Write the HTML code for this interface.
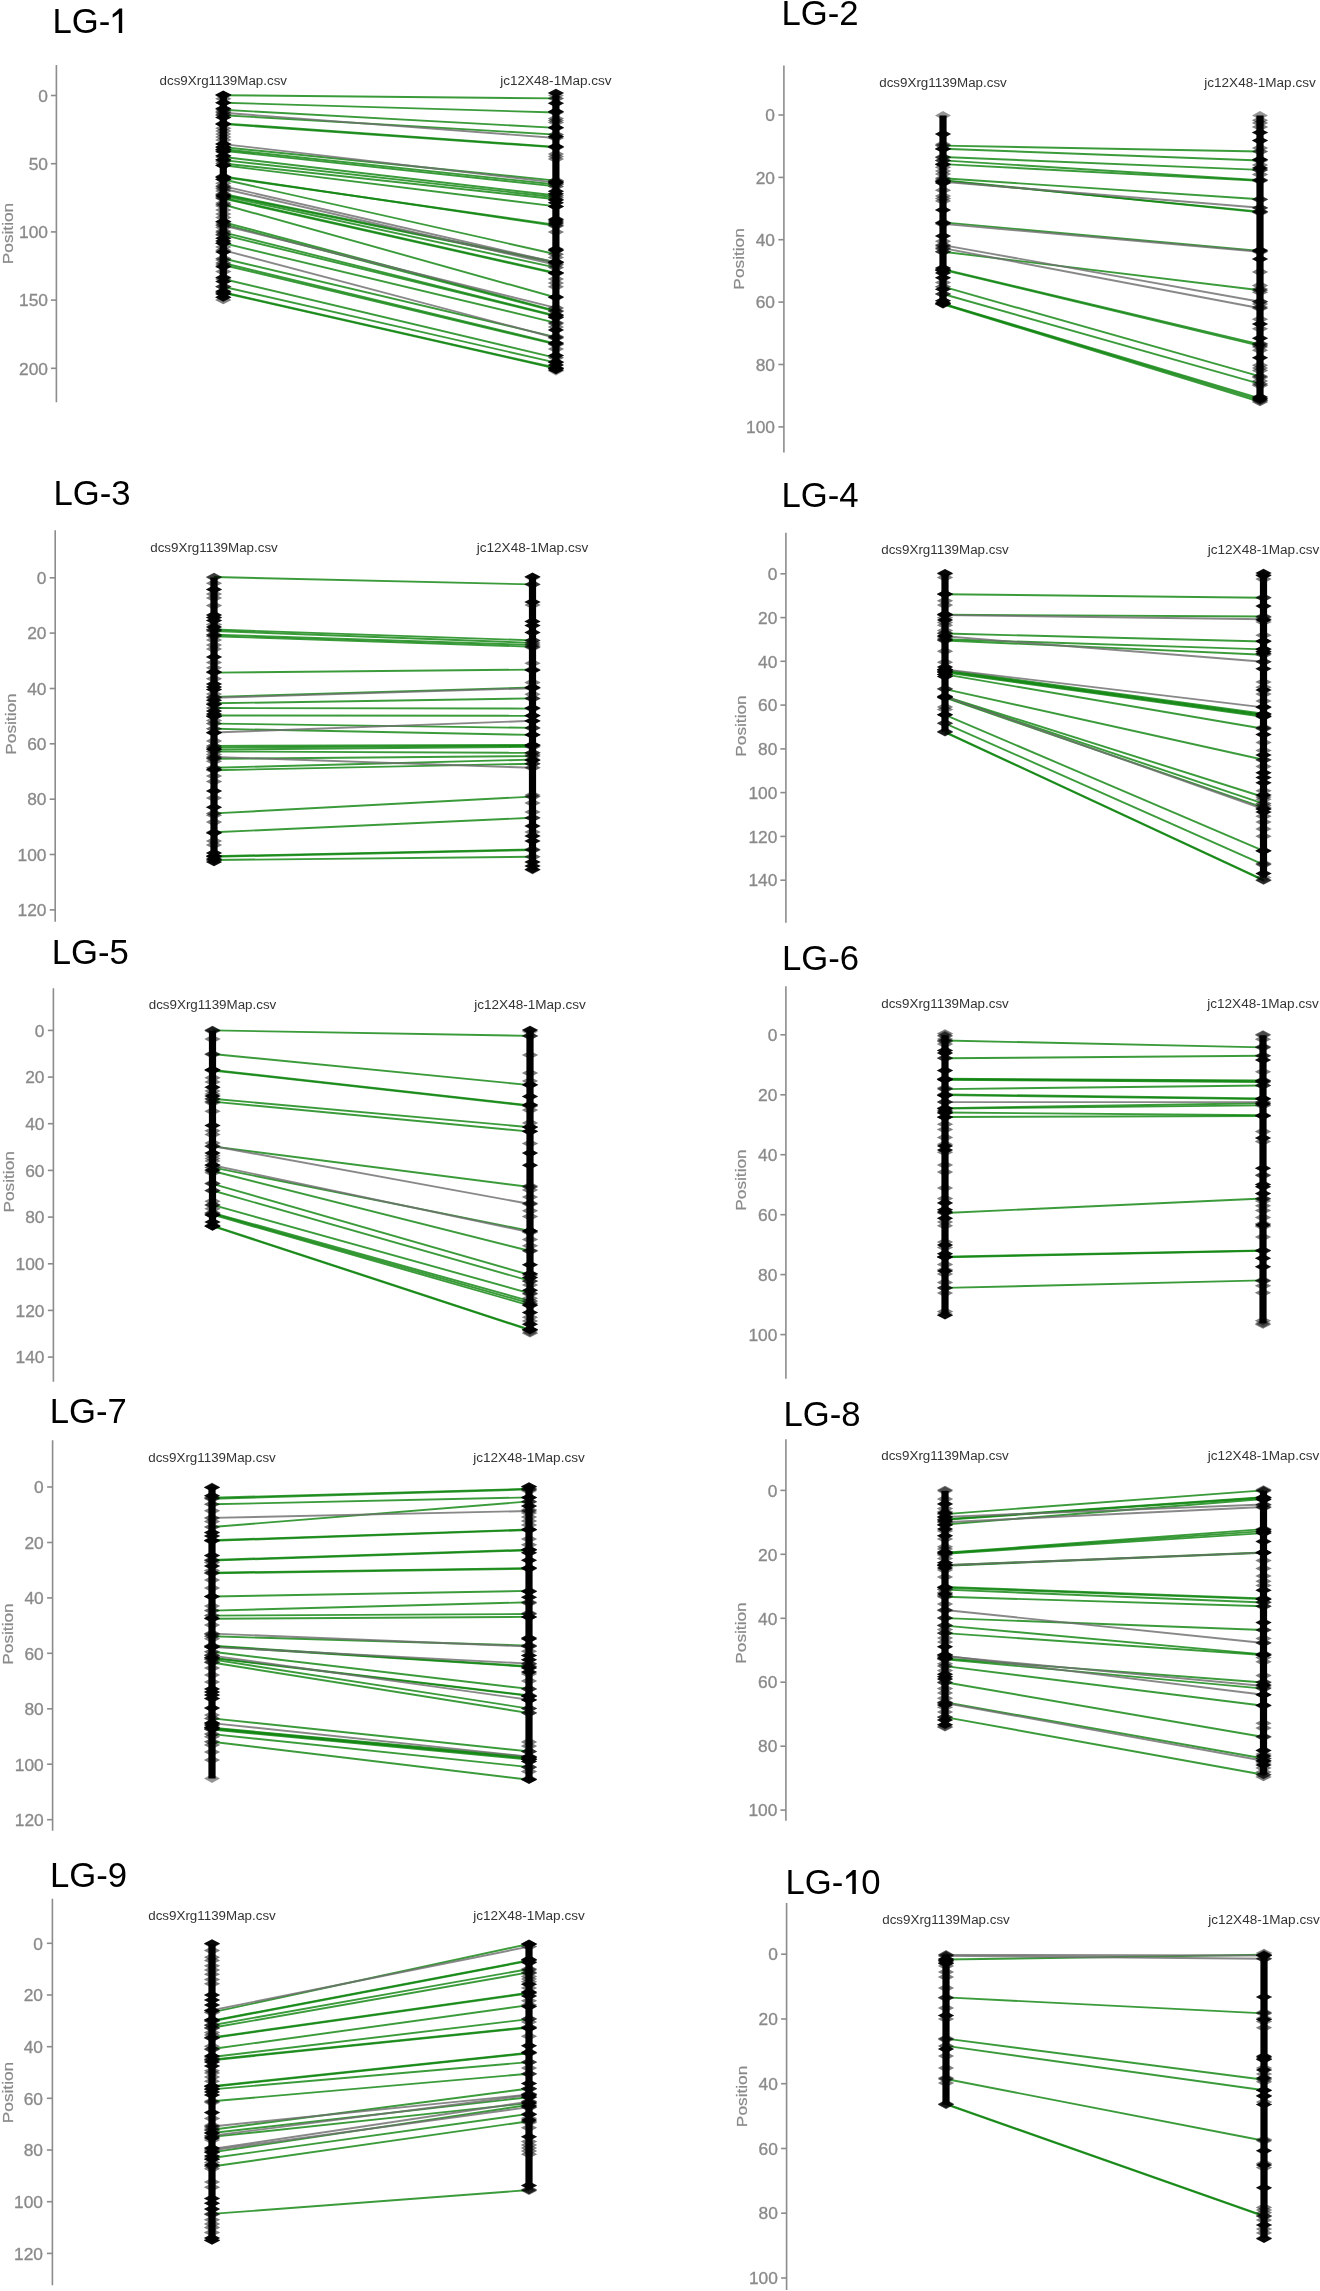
<!DOCTYPE html><html><head><meta charset="utf-8"><style>html,body{margin:0;padding:0;background:#fff;overflow:hidden;}svg{display:block;will-change:transform;}text{font-family:"Liberation Sans",sans-serif;}</style></head><body>
<svg width="1320" height="2291" viewBox="0 0 1320 2291">
<rect width="1320" height="2291" fill="#fff"/>
<g><text x="52.4" y="33" font-size="34.7" fill="#000">LG-</text><path d="M118.8 33L118.8 13.4L112.7 17.7L112.7 14.3Q116.2 12.1 119.4 8.5L122.2 8.5L122.2 33Z" fill="#000"/><line x1="56.4" y1="65" x2="56.4" y2="402.2" stroke="#8c8c8c" stroke-width="1.6"/><line x1="50.9" y1="95.5" x2="56.4" y2="95.5" stroke="#8c8c8c" stroke-width="1.6"/><text transform="translate(48,101.7) scale(1.06,1)" font-size="16.4" fill="#8a8a8a" stroke="#8a8a8a" stroke-width="0.3" text-anchor="end">0</text><line x1="50.9" y1="163.7" x2="56.4" y2="163.7" stroke="#8c8c8c" stroke-width="1.6"/><text transform="translate(48,169.9) scale(1.06,1)" font-size="16.4" fill="#8a8a8a" stroke="#8a8a8a" stroke-width="0.3" text-anchor="end">50</text><line x1="50.9" y1="231.9" x2="56.4" y2="231.9" stroke="#8c8c8c" stroke-width="1.6"/><text transform="translate(48,238.1) scale(1.06,1)" font-size="16.4" fill="#8a8a8a" stroke="#8a8a8a" stroke-width="0.3" text-anchor="end">100</text><line x1="50.9" y1="300.1" x2="56.4" y2="300.1" stroke="#8c8c8c" stroke-width="1.6"/><text transform="translate(48,306.3) scale(1.06,1)" font-size="16.4" fill="#8a8a8a" stroke="#8a8a8a" stroke-width="0.3" text-anchor="end">150</text><line x1="50.9" y1="368.3" x2="56.4" y2="368.3" stroke="#8c8c8c" stroke-width="1.6"/><text transform="translate(48,374.5) scale(1.06,1)" font-size="16.4" fill="#8a8a8a" stroke="#8a8a8a" stroke-width="0.3" text-anchor="end">200</text><text transform="translate(13.3,233.5) rotate(-90) scale(1.115,1)" font-size="15.5" fill="#8a8a8a" stroke="#8a8a8a" stroke-width="0.2" text-anchor="middle">Position</text><text x="223.3" y="85" font-size="12.5" fill="#333" text-anchor="middle" textLength="127.5" lengthAdjust="spacingAndGlyphs">dcs9Xrg1139Map.csv</text><text x="555.9" y="85" font-size="12.5" fill="#333" text-anchor="middle" textLength="111.5" lengthAdjust="spacingAndGlyphs">jc12X48-1Map.csv</text><line x1="223.3" y1="95.2" x2="555.9" y2="98.4" stroke="#108510" stroke-width="1.9" stroke-opacity="0.82"/><line x1="223.3" y1="102.7" x2="555.9" y2="112.5" stroke="#108510" stroke-width="1.9" stroke-opacity="0.82"/><line x1="223.3" y1="109.8" x2="555.9" y2="127.9" stroke="#108510" stroke-width="1.9" stroke-opacity="0.82"/><line x1="223.3" y1="115.2" x2="555.9" y2="134.6" stroke="#108510" stroke-width="1.9" stroke-opacity="0.82"/><line x1="223.3" y1="123.4" x2="555.9" y2="146.9" stroke="#108510" stroke-width="1.9" stroke-opacity="0.82"/><line x1="223.3" y1="124.1" x2="555.9" y2="147.4" stroke="#108510" stroke-width="1.9" stroke-opacity="0.82"/><line x1="223.3" y1="147.2" x2="555.9" y2="180.6" stroke="#108510" stroke-width="1.9" stroke-opacity="0.82"/><line x1="223.3" y1="149.2" x2="555.9" y2="184.5" stroke="#108510" stroke-width="1.9" stroke-opacity="0.82"/><line x1="223.3" y1="150.8" x2="555.9" y2="186.4" stroke="#108510" stroke-width="1.9" stroke-opacity="0.82"/><line x1="223.3" y1="157" x2="555.9" y2="195.5" stroke="#108510" stroke-width="1.9" stroke-opacity="0.82"/><line x1="223.3" y1="160.1" x2="555.9" y2="197.3" stroke="#108510" stroke-width="1.9" stroke-opacity="0.82"/><line x1="223.3" y1="163.5" x2="555.9" y2="199.2" stroke="#108510" stroke-width="1.9" stroke-opacity="0.82"/><line x1="223.3" y1="165.3" x2="555.9" y2="206.4" stroke="#108510" stroke-width="1.9" stroke-opacity="0.82"/><line x1="223.3" y1="176.4" x2="555.9" y2="225.9" stroke="#108510" stroke-width="1.9" stroke-opacity="0.82"/><line x1="223.3" y1="177.1" x2="555.9" y2="224.9" stroke="#108510" stroke-width="1.9" stroke-opacity="0.82"/><line x1="223.3" y1="179.5" x2="555.9" y2="254.2" stroke="#108510" stroke-width="1.9" stroke-opacity="0.82"/><line x1="223.3" y1="194" x2="555.9" y2="262.2" stroke="#108510" stroke-width="1.9" stroke-opacity="0.82"/><line x1="223.3" y1="194.7" x2="555.9" y2="262.9" stroke="#108510" stroke-width="1.9" stroke-opacity="0.82"/><line x1="223.3" y1="195.9" x2="555.9" y2="267.6" stroke="#108510" stroke-width="1.9" stroke-opacity="0.82"/><line x1="223.3" y1="197.8" x2="555.9" y2="272.9" stroke="#108510" stroke-width="1.9" stroke-opacity="0.82"/><line x1="223.3" y1="198.5" x2="555.9" y2="273.6" stroke="#108510" stroke-width="1.9" stroke-opacity="0.82"/><line x1="223.3" y1="204.5" x2="555.9" y2="297.5" stroke="#108510" stroke-width="1.9" stroke-opacity="0.82"/><line x1="223.3" y1="222.1" x2="555.9" y2="310.8" stroke="#108510" stroke-width="1.9" stroke-opacity="0.82"/><line x1="223.3" y1="224.1" x2="555.9" y2="311.5" stroke="#108510" stroke-width="1.9" stroke-opacity="0.82"/><line x1="223.3" y1="232.3" x2="555.9" y2="315.7" stroke="#108510" stroke-width="1.9" stroke-opacity="0.82"/><line x1="223.3" y1="234.9" x2="555.9" y2="316.3" stroke="#108510" stroke-width="1.9" stroke-opacity="0.82"/><line x1="223.3" y1="243.2" x2="555.9" y2="322.8" stroke="#108510" stroke-width="1.9" stroke-opacity="0.82"/><line x1="223.3" y1="258.5" x2="555.9" y2="337.2" stroke="#108510" stroke-width="1.9" stroke-opacity="0.82"/><line x1="223.3" y1="263" x2="555.9" y2="343.7" stroke="#108510" stroke-width="1.9" stroke-opacity="0.82"/><line x1="223.3" y1="265" x2="555.9" y2="344.4" stroke="#108510" stroke-width="1.9" stroke-opacity="0.82"/><line x1="223.3" y1="279" x2="555.9" y2="357.8" stroke="#108510" stroke-width="1.9" stroke-opacity="0.82"/><line x1="223.3" y1="286.7" x2="555.9" y2="362.6" stroke="#108510" stroke-width="1.9" stroke-opacity="0.82"/><line x1="223.3" y1="292.2" x2="555.9" y2="367.8" stroke="#108510" stroke-width="1.9" stroke-opacity="0.82"/><line x1="223.3" y1="292.9" x2="555.9" y2="368.5" stroke="#108510" stroke-width="1.9" stroke-opacity="0.82"/><line x1="223.3" y1="112.8" x2="555.9" y2="138" stroke="#6e6e6e" stroke-width="1.9" stroke-opacity="0.82"/><line x1="223.3" y1="144.1" x2="555.9" y2="182.6" stroke="#6e6e6e" stroke-width="1.9" stroke-opacity="0.82"/><line x1="223.3" y1="186.1" x2="555.9" y2="262.5" stroke="#6e6e6e" stroke-width="1.9" stroke-opacity="0.82"/><line x1="223.3" y1="188.7" x2="555.9" y2="264.7" stroke="#6e6e6e" stroke-width="1.9" stroke-opacity="0.82"/><line x1="223.3" y1="225.5" x2="555.9" y2="307.9" stroke="#6e6e6e" stroke-width="1.9" stroke-opacity="0.82"/><line x1="223.3" y1="250.2" x2="555.9" y2="338" stroke="#6e6e6e" stroke-width="1.9" stroke-opacity="0.82"/><rect x="219.7" y="95.5" width="7.2" height="202" fill="#000"/><path d="M215.1 94.8L223.3 90.5L231.5 94.8L223.3 99.1Z" fill="#000" fill-opacity="0.95"/><path d="M215.1 102.7L223.3 98.4L231.5 102.7L223.3 107Z" fill="#000" fill-opacity="0.95"/><path d="M215.1 108.6L223.3 104.3L231.5 108.6L223.3 112.9Z" fill="#000" fill-opacity="0.95"/><path d="M215.1 117.4L223.3 113.1L231.5 117.4L223.3 121.7Z" fill="#000" fill-opacity="0.95"/><path d="M215.1 124.3L223.3 120L231.5 124.3L223.3 128.6Z" fill="#000" fill-opacity="0.95"/><path d="M215.1 144L223.3 139.7L231.5 144L223.3 148.3Z" fill="#000" fill-opacity="0.95"/><path d="M215.1 147L223.3 142.7L231.5 147L223.3 151.3Z" fill="#000" fill-opacity="0.95"/><path d="M215.1 149.5L223.3 145.2L231.5 149.5L223.3 153.8Z" fill="#000" fill-opacity="0.95"/><path d="M215.1 151.8L223.3 147.5L231.5 151.8L223.3 156.1Z" fill="#000" fill-opacity="0.95"/><path d="M215.1 155.7L223.3 151.4L231.5 155.7L223.3 160Z" fill="#000" fill-opacity="0.95"/><path d="M215.1 159.7L223.3 155.4L231.5 159.7L223.3 164Z" fill="#000" fill-opacity="0.95"/><path d="M215.1 165.5L223.3 161.2L231.5 165.5L223.3 169.8Z" fill="#000" fill-opacity="0.95"/><path d="M215.1 177.3L223.3 173L231.5 177.3L223.3 181.6Z" fill="#000" fill-opacity="0.95"/><path d="M215.1 179.3L223.3 175L231.5 179.3L223.3 183.6Z" fill="#000" fill-opacity="0.95"/><path d="M215.1 196L223.3 191.7L231.5 196L223.3 200.3Z" fill="#000" fill-opacity="0.95"/><path d="M215.1 221.5L223.3 217.2L231.5 221.5L223.3 225.8Z" fill="#000" fill-opacity="0.95"/><path d="M215.1 238.2L223.3 233.9L231.5 238.2L223.3 242.5Z" fill="#000" fill-opacity="0.95"/><path d="M215.1 241L223.3 236.7L231.5 241L223.3 245.3Z" fill="#000" fill-opacity="0.95"/><path d="M215.1 243.2L223.3 238.9L231.5 243.2L223.3 247.5Z" fill="#000" fill-opacity="0.95"/><path d="M215.1 252L223.3 247.7L231.5 252L223.3 256.3Z" fill="#000" fill-opacity="0.95"/><path d="M215.1 266.7L223.3 262.4L231.5 266.7L223.3 271Z" fill="#000" fill-opacity="0.95"/><path d="M215.1 277.5L223.3 273.2L231.5 277.5L223.3 281.8Z" fill="#000" fill-opacity="0.95"/><path d="M215.1 281.5L223.3 277.2L231.5 281.5L223.3 285.8Z" fill="#000" fill-opacity="0.95"/><path d="M215.1 291.3L223.3 287L231.5 291.3L223.3 295.6Z" fill="#000" fill-opacity="0.95"/><path d="M215.1 294L223.3 289.7L231.5 294L223.3 298.3Z" fill="#000" fill-opacity="0.95"/><path d="M215.1 297.2L223.3 292.9L231.5 297.2L223.3 301.5Z" fill="#000" fill-opacity="0.95"/><path d="M215.1 98.8L223.3 94.5L231.5 98.8L223.3 103.1Z" fill="#000" fill-opacity="0.5"/><path d="M215.1 111.5L223.3 107.2L231.5 111.5L223.3 115.8Z" fill="#000" fill-opacity="0.5"/><path d="M215.1 114.5L223.3 110.2L231.5 114.5L223.3 118.8Z" fill="#000" fill-opacity="0.5"/><path d="M215.1 128.2L223.3 123.9L231.5 128.2L223.3 132.5Z" fill="#000" fill-opacity="0.5"/><path d="M215.1 131L223.3 126.7L231.5 131L223.3 135.3Z" fill="#000" fill-opacity="0.5"/><path d="M215.1 134L223.3 129.7L231.5 134L223.3 138.3Z" fill="#000" fill-opacity="0.5"/><path d="M215.1 137L223.3 132.7L231.5 137L223.3 141.3Z" fill="#000" fill-opacity="0.5"/><path d="M215.1 140L223.3 135.7L231.5 140L223.3 144.3Z" fill="#000" fill-opacity="0.5"/><path d="M215.1 161.6L223.3 157.3L231.5 161.6L223.3 165.9Z" fill="#000" fill-opacity="0.5"/><path d="M215.1 183.2L223.3 178.9L231.5 183.2L223.3 187.5Z" fill="#000" fill-opacity="0.5"/><path d="M215.1 187L223.3 182.7L231.5 187L223.3 191.3Z" fill="#000" fill-opacity="0.5"/><path d="M215.1 191L223.3 186.7L231.5 191L223.3 195.3Z" fill="#000" fill-opacity="0.5"/><path d="M215.1 202.9L223.3 198.6L231.5 202.9L223.3 207.2Z" fill="#000" fill-opacity="0.5"/><path d="M215.1 206L223.3 201.7L231.5 206L223.3 210.3Z" fill="#000" fill-opacity="0.5"/><path d="M215.1 210L223.3 205.7L231.5 210L223.3 214.3Z" fill="#000" fill-opacity="0.5"/><path d="M215.1 214L223.3 209.7L231.5 214L223.3 218.3Z" fill="#000" fill-opacity="0.5"/><path d="M215.1 217.6L223.3 213.3L231.5 217.6L223.3 221.9Z" fill="#000" fill-opacity="0.5"/><path d="M215.1 227.4L223.3 223.1L231.5 227.4L223.3 231.7Z" fill="#000" fill-opacity="0.5"/><path d="M215.1 231L223.3 226.7L231.5 231L223.3 235.3Z" fill="#000" fill-opacity="0.5"/><path d="M215.1 234.3L223.3 230L231.5 234.3L223.3 238.6Z" fill="#000" fill-opacity="0.5"/><path d="M215.1 247L223.3 242.7L231.5 247L223.3 251.3Z" fill="#000" fill-opacity="0.5"/><path d="M215.1 260L223.3 255.7L231.5 260L223.3 264.3Z" fill="#000" fill-opacity="0.5"/><path d="M215.1 271.6L223.3 267.3L231.5 271.6L223.3 275.9Z" fill="#000" fill-opacity="0.5"/><path d="M215.1 286.4L223.3 282.1L231.5 286.4L223.3 290.7Z" fill="#000" fill-opacity="0.5"/><path d="M215.1 300L223.3 295.7L231.5 300L223.3 304.3Z" fill="#000" fill-opacity="0.5"/><path d="M215.1 95.2L223.3 90.9L231.5 95.2L223.3 99.5Z" fill="#000" fill-opacity="0.6"/><path d="M215.1 102.7L223.3 98.4L231.5 102.7L223.3 107Z" fill="#000" fill-opacity="0.6"/><path d="M215.1 109.8L223.3 105.5L231.5 109.8L223.3 114.1Z" fill="#000" fill-opacity="0.6"/><path d="M215.1 112.8L223.3 108.5L231.5 112.8L223.3 117.1Z" fill="#000" fill-opacity="0.6"/><path d="M215.1 115.2L223.3 110.9L231.5 115.2L223.3 119.5Z" fill="#000" fill-opacity="0.6"/><path d="M215.1 123.4L223.3 119.1L231.5 123.4L223.3 127.7Z" fill="#000" fill-opacity="0.6"/><path d="M215.1 124.1L223.3 119.8L231.5 124.1L223.3 128.4Z" fill="#000" fill-opacity="0.6"/><path d="M215.1 144.1L223.3 139.8L231.5 144.1L223.3 148.4Z" fill="#000" fill-opacity="0.6"/><path d="M215.1 147.2L223.3 142.9L231.5 147.2L223.3 151.5Z" fill="#000" fill-opacity="0.6"/><path d="M215.1 149.2L223.3 144.9L231.5 149.2L223.3 153.5Z" fill="#000" fill-opacity="0.6"/><path d="M215.1 150.8L223.3 146.5L231.5 150.8L223.3 155.1Z" fill="#000" fill-opacity="0.6"/><path d="M215.1 157L223.3 152.7L231.5 157L223.3 161.3Z" fill="#000" fill-opacity="0.6"/><path d="M215.1 160.1L223.3 155.8L231.5 160.1L223.3 164.4Z" fill="#000" fill-opacity="0.6"/><path d="M215.1 163.5L223.3 159.2L231.5 163.5L223.3 167.8Z" fill="#000" fill-opacity="0.6"/><path d="M215.1 165.3L223.3 161L231.5 165.3L223.3 169.6Z" fill="#000" fill-opacity="0.6"/><path d="M215.1 176.4L223.3 172.1L231.5 176.4L223.3 180.7Z" fill="#000" fill-opacity="0.6"/><path d="M215.1 177.1L223.3 172.8L231.5 177.1L223.3 181.4Z" fill="#000" fill-opacity="0.6"/><path d="M215.1 179.5L223.3 175.2L231.5 179.5L223.3 183.8Z" fill="#000" fill-opacity="0.6"/><path d="M215.1 186.1L223.3 181.8L231.5 186.1L223.3 190.4Z" fill="#000" fill-opacity="0.6"/><path d="M215.1 188.7L223.3 184.4L231.5 188.7L223.3 193Z" fill="#000" fill-opacity="0.6"/><path d="M215.1 194L223.3 189.7L231.5 194L223.3 198.3Z" fill="#000" fill-opacity="0.6"/><path d="M215.1 194.7L223.3 190.4L231.5 194.7L223.3 199Z" fill="#000" fill-opacity="0.6"/><path d="M215.1 195.9L223.3 191.6L231.5 195.9L223.3 200.2Z" fill="#000" fill-opacity="0.6"/><path d="M215.1 197.8L223.3 193.5L231.5 197.8L223.3 202.1Z" fill="#000" fill-opacity="0.6"/><path d="M215.1 198.5L223.3 194.2L231.5 198.5L223.3 202.8Z" fill="#000" fill-opacity="0.6"/><path d="M215.1 204.5L223.3 200.2L231.5 204.5L223.3 208.8Z" fill="#000" fill-opacity="0.6"/><path d="M215.1 222.1L223.3 217.8L231.5 222.1L223.3 226.4Z" fill="#000" fill-opacity="0.6"/><path d="M215.1 224.1L223.3 219.8L231.5 224.1L223.3 228.4Z" fill="#000" fill-opacity="0.6"/><path d="M215.1 225.5L223.3 221.2L231.5 225.5L223.3 229.8Z" fill="#000" fill-opacity="0.6"/><path d="M215.1 232.3L223.3 228L231.5 232.3L223.3 236.6Z" fill="#000" fill-opacity="0.6"/><path d="M215.1 234.9L223.3 230.6L231.5 234.9L223.3 239.2Z" fill="#000" fill-opacity="0.6"/><path d="M215.1 243.2L223.3 238.9L231.5 243.2L223.3 247.5Z" fill="#000" fill-opacity="0.6"/><path d="M215.1 250.2L223.3 245.9L231.5 250.2L223.3 254.5Z" fill="#000" fill-opacity="0.6"/><path d="M215.1 258.5L223.3 254.2L231.5 258.5L223.3 262.8Z" fill="#000" fill-opacity="0.6"/><path d="M215.1 263L223.3 258.7L231.5 263L223.3 267.3Z" fill="#000" fill-opacity="0.6"/><path d="M215.1 265L223.3 260.7L231.5 265L223.3 269.3Z" fill="#000" fill-opacity="0.6"/><path d="M215.1 279L223.3 274.7L231.5 279L223.3 283.3Z" fill="#000" fill-opacity="0.6"/><path d="M215.1 286.7L223.3 282.4L231.5 286.7L223.3 291Z" fill="#000" fill-opacity="0.6"/><path d="M215.1 292.2L223.3 287.9L231.5 292.2L223.3 296.5Z" fill="#000" fill-opacity="0.6"/><path d="M215.1 292.9L223.3 288.6L231.5 292.9L223.3 297.2Z" fill="#000" fill-opacity="0.6"/><path d="M215.3 95.5L223.3 91L231.3 95.5L223.3 100ZM215.3 297.5L223.3 293L231.3 297.5L223.3 302Z" fill="#000" fill-opacity="0.42"/><rect x="552.3" y="95.5" width="7.2" height="275.5" fill="#000"/><path d="M547.7 93L555.9 88.7L564.1 93L555.9 97.3Z" fill="#000" fill-opacity="0.95"/><path d="M547.7 103.3L555.9 99L564.1 103.3L555.9 107.6Z" fill="#000" fill-opacity="0.95"/><path d="M547.7 111.6L555.9 107.3L564.1 111.6L555.9 115.9Z" fill="#000" fill-opacity="0.95"/><path d="M547.7 127.5L555.9 123.2L564.1 127.5L555.9 131.8Z" fill="#000" fill-opacity="0.95"/><path d="M547.7 136.4L555.9 132.1L564.1 136.4L555.9 140.7Z" fill="#000" fill-opacity="0.95"/><path d="M547.7 146.6L555.9 142.3L564.1 146.6L555.9 150.9Z" fill="#000" fill-opacity="0.95"/><path d="M547.7 181.7L555.9 177.4L564.1 181.7L555.9 186Z" fill="#000" fill-opacity="0.95"/><path d="M547.7 183L555.9 178.7L564.1 183L555.9 187.3Z" fill="#000" fill-opacity="0.95"/><path d="M547.7 191.2L555.9 186.9L564.1 191.2L555.9 195.5Z" fill="#000" fill-opacity="0.95"/><path d="M547.7 193.8L555.9 189.5L564.1 193.8L555.9 198.1Z" fill="#000" fill-opacity="0.95"/><path d="M547.7 200L555.9 195.7L564.1 200L555.9 204.3Z" fill="#000" fill-opacity="0.95"/><path d="M547.7 202.7L555.9 198.4L564.1 202.7L555.9 207Z" fill="#000" fill-opacity="0.95"/><path d="M547.7 206.5L555.9 202.2L564.1 206.5L555.9 210.8Z" fill="#000" fill-opacity="0.95"/><path d="M547.7 219.3L555.9 215L564.1 219.3L555.9 223.6Z" fill="#000" fill-opacity="0.95"/><path d="M547.7 221L555.9 216.7L564.1 221L555.9 225.3Z" fill="#000" fill-opacity="0.95"/><path d="M547.7 223L555.9 218.7L564.1 223L555.9 227.3Z" fill="#000" fill-opacity="0.95"/><path d="M547.7 249.2L555.9 244.9L564.1 249.2L555.9 253.5Z" fill="#000" fill-opacity="0.95"/><path d="M547.7 250.5L555.9 246.2L564.1 250.5L555.9 254.8Z" fill="#000" fill-opacity="0.95"/><path d="M547.7 262L555.9 257.7L564.1 262L555.9 266.3Z" fill="#000" fill-opacity="0.95"/><path d="M547.7 272.8L555.9 268.5L564.1 272.8L555.9 277.1Z" fill="#000" fill-opacity="0.95"/><path d="M547.7 297L555.9 292.7L564.1 297L555.9 301.3Z" fill="#000" fill-opacity="0.95"/><path d="M547.7 314.9L555.9 310.6L564.1 314.9L555.9 319.2Z" fill="#000" fill-opacity="0.95"/><path d="M547.7 317.4L555.9 313.1L564.1 317.4L555.9 321.7Z" fill="#000" fill-opacity="0.95"/><path d="M547.7 330L555.9 325.7L564.1 330L555.9 334.3Z" fill="#000" fill-opacity="0.95"/><path d="M547.7 343L555.9 338.7L564.1 343L555.9 347.3Z" fill="#000" fill-opacity="0.95"/><path d="M547.7 355.6L555.9 351.3L564.1 355.6L555.9 359.9Z" fill="#000" fill-opacity="0.95"/><path d="M547.7 362L555.9 357.7L564.1 362L555.9 366.3Z" fill="#000" fill-opacity="0.95"/><path d="M547.7 365L555.9 360.7L564.1 365L555.9 369.3Z" fill="#000" fill-opacity="0.95"/><path d="M547.7 368.4L555.9 364.1L564.1 368.4L555.9 372.7Z" fill="#000" fill-opacity="0.95"/><path d="M547.7 370L555.9 365.7L564.1 370L555.9 374.3Z" fill="#000" fill-opacity="0.95"/><path d="M547.7 118.6L555.9 114.3L564.1 118.6L555.9 122.9Z" fill="#000" fill-opacity="0.5"/><path d="M547.7 120.5L555.9 116.2L564.1 120.5L555.9 124.8Z" fill="#000" fill-opacity="0.5"/><path d="M547.7 122.4L555.9 118.1L564.1 122.4L555.9 126.7Z" fill="#000" fill-opacity="0.5"/><path d="M547.7 154L555.9 149.7L564.1 154L555.9 158.3Z" fill="#000" fill-opacity="0.5"/><path d="M547.7 156.5L555.9 152.2L564.1 156.5L555.9 160.8Z" fill="#000" fill-opacity="0.5"/><path d="M547.7 159L555.9 154.7L564.1 159L555.9 163.3Z" fill="#000" fill-opacity="0.5"/><path d="M547.7 232L555.9 227.7L564.1 232L555.9 236.3Z" fill="#000" fill-opacity="0.5"/><path d="M547.7 257.5L555.9 253.2L564.1 257.5L555.9 261.8Z" fill="#000" fill-opacity="0.5"/><path d="M547.7 279L555.9 274.7L564.1 279L555.9 283.3Z" fill="#000" fill-opacity="0.5"/><path d="M547.7 283L555.9 278.7L564.1 283L555.9 287.3Z" fill="#000" fill-opacity="0.5"/><path d="M547.7 286.8L555.9 282.5L564.1 286.8L555.9 291.1Z" fill="#000" fill-opacity="0.5"/><path d="M547.7 323.8L555.9 319.5L564.1 323.8L555.9 328.1Z" fill="#000" fill-opacity="0.5"/><path d="M547.7 327L555.9 322.7L564.1 327L555.9 331.3Z" fill="#000" fill-opacity="0.5"/><path d="M547.7 336.5L555.9 332.2L564.1 336.5L555.9 340.8Z" fill="#000" fill-opacity="0.5"/><path d="M547.7 349L555.9 344.7L564.1 349L555.9 353.3Z" fill="#000" fill-opacity="0.5"/><path d="M547.7 98.4L555.9 94.1L564.1 98.4L555.9 102.7Z" fill="#000" fill-opacity="0.6"/><path d="M547.7 112.5L555.9 108.2L564.1 112.5L555.9 116.8Z" fill="#000" fill-opacity="0.6"/><path d="M547.7 127.9L555.9 123.6L564.1 127.9L555.9 132.2Z" fill="#000" fill-opacity="0.6"/><path d="M547.7 134.6L555.9 130.3L564.1 134.6L555.9 138.9Z" fill="#000" fill-opacity="0.6"/><path d="M547.7 138L555.9 133.7L564.1 138L555.9 142.3Z" fill="#000" fill-opacity="0.6"/><path d="M547.7 146.9L555.9 142.6L564.1 146.9L555.9 151.2Z" fill="#000" fill-opacity="0.6"/><path d="M547.7 147.4L555.9 143.1L564.1 147.4L555.9 151.7Z" fill="#000" fill-opacity="0.6"/><path d="M547.7 180.6L555.9 176.3L564.1 180.6L555.9 184.9Z" fill="#000" fill-opacity="0.6"/><path d="M547.7 182.6L555.9 178.3L564.1 182.6L555.9 186.9Z" fill="#000" fill-opacity="0.6"/><path d="M547.7 184.5L555.9 180.2L564.1 184.5L555.9 188.8Z" fill="#000" fill-opacity="0.6"/><path d="M547.7 186.4L555.9 182.1L564.1 186.4L555.9 190.7Z" fill="#000" fill-opacity="0.6"/><path d="M547.7 195.5L555.9 191.2L564.1 195.5L555.9 199.8Z" fill="#000" fill-opacity="0.6"/><path d="M547.7 197.3L555.9 193L564.1 197.3L555.9 201.6Z" fill="#000" fill-opacity="0.6"/><path d="M547.7 199.2L555.9 194.9L564.1 199.2L555.9 203.5Z" fill="#000" fill-opacity="0.6"/><path d="M547.7 206.4L555.9 202.1L564.1 206.4L555.9 210.7Z" fill="#000" fill-opacity="0.6"/><path d="M547.7 224.9L555.9 220.6L564.1 224.9L555.9 229.2Z" fill="#000" fill-opacity="0.6"/><path d="M547.7 225.9L555.9 221.6L564.1 225.9L555.9 230.2Z" fill="#000" fill-opacity="0.6"/><path d="M547.7 254.2L555.9 249.9L564.1 254.2L555.9 258.5Z" fill="#000" fill-opacity="0.6"/><path d="M547.7 262.2L555.9 257.9L564.1 262.2L555.9 266.5Z" fill="#000" fill-opacity="0.6"/><path d="M547.7 262.5L555.9 258.2L564.1 262.5L555.9 266.8Z" fill="#000" fill-opacity="0.6"/><path d="M547.7 262.9L555.9 258.6L564.1 262.9L555.9 267.2Z" fill="#000" fill-opacity="0.6"/><path d="M547.7 264.7L555.9 260.4L564.1 264.7L555.9 269Z" fill="#000" fill-opacity="0.6"/><path d="M547.7 267.6L555.9 263.3L564.1 267.6L555.9 271.9Z" fill="#000" fill-opacity="0.6"/><path d="M547.7 272.9L555.9 268.6L564.1 272.9L555.9 277.2Z" fill="#000" fill-opacity="0.6"/><path d="M547.7 273.6L555.9 269.3L564.1 273.6L555.9 277.9Z" fill="#000" fill-opacity="0.6"/><path d="M547.7 297.5L555.9 293.2L564.1 297.5L555.9 301.8Z" fill="#000" fill-opacity="0.6"/><path d="M547.7 307.9L555.9 303.6L564.1 307.9L555.9 312.2Z" fill="#000" fill-opacity="0.6"/><path d="M547.7 310.8L555.9 306.5L564.1 310.8L555.9 315.1Z" fill="#000" fill-opacity="0.6"/><path d="M547.7 311.5L555.9 307.2L564.1 311.5L555.9 315.8Z" fill="#000" fill-opacity="0.6"/><path d="M547.7 315.7L555.9 311.4L564.1 315.7L555.9 320Z" fill="#000" fill-opacity="0.6"/><path d="M547.7 316.3L555.9 312L564.1 316.3L555.9 320.6Z" fill="#000" fill-opacity="0.6"/><path d="M547.7 322.8L555.9 318.5L564.1 322.8L555.9 327.1Z" fill="#000" fill-opacity="0.6"/><path d="M547.7 337.2L555.9 332.9L564.1 337.2L555.9 341.5Z" fill="#000" fill-opacity="0.6"/><path d="M547.7 338L555.9 333.7L564.1 338L555.9 342.3Z" fill="#000" fill-opacity="0.6"/><path d="M547.7 343.7L555.9 339.4L564.1 343.7L555.9 348Z" fill="#000" fill-opacity="0.6"/><path d="M547.7 344.4L555.9 340.1L564.1 344.4L555.9 348.7Z" fill="#000" fill-opacity="0.6"/><path d="M547.7 357.8L555.9 353.5L564.1 357.8L555.9 362.1Z" fill="#000" fill-opacity="0.6"/><path d="M547.7 362.6L555.9 358.3L564.1 362.6L555.9 366.9Z" fill="#000" fill-opacity="0.6"/><path d="M547.7 367.8L555.9 363.5L564.1 367.8L555.9 372.1Z" fill="#000" fill-opacity="0.6"/><path d="M547.7 368.5L555.9 364.2L564.1 368.5L555.9 372.8Z" fill="#000" fill-opacity="0.6"/><path d="M547.9 95.5L555.9 91L563.9 95.5L555.9 100ZM547.9 371L555.9 366.5L563.9 371L555.9 375.5Z" fill="#000" fill-opacity="0.42"/></g>
<g><text x="781.4" y="24.8" font-size="34.7" fill="#000">LG-2</text><line x1="783.9" y1="65.5" x2="783.9" y2="452.6" stroke="#8c8c8c" stroke-width="1.6"/><line x1="778.4" y1="115" x2="783.9" y2="115" stroke="#8c8c8c" stroke-width="1.6"/><text transform="translate(775,121.2) scale(1.06,1)" font-size="16.4" fill="#8a8a8a" stroke="#8a8a8a" stroke-width="0.3" text-anchor="end">0</text><line x1="778.4" y1="177.4" x2="783.9" y2="177.4" stroke="#8c8c8c" stroke-width="1.6"/><text transform="translate(775,183.6) scale(1.06,1)" font-size="16.4" fill="#8a8a8a" stroke="#8a8a8a" stroke-width="0.3" text-anchor="end">20</text><line x1="778.4" y1="239.7" x2="783.9" y2="239.7" stroke="#8c8c8c" stroke-width="1.6"/><text transform="translate(775,245.9) scale(1.06,1)" font-size="16.4" fill="#8a8a8a" stroke="#8a8a8a" stroke-width="0.3" text-anchor="end">40</text><line x1="778.4" y1="302.1" x2="783.9" y2="302.1" stroke="#8c8c8c" stroke-width="1.6"/><text transform="translate(775,308.3) scale(1.06,1)" font-size="16.4" fill="#8a8a8a" stroke="#8a8a8a" stroke-width="0.3" text-anchor="end">60</text><line x1="778.4" y1="364.5" x2="783.9" y2="364.5" stroke="#8c8c8c" stroke-width="1.6"/><text transform="translate(775,370.7) scale(1.06,1)" font-size="16.4" fill="#8a8a8a" stroke="#8a8a8a" stroke-width="0.3" text-anchor="end">80</text><line x1="778.4" y1="426.9" x2="783.9" y2="426.9" stroke="#8c8c8c" stroke-width="1.6"/><text transform="translate(775,433.1) scale(1.06,1)" font-size="16.4" fill="#8a8a8a" stroke="#8a8a8a" stroke-width="0.3" text-anchor="end">100</text><text transform="translate(743.6,258.9) rotate(-90) scale(1.115,1)" font-size="15.5" fill="#8a8a8a" stroke="#8a8a8a" stroke-width="0.2" text-anchor="middle">Position</text><text x="943" y="86.5" font-size="12.5" fill="#333" text-anchor="middle" textLength="127.5" lengthAdjust="spacingAndGlyphs">dcs9Xrg1139Map.csv</text><text x="1260" y="86.5" font-size="12.5" fill="#333" text-anchor="middle" textLength="111.5" lengthAdjust="spacingAndGlyphs">jc12X48-1Map.csv</text><line x1="943" y1="145.6" x2="1260" y2="151.5" stroke="#108510" stroke-width="1.9" stroke-opacity="0.82"/><line x1="943" y1="148.8" x2="1260" y2="160.5" stroke="#108510" stroke-width="1.9" stroke-opacity="0.82"/><line x1="943" y1="157" x2="1260" y2="169.9" stroke="#108510" stroke-width="1.9" stroke-opacity="0.82"/><line x1="943" y1="160.4" x2="1260" y2="180.3" stroke="#108510" stroke-width="1.9" stroke-opacity="0.82"/><line x1="943" y1="164.1" x2="1260" y2="180.8" stroke="#108510" stroke-width="1.9" stroke-opacity="0.82"/><line x1="943" y1="178.3" x2="1260" y2="199.3" stroke="#108510" stroke-width="1.9" stroke-opacity="0.82"/><line x1="943" y1="180.8" x2="1260" y2="211.6" stroke="#108510" stroke-width="1.9" stroke-opacity="0.82"/><line x1="943" y1="180.1" x2="1260" y2="212.4" stroke="#108510" stroke-width="1.9" stroke-opacity="0.82"/><line x1="943" y1="222.4" x2="1260" y2="251" stroke="#108510" stroke-width="1.9" stroke-opacity="0.82"/><line x1="943" y1="251.7" x2="1260" y2="290.3" stroke="#108510" stroke-width="1.9" stroke-opacity="0.82"/><line x1="943" y1="269.2" x2="1260" y2="344.3" stroke="#108510" stroke-width="1.9" stroke-opacity="0.82"/><line x1="943" y1="269.8" x2="1260" y2="345.8" stroke="#108510" stroke-width="1.9" stroke-opacity="0.82"/><line x1="943" y1="286.7" x2="1260" y2="376.3" stroke="#108510" stroke-width="1.9" stroke-opacity="0.82"/><line x1="943" y1="294" x2="1260" y2="383.9" stroke="#108510" stroke-width="1.9" stroke-opacity="0.82"/><line x1="943" y1="303.6" x2="1260" y2="398.4" stroke="#108510" stroke-width="1.9" stroke-opacity="0.82"/><line x1="943" y1="303.9" x2="1260" y2="400.2" stroke="#108510" stroke-width="1.9" stroke-opacity="0.82"/><line x1="943" y1="304.3" x2="1260" y2="401.9" stroke="#108510" stroke-width="1.9" stroke-opacity="0.82"/><line x1="943" y1="181.8" x2="1260" y2="207.7" stroke="#6e6e6e" stroke-width="1.9" stroke-opacity="0.82"/><line x1="943" y1="223.9" x2="1260" y2="251.7" stroke="#6e6e6e" stroke-width="1.9" stroke-opacity="0.82"/><line x1="943" y1="245.1" x2="1260" y2="301.7" stroke="#6e6e6e" stroke-width="1.9" stroke-opacity="0.82"/><line x1="943" y1="248.1" x2="1260" y2="308.2" stroke="#6e6e6e" stroke-width="1.9" stroke-opacity="0.82"/><rect x="939.4" y="115.5" width="7.2" height="188.5" fill="#000"/><path d="M934.8 134.1L943 129.8L951.2 134.1L943 138.4Z" fill="#000" fill-opacity="0.95"/><path d="M934.8 149L943 144.7L951.2 149L943 153.3Z" fill="#000" fill-opacity="0.95"/><path d="M934.8 164.4L943 160.1L951.2 164.4L943 168.7Z" fill="#000" fill-opacity="0.95"/><path d="M934.8 181.7L943 177.4L951.2 181.7L943 186Z" fill="#000" fill-opacity="0.95"/><path d="M934.8 183L943 178.7L951.2 183L943 187.3Z" fill="#000" fill-opacity="0.95"/><path d="M934.8 210L943 205.7L951.2 210L943 214.3Z" fill="#000" fill-opacity="0.95"/><path d="M934.8 223L943 218.7L951.2 223L943 227.3Z" fill="#000" fill-opacity="0.95"/><path d="M934.8 236L943 231.7L951.2 236L943 240.3Z" fill="#000" fill-opacity="0.95"/><path d="M934.8 268L943 263.7L951.2 268L943 272.3Z" fill="#000" fill-opacity="0.95"/><path d="M934.8 270.5L943 266.2L951.2 270.5L943 274.8Z" fill="#000" fill-opacity="0.95"/><path d="M934.8 272.9L943 268.6L951.2 272.9L943 277.2Z" fill="#000" fill-opacity="0.95"/><path d="M934.8 277.7L943 273.4L951.2 277.7L943 282Z" fill="#000" fill-opacity="0.95"/><path d="M934.8 289.2L943 284.9L951.2 289.2L943 293.5Z" fill="#000" fill-opacity="0.95"/><path d="M934.8 300.8L943 296.5L951.2 300.8L943 305.1Z" fill="#000" fill-opacity="0.95"/><path d="M934.8 303L943 298.7L951.2 303L943 307.3Z" fill="#000" fill-opacity="0.95"/><path d="M934.8 144.2L943 139.9L951.2 144.2L943 148.5Z" fill="#000" fill-opacity="0.5"/><path d="M934.8 157.6L943 153.3L951.2 157.6L943 161.9Z" fill="#000" fill-opacity="0.5"/><path d="M934.8 160.5L943 156.2L951.2 160.5L943 164.8Z" fill="#000" fill-opacity="0.5"/><path d="M934.8 167.2L943 162.9L951.2 167.2L943 171.5Z" fill="#000" fill-opacity="0.5"/><path d="M934.8 171L943 166.7L951.2 171L943 175.3Z" fill="#000" fill-opacity="0.5"/><path d="M934.8 174L943 169.7L951.2 174L943 178.3Z" fill="#000" fill-opacity="0.5"/><path d="M934.8 190.3L943 186L951.2 190.3L943 194.6Z" fill="#000" fill-opacity="0.5"/><path d="M934.8 196L943 191.7L951.2 196L943 200.3Z" fill="#000" fill-opacity="0.5"/><path d="M934.8 198.5L943 194.2L951.2 198.5L943 202.8Z" fill="#000" fill-opacity="0.5"/><path d="M934.8 200.9L943 196.6L951.2 200.9L943 205.2Z" fill="#000" fill-opacity="0.5"/><path d="M934.8 241.2L943 236.9L951.2 241.2L943 245.5Z" fill="#000" fill-opacity="0.5"/><path d="M934.8 246L943 241.7L951.2 246L943 250.3Z" fill="#000" fill-opacity="0.5"/><path d="M934.8 249L943 244.7L951.2 249L943 253.3Z" fill="#000" fill-opacity="0.5"/><path d="M934.8 251.8L943 247.5L951.2 251.8L943 256.1Z" fill="#000" fill-opacity="0.5"/><path d="M934.8 282.5L943 278.2L951.2 282.5L943 286.8Z" fill="#000" fill-opacity="0.5"/><path d="M934.8 294L943 289.7L951.2 294L943 298.3Z" fill="#000" fill-opacity="0.5"/><path d="M934.8 145.6L943 141.3L951.2 145.6L943 149.9Z" fill="#000" fill-opacity="0.6"/><path d="M934.8 148.8L943 144.5L951.2 148.8L943 153.1Z" fill="#000" fill-opacity="0.6"/><path d="M934.8 157L943 152.7L951.2 157L943 161.3Z" fill="#000" fill-opacity="0.6"/><path d="M934.8 160.4L943 156.1L951.2 160.4L943 164.7Z" fill="#000" fill-opacity="0.6"/><path d="M934.8 164.1L943 159.8L951.2 164.1L943 168.4Z" fill="#000" fill-opacity="0.6"/><path d="M934.8 178.3L943 174L951.2 178.3L943 182.6Z" fill="#000" fill-opacity="0.6"/><path d="M934.8 180.1L943 175.8L951.2 180.1L943 184.4Z" fill="#000" fill-opacity="0.6"/><path d="M934.8 180.8L943 176.5L951.2 180.8L943 185.1Z" fill="#000" fill-opacity="0.6"/><path d="M934.8 181.8L943 177.5L951.2 181.8L943 186.1Z" fill="#000" fill-opacity="0.6"/><path d="M934.8 222.4L943 218.1L951.2 222.4L943 226.7Z" fill="#000" fill-opacity="0.6"/><path d="M934.8 223.9L943 219.6L951.2 223.9L943 228.2Z" fill="#000" fill-opacity="0.6"/><path d="M934.8 245.1L943 240.8L951.2 245.1L943 249.4Z" fill="#000" fill-opacity="0.6"/><path d="M934.8 248.1L943 243.8L951.2 248.1L943 252.4Z" fill="#000" fill-opacity="0.6"/><path d="M934.8 251.7L943 247.4L951.2 251.7L943 256Z" fill="#000" fill-opacity="0.6"/><path d="M934.8 269.2L943 264.9L951.2 269.2L943 273.5Z" fill="#000" fill-opacity="0.6"/><path d="M934.8 269.8L943 265.5L951.2 269.8L943 274.1Z" fill="#000" fill-opacity="0.6"/><path d="M934.8 286.7L943 282.4L951.2 286.7L943 291Z" fill="#000" fill-opacity="0.6"/><path d="M934.8 294L943 289.7L951.2 294L943 298.3Z" fill="#000" fill-opacity="0.6"/><path d="M934.8 303.6L943 299.3L951.2 303.6L943 307.9Z" fill="#000" fill-opacity="0.6"/><path d="M934.8 303.9L943 299.6L951.2 303.9L943 308.2Z" fill="#000" fill-opacity="0.6"/><path d="M934.8 304.3L943 300L951.2 304.3L943 308.6Z" fill="#000" fill-opacity="0.6"/><path d="M935 115.5L943 111L951 115.5L943 120ZM935 304L943 299.5L951 304L943 308.5Z" fill="#000" fill-opacity="0.42"/><rect x="1256.4" y="115.5" width="7.2" height="285" fill="#000"/><path d="M1251.8 132.5L1260 128.2L1268.2 132.5L1260 136.8Z" fill="#000" fill-opacity="0.95"/><path d="M1251.8 140.6L1260 136.3L1268.2 140.6L1260 144.9Z" fill="#000" fill-opacity="0.95"/><path d="M1251.8 159.5L1260 155.2L1268.2 159.5L1260 163.8Z" fill="#000" fill-opacity="0.95"/><path d="M1251.8 168L1260 163.7L1268.2 168L1260 172.3Z" fill="#000" fill-opacity="0.95"/><path d="M1251.8 250.2L1260 245.9L1268.2 250.2L1260 254.5Z" fill="#000" fill-opacity="0.95"/><path d="M1251.8 259L1260 254.7L1268.2 259L1260 263.3Z" fill="#000" fill-opacity="0.95"/><path d="M1251.8 324L1260 319.7L1268.2 324L1260 328.3Z" fill="#000" fill-opacity="0.95"/><path d="M1251.8 338.2L1260 333.9L1268.2 338.2L1260 342.5Z" fill="#000" fill-opacity="0.95"/><path d="M1251.8 357.8L1260 353.5L1268.2 357.8L1260 362.1Z" fill="#000" fill-opacity="0.95"/><path d="M1251.8 397L1260 392.7L1268.2 397L1260 401.3Z" fill="#000" fill-opacity="0.95"/><path d="M1251.8 399L1260 394.7L1268.2 399L1260 403.3Z" fill="#000" fill-opacity="0.95"/><path d="M1251.8 120.3L1260 116L1268.2 120.3L1260 124.6Z" fill="#000" fill-opacity="0.5"/><path d="M1251.8 123L1260 118.7L1268.2 123L1260 127.3Z" fill="#000" fill-opacity="0.5"/><path d="M1251.8 127L1260 122.7L1268.2 127L1260 131.3Z" fill="#000" fill-opacity="0.5"/><path d="M1251.8 148L1260 143.7L1268.2 148L1260 152.3Z" fill="#000" fill-opacity="0.5"/><path d="M1251.8 165L1260 160.7L1268.2 165L1260 169.3Z" fill="#000" fill-opacity="0.5"/><path d="M1251.8 170L1260 165.7L1268.2 170L1260 174.3Z" fill="#000" fill-opacity="0.5"/><path d="M1251.8 174.4L1260 170.1L1268.2 174.4L1260 178.7Z" fill="#000" fill-opacity="0.5"/><path d="M1251.8 179.8L1260 175.5L1268.2 179.8L1260 184.1Z" fill="#000" fill-opacity="0.5"/><path d="M1251.8 199.5L1260 195.2L1268.2 199.5L1260 203.8Z" fill="#000" fill-opacity="0.5"/><path d="M1251.8 208L1260 203.7L1268.2 208L1260 212.3Z" fill="#000" fill-opacity="0.5"/><path d="M1251.8 211.6L1260 207.3L1268.2 211.6L1260 215.9Z" fill="#000" fill-opacity="0.5"/><path d="M1251.8 271.9L1260 267.6L1268.2 271.9L1260 276.2Z" fill="#000" fill-opacity="0.5"/><path d="M1251.8 285.4L1260 281.1L1268.2 285.4L1260 289.7Z" fill="#000" fill-opacity="0.5"/><path d="M1251.8 289L1260 284.7L1268.2 289L1260 293.3Z" fill="#000" fill-opacity="0.5"/><path d="M1251.8 292.2L1260 287.9L1268.2 292.2L1260 296.5Z" fill="#000" fill-opacity="0.5"/><path d="M1251.8 301.6L1260 297.3L1268.2 301.6L1260 305.9Z" fill="#000" fill-opacity="0.5"/><path d="M1251.8 304L1260 299.7L1268.2 304L1260 308.3Z" fill="#000" fill-opacity="0.5"/><path d="M1251.8 307L1260 302.7L1268.2 307L1260 311.3Z" fill="#000" fill-opacity="0.5"/><path d="M1251.8 319.2L1260 314.9L1268.2 319.2L1260 323.5Z" fill="#000" fill-opacity="0.5"/><path d="M1251.8 328.7L1260 324.4L1268.2 328.7L1260 333Z" fill="#000" fill-opacity="0.5"/><path d="M1251.8 343.6L1260 339.3L1268.2 343.6L1260 347.9Z" fill="#000" fill-opacity="0.5"/><path d="M1251.8 347L1260 342.7L1268.2 347L1260 351.3Z" fill="#000" fill-opacity="0.5"/><path d="M1251.8 350.3L1260 346L1268.2 350.3L1260 354.6Z" fill="#000" fill-opacity="0.5"/><path d="M1251.8 365.2L1260 360.9L1268.2 365.2L1260 369.5Z" fill="#000" fill-opacity="0.5"/><path d="M1251.8 368L1260 363.7L1268.2 368L1260 372.3Z" fill="#000" fill-opacity="0.5"/><path d="M1251.8 370.6L1260 366.3L1268.2 370.6L1260 374.9Z" fill="#000" fill-opacity="0.5"/><path d="M1251.8 377.4L1260 373.1L1268.2 377.4L1260 381.7Z" fill="#000" fill-opacity="0.5"/><path d="M1251.8 381L1260 376.7L1268.2 381L1260 385.3Z" fill="#000" fill-opacity="0.5"/><path d="M1251.8 385.5L1260 381.2L1268.2 385.5L1260 389.8Z" fill="#000" fill-opacity="0.5"/><path d="M1251.8 151.5L1260 147.2L1268.2 151.5L1260 155.8Z" fill="#000" fill-opacity="0.6"/><path d="M1251.8 160.5L1260 156.2L1268.2 160.5L1260 164.8Z" fill="#000" fill-opacity="0.6"/><path d="M1251.8 169.9L1260 165.6L1268.2 169.9L1260 174.2Z" fill="#000" fill-opacity="0.6"/><path d="M1251.8 180.3L1260 176L1268.2 180.3L1260 184.6Z" fill="#000" fill-opacity="0.6"/><path d="M1251.8 180.8L1260 176.5L1268.2 180.8L1260 185.1Z" fill="#000" fill-opacity="0.6"/><path d="M1251.8 199.3L1260 195L1268.2 199.3L1260 203.6Z" fill="#000" fill-opacity="0.6"/><path d="M1251.8 207.7L1260 203.4L1268.2 207.7L1260 212Z" fill="#000" fill-opacity="0.6"/><path d="M1251.8 211.6L1260 207.3L1268.2 211.6L1260 215.9Z" fill="#000" fill-opacity="0.6"/><path d="M1251.8 212.4L1260 208.1L1268.2 212.4L1260 216.7Z" fill="#000" fill-opacity="0.6"/><path d="M1251.8 251L1260 246.7L1268.2 251L1260 255.3Z" fill="#000" fill-opacity="0.6"/><path d="M1251.8 251.7L1260 247.4L1268.2 251.7L1260 256Z" fill="#000" fill-opacity="0.6"/><path d="M1251.8 290.3L1260 286L1268.2 290.3L1260 294.6Z" fill="#000" fill-opacity="0.6"/><path d="M1251.8 301.7L1260 297.4L1268.2 301.7L1260 306Z" fill="#000" fill-opacity="0.6"/><path d="M1251.8 308.2L1260 303.9L1268.2 308.2L1260 312.5Z" fill="#000" fill-opacity="0.6"/><path d="M1251.8 344.3L1260 340L1268.2 344.3L1260 348.6Z" fill="#000" fill-opacity="0.6"/><path d="M1251.8 345.8L1260 341.5L1268.2 345.8L1260 350.1Z" fill="#000" fill-opacity="0.6"/><path d="M1251.8 376.3L1260 372L1268.2 376.3L1260 380.6Z" fill="#000" fill-opacity="0.6"/><path d="M1251.8 383.9L1260 379.6L1268.2 383.9L1260 388.2Z" fill="#000" fill-opacity="0.6"/><path d="M1251.8 398.4L1260 394.1L1268.2 398.4L1260 402.7Z" fill="#000" fill-opacity="0.6"/><path d="M1251.8 400.2L1260 395.9L1268.2 400.2L1260 404.5Z" fill="#000" fill-opacity="0.6"/><path d="M1251.8 401.9L1260 397.6L1268.2 401.9L1260 406.2Z" fill="#000" fill-opacity="0.6"/><path d="M1252 115.5L1260 111L1268 115.5L1260 120ZM1252 400.5L1260 396L1268 400.5L1260 405Z" fill="#000" fill-opacity="0.42"/></g>
<g><text x="53.4" y="504.5" font-size="34.7" fill="#000">LG-3</text><line x1="55.2" y1="530.2" x2="55.2" y2="921.8" stroke="#8c8c8c" stroke-width="1.6"/><line x1="49.7" y1="577.8" x2="55.2" y2="577.8" stroke="#8c8c8c" stroke-width="1.6"/><text transform="translate(46.5,584) scale(1.06,1)" font-size="16.4" fill="#8a8a8a" stroke="#8a8a8a" stroke-width="0.3" text-anchor="end">0</text><line x1="49.7" y1="633.1" x2="55.2" y2="633.1" stroke="#8c8c8c" stroke-width="1.6"/><text transform="translate(46.5,639.4) scale(1.06,1)" font-size="16.4" fill="#8a8a8a" stroke="#8a8a8a" stroke-width="0.3" text-anchor="end">20</text><line x1="49.7" y1="688.5" x2="55.2" y2="688.5" stroke="#8c8c8c" stroke-width="1.6"/><text transform="translate(46.5,694.7) scale(1.06,1)" font-size="16.4" fill="#8a8a8a" stroke="#8a8a8a" stroke-width="0.3" text-anchor="end">40</text><line x1="49.7" y1="743.8" x2="55.2" y2="743.8" stroke="#8c8c8c" stroke-width="1.6"/><text transform="translate(46.5,750) scale(1.06,1)" font-size="16.4" fill="#8a8a8a" stroke="#8a8a8a" stroke-width="0.3" text-anchor="end">60</text><line x1="49.7" y1="799.2" x2="55.2" y2="799.2" stroke="#8c8c8c" stroke-width="1.6"/><text transform="translate(46.5,805.4) scale(1.06,1)" font-size="16.4" fill="#8a8a8a" stroke="#8a8a8a" stroke-width="0.3" text-anchor="end">80</text><line x1="49.7" y1="854.5" x2="55.2" y2="854.5" stroke="#8c8c8c" stroke-width="1.6"/><text transform="translate(46.5,860.8) scale(1.06,1)" font-size="16.4" fill="#8a8a8a" stroke="#8a8a8a" stroke-width="0.3" text-anchor="end">100</text><line x1="49.7" y1="909.9" x2="55.2" y2="909.9" stroke="#8c8c8c" stroke-width="1.6"/><text transform="translate(46.5,916.1) scale(1.06,1)" font-size="16.4" fill="#8a8a8a" stroke="#8a8a8a" stroke-width="0.3" text-anchor="end">120</text><text transform="translate(15.6,724) rotate(-90) scale(1.115,1)" font-size="15.5" fill="#8a8a8a" stroke="#8a8a8a" stroke-width="0.2" text-anchor="middle">Position</text><text x="214" y="551.5" font-size="12.5" fill="#333" text-anchor="middle" textLength="127.5" lengthAdjust="spacingAndGlyphs">dcs9Xrg1139Map.csv</text><text x="532.5" y="551.5" font-size="12.5" fill="#333" text-anchor="middle" textLength="111.5" lengthAdjust="spacingAndGlyphs">jc12X48-1Map.csv</text><line x1="214" y1="577" x2="532.5" y2="584.4" stroke="#108510" stroke-width="1.9" stroke-opacity="0.82"/><line x1="214" y1="629.5" x2="532.5" y2="640.4" stroke="#108510" stroke-width="1.9" stroke-opacity="0.82"/><line x1="214" y1="631" x2="532.5" y2="642.9" stroke="#108510" stroke-width="1.9" stroke-opacity="0.82"/><line x1="214" y1="634.7" x2="532.5" y2="644.9" stroke="#108510" stroke-width="1.9" stroke-opacity="0.82"/><line x1="214" y1="636.2" x2="532.5" y2="646.7" stroke="#108510" stroke-width="1.9" stroke-opacity="0.82"/><line x1="214" y1="672.6" x2="532.5" y2="669.6" stroke="#108510" stroke-width="1.9" stroke-opacity="0.82"/><line x1="214" y1="696.9" x2="532.5" y2="687.5" stroke="#108510" stroke-width="1.9" stroke-opacity="0.82"/><line x1="214" y1="703.3" x2="532.5" y2="698.4" stroke="#108510" stroke-width="1.9" stroke-opacity="0.82"/><line x1="214" y1="708" x2="532.5" y2="708.6" stroke="#108510" stroke-width="1.9" stroke-opacity="0.82"/><line x1="214" y1="715.5" x2="532.5" y2="715.8" stroke="#108510" stroke-width="1.9" stroke-opacity="0.82"/><line x1="214" y1="723.6" x2="532.5" y2="727.9" stroke="#108510" stroke-width="1.9" stroke-opacity="0.82"/><line x1="214" y1="728.8" x2="532.5" y2="734.9" stroke="#108510" stroke-width="1.9" stroke-opacity="0.82"/><line x1="214" y1="745.9" x2="532.5" y2="745" stroke="#108510" stroke-width="1.9" stroke-opacity="0.82"/><line x1="214" y1="747.5" x2="532.5" y2="745.8" stroke="#108510" stroke-width="1.9" stroke-opacity="0.82"/><line x1="214" y1="749.6" x2="532.5" y2="746.8" stroke="#108510" stroke-width="1.9" stroke-opacity="0.82"/><line x1="214" y1="751.5" x2="532.5" y2="752.8" stroke="#108510" stroke-width="1.9" stroke-opacity="0.82"/><line x1="214" y1="758.8" x2="532.5" y2="756.1" stroke="#108510" stroke-width="1.9" stroke-opacity="0.82"/><line x1="214" y1="767.7" x2="532.5" y2="759.6" stroke="#108510" stroke-width="1.9" stroke-opacity="0.82"/><line x1="214" y1="770.2" x2="532.5" y2="763.7" stroke="#108510" stroke-width="1.9" stroke-opacity="0.82"/><line x1="214" y1="813.4" x2="532.5" y2="796.6" stroke="#108510" stroke-width="1.9" stroke-opacity="0.82"/><line x1="214" y1="832.3" x2="532.5" y2="817.8" stroke="#108510" stroke-width="1.9" stroke-opacity="0.82"/><line x1="214" y1="856.2" x2="532.5" y2="849.4" stroke="#108510" stroke-width="1.9" stroke-opacity="0.82"/><line x1="214" y1="856.8" x2="532.5" y2="850" stroke="#108510" stroke-width="1.9" stroke-opacity="0.82"/><line x1="214" y1="860" x2="532.5" y2="856.7" stroke="#108510" stroke-width="1.9" stroke-opacity="0.82"/><line x1="214" y1="697.8" x2="532.5" y2="688.2" stroke="#6e6e6e" stroke-width="1.9" stroke-opacity="0.82"/><line x1="214" y1="732.5" x2="532.5" y2="720.8" stroke="#6e6e6e" stroke-width="1.9" stroke-opacity="0.82"/><line x1="214" y1="756.9" x2="532.5" y2="767.8" stroke="#6e6e6e" stroke-width="1.9" stroke-opacity="0.82"/><rect x="210.4" y="577.5" width="7.2" height="283" fill="#000"/><path d="M205.8 589.4L214 585.1L222.2 589.4L214 593.7Z" fill="#000" fill-opacity="0.95"/><path d="M205.8 615L214 610.7L222.2 615L214 619.3Z" fill="#000" fill-opacity="0.95"/><path d="M205.8 617.5L214 613.2L222.2 617.5L214 621.8Z" fill="#000" fill-opacity="0.95"/><path d="M205.8 620.5L214 616.2L222.2 620.5L214 624.8Z" fill="#000" fill-opacity="0.95"/><path d="M205.8 627L214 622.7L222.2 627L214 631.3Z" fill="#000" fill-opacity="0.95"/><path d="M205.8 657L214 652.7L222.2 657L214 661.3Z" fill="#000" fill-opacity="0.95"/><path d="M205.8 671.9L214 667.6L222.2 671.9L214 676.2Z" fill="#000" fill-opacity="0.95"/><path d="M205.8 684L214 679.7L222.2 684L214 688.3Z" fill="#000" fill-opacity="0.95"/><path d="M205.8 687L214 682.7L222.2 687L214 691.3Z" fill="#000" fill-opacity="0.95"/><path d="M205.8 689.5L214 685.2L222.2 689.5L214 693.8Z" fill="#000" fill-opacity="0.95"/><path d="M205.8 700.3L214 696L222.2 700.3L214 704.6Z" fill="#000" fill-opacity="0.95"/><path d="M205.8 704.4L214 700.1L222.2 704.4L214 708.7Z" fill="#000" fill-opacity="0.95"/><path d="M205.8 711.1L214 706.8L222.2 711.1L214 715.4Z" fill="#000" fill-opacity="0.95"/><path d="M205.8 714L214 709.7L222.2 714L214 718.3Z" fill="#000" fill-opacity="0.95"/><path d="M205.8 716.6L214 712.3L222.2 716.6L214 720.9Z" fill="#000" fill-opacity="0.95"/><path d="M205.8 732.8L214 728.5L222.2 732.8L214 737.1Z" fill="#000" fill-opacity="0.95"/><path d="M205.8 749L214 744.7L222.2 749L214 753.3Z" fill="#000" fill-opacity="0.95"/><path d="M205.8 769.3L214 765L222.2 769.3L214 773.6Z" fill="#000" fill-opacity="0.95"/><path d="M205.8 791L214 786.7L222.2 791L214 795.3Z" fill="#000" fill-opacity="0.95"/><path d="M205.8 807.2L214 802.9L222.2 807.2L214 811.5Z" fill="#000" fill-opacity="0.95"/><path d="M205.8 832.9L214 828.6L222.2 832.9L214 837.2Z" fill="#000" fill-opacity="0.95"/><path d="M205.8 853L214 848.7L222.2 853L214 857.3Z" fill="#000" fill-opacity="0.95"/><path d="M205.8 856L214 851.7L222.2 856L214 860.3Z" fill="#000" fill-opacity="0.95"/><path d="M205.8 859L214 854.7L222.2 859L214 863.3Z" fill="#000" fill-opacity="0.95"/><path d="M205.8 862L214 857.7L222.2 862L214 866.3Z" fill="#000" fill-opacity="0.95"/><path d="M205.8 583.3L214 579L222.2 583.3L214 587.6Z" fill="#000" fill-opacity="0.5"/><path d="M205.8 594L214 589.7L222.2 594L214 598.3Z" fill="#000" fill-opacity="0.5"/><path d="M205.8 598L214 593.7L222.2 598L214 602.3Z" fill="#000" fill-opacity="0.5"/><path d="M205.8 605.6L214 601.3L222.2 605.6L214 609.9Z" fill="#000" fill-opacity="0.5"/><path d="M205.8 624.5L214 620.2L222.2 624.5L214 628.8Z" fill="#000" fill-opacity="0.5"/><path d="M205.8 630L214 625.7L222.2 630L214 634.3Z" fill="#000" fill-opacity="0.5"/><path d="M205.8 635L214 630.7L222.2 635L214 639.3Z" fill="#000" fill-opacity="0.5"/><path d="M205.8 640L214 635.7L222.2 640L214 644.3Z" fill="#000" fill-opacity="0.5"/><path d="M205.8 645L214 640.7L222.2 645L214 649.3Z" fill="#000" fill-opacity="0.5"/><path d="M205.8 649L214 644.7L222.2 649L214 653.3Z" fill="#000" fill-opacity="0.5"/><path d="M205.8 662.4L214 658.1L222.2 662.4L214 666.7Z" fill="#000" fill-opacity="0.5"/><path d="M205.8 667.8L214 663.5L222.2 667.8L214 672.1Z" fill="#000" fill-opacity="0.5"/><path d="M205.8 678.7L214 674.4L222.2 678.7L214 683Z" fill="#000" fill-opacity="0.5"/><path d="M205.8 694L214 689.7L222.2 694L214 698.3Z" fill="#000" fill-opacity="0.5"/><path d="M205.8 720.6L214 716.3L222.2 720.6L214 724.9Z" fill="#000" fill-opacity="0.5"/><path d="M205.8 740.9L214 736.6L222.2 740.9L214 745.2Z" fill="#000" fill-opacity="0.5"/><path d="M205.8 754.4L214 750.1L222.2 754.4L214 758.7Z" fill="#000" fill-opacity="0.5"/><path d="M205.8 758L214 753.7L222.2 758L214 762.3Z" fill="#000" fill-opacity="0.5"/><path d="M205.8 761.2L214 756.9L222.2 761.2L214 765.5Z" fill="#000" fill-opacity="0.5"/><path d="M205.8 776L214 771.7L222.2 776L214 780.3Z" fill="#000" fill-opacity="0.5"/><path d="M205.8 781.5L214 777.2L222.2 781.5L214 785.8Z" fill="#000" fill-opacity="0.5"/><path d="M205.8 798L214 793.7L222.2 798L214 802.3Z" fill="#000" fill-opacity="0.5"/><path d="M205.8 815.3L214 811L222.2 815.3L214 819.6Z" fill="#000" fill-opacity="0.5"/><path d="M205.8 822.1L214 817.8L222.2 822.1L214 826.4Z" fill="#000" fill-opacity="0.5"/><path d="M205.8 841L214 836.7L222.2 841L214 845.3Z" fill="#000" fill-opacity="0.5"/><path d="M205.8 845L214 840.7L222.2 845L214 849.3Z" fill="#000" fill-opacity="0.5"/><path d="M205.8 577L214 572.7L222.2 577L214 581.3Z" fill="#000" fill-opacity="0.6"/><path d="M205.8 629.5L214 625.2L222.2 629.5L214 633.8Z" fill="#000" fill-opacity="0.6"/><path d="M205.8 631L214 626.7L222.2 631L214 635.3Z" fill="#000" fill-opacity="0.6"/><path d="M205.8 634.7L214 630.4L222.2 634.7L214 639Z" fill="#000" fill-opacity="0.6"/><path d="M205.8 636.2L214 631.9L222.2 636.2L214 640.5Z" fill="#000" fill-opacity="0.6"/><path d="M205.8 672.6L214 668.3L222.2 672.6L214 676.9Z" fill="#000" fill-opacity="0.6"/><path d="M205.8 696.9L214 692.6L222.2 696.9L214 701.2Z" fill="#000" fill-opacity="0.6"/><path d="M205.8 697.8L214 693.5L222.2 697.8L214 702.1Z" fill="#000" fill-opacity="0.6"/><path d="M205.8 703.3L214 699L222.2 703.3L214 707.6Z" fill="#000" fill-opacity="0.6"/><path d="M205.8 708L214 703.7L222.2 708L214 712.3Z" fill="#000" fill-opacity="0.6"/><path d="M205.8 715.5L214 711.2L222.2 715.5L214 719.8Z" fill="#000" fill-opacity="0.6"/><path d="M205.8 723.6L214 719.3L222.2 723.6L214 727.9Z" fill="#000" fill-opacity="0.6"/><path d="M205.8 728.8L214 724.5L222.2 728.8L214 733.1Z" fill="#000" fill-opacity="0.6"/><path d="M205.8 732.5L214 728.2L222.2 732.5L214 736.8Z" fill="#000" fill-opacity="0.6"/><path d="M205.8 745.9L214 741.6L222.2 745.9L214 750.2Z" fill="#000" fill-opacity="0.6"/><path d="M205.8 747.5L214 743.2L222.2 747.5L214 751.8Z" fill="#000" fill-opacity="0.6"/><path d="M205.8 749.6L214 745.3L222.2 749.6L214 753.9Z" fill="#000" fill-opacity="0.6"/><path d="M205.8 751.5L214 747.2L222.2 751.5L214 755.8Z" fill="#000" fill-opacity="0.6"/><path d="M205.8 756.9L214 752.6L222.2 756.9L214 761.2Z" fill="#000" fill-opacity="0.6"/><path d="M205.8 758.8L214 754.5L222.2 758.8L214 763.1Z" fill="#000" fill-opacity="0.6"/><path d="M205.8 767.7L214 763.4L222.2 767.7L214 772Z" fill="#000" fill-opacity="0.6"/><path d="M205.8 770.2L214 765.9L222.2 770.2L214 774.5Z" fill="#000" fill-opacity="0.6"/><path d="M205.8 813.4L214 809.1L222.2 813.4L214 817.7Z" fill="#000" fill-opacity="0.6"/><path d="M205.8 832.3L214 828L222.2 832.3L214 836.6Z" fill="#000" fill-opacity="0.6"/><path d="M205.8 856.2L214 851.9L222.2 856.2L214 860.5Z" fill="#000" fill-opacity="0.6"/><path d="M205.8 856.8L214 852.5L222.2 856.8L214 861.1Z" fill="#000" fill-opacity="0.6"/><path d="M205.8 860L214 855.7L222.2 860L214 864.3Z" fill="#000" fill-opacity="0.6"/><path d="M206 577.5L214 573L222 577.5L214 582ZM206 860.5L214 856L222 860.5L214 865Z" fill="#000" fill-opacity="0.42"/><rect x="528.9" y="577.5" width="7.2" height="292.5" fill="#000"/><path d="M524.3 576.7L532.5 572.4L540.7 576.7L532.5 581Z" fill="#000" fill-opacity="0.95"/><path d="M524.3 602L532.5 597.7L540.7 602L532.5 606.3Z" fill="#000" fill-opacity="0.95"/><path d="M524.3 621.4L532.5 617.1L540.7 621.4L532.5 625.7Z" fill="#000" fill-opacity="0.95"/><path d="M524.3 625.5L532.5 621.2L540.7 625.5L532.5 629.8Z" fill="#000" fill-opacity="0.95"/><path d="M524.3 632.4L532.5 628.1L540.7 632.4L532.5 636.7Z" fill="#000" fill-opacity="0.95"/><path d="M524.3 670.2L532.5 665.9L540.7 670.2L532.5 674.5Z" fill="#000" fill-opacity="0.95"/><path d="M524.3 687.4L532.5 683.1L540.7 687.4L532.5 691.7Z" fill="#000" fill-opacity="0.95"/><path d="M524.3 708L532.5 703.7L540.7 708L532.5 712.3Z" fill="#000" fill-opacity="0.95"/><path d="M524.3 715.6L532.5 711.3L540.7 715.6L532.5 719.9Z" fill="#000" fill-opacity="0.95"/><path d="M524.3 721L532.5 716.7L540.7 721L532.5 725.3Z" fill="#000" fill-opacity="0.95"/><path d="M524.3 734.8L532.5 730.5L540.7 734.8L532.5 739.1Z" fill="#000" fill-opacity="0.95"/><path d="M524.3 745.1L532.5 740.8L540.7 745.1L532.5 749.4Z" fill="#000" fill-opacity="0.95"/><path d="M524.3 760.2L532.5 755.9L540.7 760.2L532.5 764.5Z" fill="#000" fill-opacity="0.95"/><path d="M524.3 826L532.5 821.7L540.7 826L532.5 830.3Z" fill="#000" fill-opacity="0.95"/><path d="M524.3 836L532.5 831.7L540.7 836L532.5 840.3Z" fill="#000" fill-opacity="0.95"/><path d="M524.3 841L532.5 836.7L540.7 841L532.5 845.3Z" fill="#000" fill-opacity="0.95"/><path d="M524.3 862L532.5 857.7L540.7 862L532.5 866.3Z" fill="#000" fill-opacity="0.95"/><path d="M524.3 866L532.5 861.7L540.7 866L532.5 870.3Z" fill="#000" fill-opacity="0.95"/><path d="M524.3 869.5L532.5 865.2L540.7 869.5L532.5 873.8Z" fill="#000" fill-opacity="0.95"/><path d="M524.3 584.2L532.5 579.9L540.7 584.2L532.5 588.5Z" fill="#000" fill-opacity="0.5"/><path d="M524.3 605L532.5 600.7L540.7 605L532.5 609.3Z" fill="#000" fill-opacity="0.5"/><path d="M524.3 640.6L532.5 636.3L540.7 640.6L532.5 644.9Z" fill="#000" fill-opacity="0.5"/><path d="M524.3 647.5L532.5 643.2L540.7 647.5L532.5 651.8Z" fill="#000" fill-opacity="0.5"/><path d="M524.3 663.3L532.5 659L540.7 663.3L532.5 667.6Z" fill="#000" fill-opacity="0.5"/><path d="M524.3 682.6L532.5 678.3L540.7 682.6L532.5 686.9Z" fill="#000" fill-opacity="0.5"/><path d="M524.3 694.2L532.5 689.9L540.7 694.2L532.5 698.5Z" fill="#000" fill-opacity="0.5"/><path d="M524.3 698.4L532.5 694.1L540.7 698.4L532.5 702.7Z" fill="#000" fill-opacity="0.5"/><path d="M524.3 727.9L532.5 723.6L540.7 727.9L532.5 732.2Z" fill="#000" fill-opacity="0.5"/><path d="M524.3 752.7L532.5 748.4L540.7 752.7L532.5 757Z" fill="#000" fill-opacity="0.5"/><path d="M524.3 754.7L532.5 750.4L540.7 754.7L532.5 759Z" fill="#000" fill-opacity="0.5"/><path d="M524.3 763.7L532.5 759.4L540.7 763.7L532.5 768Z" fill="#000" fill-opacity="0.5"/><path d="M524.3 795L532.5 790.7L540.7 795L532.5 799.3Z" fill="#000" fill-opacity="0.5"/><path d="M524.3 803L532.5 798.7L540.7 803L532.5 807.3Z" fill="#000" fill-opacity="0.5"/><path d="M524.3 812L532.5 807.7L540.7 812L532.5 816.3Z" fill="#000" fill-opacity="0.5"/><path d="M524.3 818L532.5 813.7L540.7 818L532.5 822.3Z" fill="#000" fill-opacity="0.5"/><path d="M524.3 832L532.5 827.7L540.7 832L532.5 836.3Z" fill="#000" fill-opacity="0.5"/><path d="M524.3 584.4L532.5 580.1L540.7 584.4L532.5 588.7Z" fill="#000" fill-opacity="0.6"/><path d="M524.3 640.4L532.5 636.1L540.7 640.4L532.5 644.7Z" fill="#000" fill-opacity="0.6"/><path d="M524.3 642.9L532.5 638.6L540.7 642.9L532.5 647.2Z" fill="#000" fill-opacity="0.6"/><path d="M524.3 644.9L532.5 640.6L540.7 644.9L532.5 649.2Z" fill="#000" fill-opacity="0.6"/><path d="M524.3 646.7L532.5 642.4L540.7 646.7L532.5 651Z" fill="#000" fill-opacity="0.6"/><path d="M524.3 669.6L532.5 665.3L540.7 669.6L532.5 673.9Z" fill="#000" fill-opacity="0.6"/><path d="M524.3 687.5L532.5 683.2L540.7 687.5L532.5 691.8Z" fill="#000" fill-opacity="0.6"/><path d="M524.3 688.2L532.5 683.9L540.7 688.2L532.5 692.5Z" fill="#000" fill-opacity="0.6"/><path d="M524.3 698.4L532.5 694.1L540.7 698.4L532.5 702.7Z" fill="#000" fill-opacity="0.6"/><path d="M524.3 708.6L532.5 704.3L540.7 708.6L532.5 712.9Z" fill="#000" fill-opacity="0.6"/><path d="M524.3 715.8L532.5 711.5L540.7 715.8L532.5 720.1Z" fill="#000" fill-opacity="0.6"/><path d="M524.3 720.8L532.5 716.5L540.7 720.8L532.5 725.1Z" fill="#000" fill-opacity="0.6"/><path d="M524.3 727.9L532.5 723.6L540.7 727.9L532.5 732.2Z" fill="#000" fill-opacity="0.6"/><path d="M524.3 734.9L532.5 730.6L540.7 734.9L532.5 739.2Z" fill="#000" fill-opacity="0.6"/><path d="M524.3 745L532.5 740.7L540.7 745L532.5 749.3Z" fill="#000" fill-opacity="0.6"/><path d="M524.3 745.8L532.5 741.5L540.7 745.8L532.5 750.1Z" fill="#000" fill-opacity="0.6"/><path d="M524.3 746.8L532.5 742.5L540.7 746.8L532.5 751.1Z" fill="#000" fill-opacity="0.6"/><path d="M524.3 752.8L532.5 748.5L540.7 752.8L532.5 757.1Z" fill="#000" fill-opacity="0.6"/><path d="M524.3 756.1L532.5 751.8L540.7 756.1L532.5 760.4Z" fill="#000" fill-opacity="0.6"/><path d="M524.3 759.6L532.5 755.3L540.7 759.6L532.5 763.9Z" fill="#000" fill-opacity="0.6"/><path d="M524.3 763.7L532.5 759.4L540.7 763.7L532.5 768Z" fill="#000" fill-opacity="0.6"/><path d="M524.3 767.8L532.5 763.5L540.7 767.8L532.5 772.1Z" fill="#000" fill-opacity="0.6"/><path d="M524.3 796.6L532.5 792.3L540.7 796.6L532.5 800.9Z" fill="#000" fill-opacity="0.6"/><path d="M524.3 817.8L532.5 813.5L540.7 817.8L532.5 822.1Z" fill="#000" fill-opacity="0.6"/><path d="M524.3 849.4L532.5 845.1L540.7 849.4L532.5 853.7Z" fill="#000" fill-opacity="0.6"/><path d="M524.3 850L532.5 845.7L540.7 850L532.5 854.3Z" fill="#000" fill-opacity="0.6"/><path d="M524.3 856.7L532.5 852.4L540.7 856.7L532.5 861Z" fill="#000" fill-opacity="0.6"/><path d="M524.5 577.5L532.5 573L540.5 577.5L532.5 582ZM524.5 870L532.5 865.5L540.5 870L532.5 874.5Z" fill="#000" fill-opacity="0.42"/></g>
<g><text x="781.5" y="506.5" font-size="34.7" fill="#000">LG-4</text><line x1="785.9" y1="532.7" x2="785.9" y2="922.8" stroke="#8c8c8c" stroke-width="1.6"/><line x1="780.4" y1="573.8" x2="785.9" y2="573.8" stroke="#8c8c8c" stroke-width="1.6"/><text transform="translate(777.4,580) scale(1.06,1)" font-size="16.4" fill="#8a8a8a" stroke="#8a8a8a" stroke-width="0.3" text-anchor="end">0</text><line x1="780.4" y1="617.6" x2="785.9" y2="617.6" stroke="#8c8c8c" stroke-width="1.6"/><text transform="translate(777.4,623.8) scale(1.06,1)" font-size="16.4" fill="#8a8a8a" stroke="#8a8a8a" stroke-width="0.3" text-anchor="end">20</text><line x1="780.4" y1="661.3" x2="785.9" y2="661.3" stroke="#8c8c8c" stroke-width="1.6"/><text transform="translate(777.4,667.5) scale(1.06,1)" font-size="16.4" fill="#8a8a8a" stroke="#8a8a8a" stroke-width="0.3" text-anchor="end">40</text><line x1="780.4" y1="705.1" x2="785.9" y2="705.1" stroke="#8c8c8c" stroke-width="1.6"/><text transform="translate(777.4,711.3) scale(1.06,1)" font-size="16.4" fill="#8a8a8a" stroke="#8a8a8a" stroke-width="0.3" text-anchor="end">60</text><line x1="780.4" y1="748.9" x2="785.9" y2="748.9" stroke="#8c8c8c" stroke-width="1.6"/><text transform="translate(777.4,755.1) scale(1.06,1)" font-size="16.4" fill="#8a8a8a" stroke="#8a8a8a" stroke-width="0.3" text-anchor="end">80</text><line x1="780.4" y1="792.6" x2="785.9" y2="792.6" stroke="#8c8c8c" stroke-width="1.6"/><text transform="translate(777.4,798.9) scale(1.06,1)" font-size="16.4" fill="#8a8a8a" stroke="#8a8a8a" stroke-width="0.3" text-anchor="end">100</text><line x1="780.4" y1="836.4" x2="785.9" y2="836.4" stroke="#8c8c8c" stroke-width="1.6"/><text transform="translate(777.4,842.6) scale(1.06,1)" font-size="16.4" fill="#8a8a8a" stroke="#8a8a8a" stroke-width="0.3" text-anchor="end">120</text><line x1="780.4" y1="880.2" x2="785.9" y2="880.2" stroke="#8c8c8c" stroke-width="1.6"/><text transform="translate(777.4,886.4) scale(1.06,1)" font-size="16.4" fill="#8a8a8a" stroke="#8a8a8a" stroke-width="0.3" text-anchor="end">140</text><text transform="translate(746.3,726) rotate(-90) scale(1.115,1)" font-size="15.5" fill="#8a8a8a" stroke="#8a8a8a" stroke-width="0.2" text-anchor="middle">Position</text><text x="945" y="553.5" font-size="12.5" fill="#333" text-anchor="middle" textLength="127.5" lengthAdjust="spacingAndGlyphs">dcs9Xrg1139Map.csv</text><text x="1263.5" y="553.5" font-size="12.5" fill="#333" text-anchor="middle" textLength="111.5" lengthAdjust="spacingAndGlyphs">jc12X48-1Map.csv</text><line x1="945" y1="594.2" x2="1263.5" y2="597.8" stroke="#108510" stroke-width="1.9" stroke-opacity="0.82"/><line x1="945" y1="614.7" x2="1263.5" y2="616.5" stroke="#108510" stroke-width="1.9" stroke-opacity="0.82"/><line x1="945" y1="633.5" x2="1263.5" y2="641.5" stroke="#108510" stroke-width="1.9" stroke-opacity="0.82"/><line x1="945" y1="639.3" x2="1263.5" y2="649.4" stroke="#108510" stroke-width="1.9" stroke-opacity="0.82"/><line x1="945" y1="640.5" x2="1263.5" y2="654.7" stroke="#108510" stroke-width="1.9" stroke-opacity="0.82"/><line x1="945" y1="670" x2="1263.5" y2="713.8" stroke="#108510" stroke-width="1.9" stroke-opacity="0.82"/><line x1="945" y1="670.8" x2="1263.5" y2="714.8" stroke="#108510" stroke-width="1.9" stroke-opacity="0.82"/><line x1="945" y1="671.6" x2="1263.5" y2="715.8" stroke="#108510" stroke-width="1.9" stroke-opacity="0.82"/><line x1="945" y1="672.4" x2="1263.5" y2="716.8" stroke="#108510" stroke-width="1.9" stroke-opacity="0.82"/><line x1="945" y1="674.4" x2="1263.5" y2="728.7" stroke="#108510" stroke-width="1.9" stroke-opacity="0.82"/><line x1="945" y1="689.1" x2="1263.5" y2="759.7" stroke="#108510" stroke-width="1.9" stroke-opacity="0.82"/><line x1="945" y1="696.3" x2="1263.5" y2="797" stroke="#108510" stroke-width="1.9" stroke-opacity="0.82"/><line x1="945" y1="697" x2="1263.5" y2="803.6" stroke="#108510" stroke-width="1.9" stroke-opacity="0.82"/><line x1="945" y1="697.7" x2="1263.5" y2="807.7" stroke="#108510" stroke-width="1.9" stroke-opacity="0.82"/><line x1="945" y1="714.8" x2="1263.5" y2="850.9" stroke="#108510" stroke-width="1.9" stroke-opacity="0.82"/><line x1="945" y1="723.3" x2="1263.5" y2="864.6" stroke="#108510" stroke-width="1.9" stroke-opacity="0.82"/><line x1="945" y1="731.8" x2="1263.5" y2="879.9" stroke="#108510" stroke-width="1.9" stroke-opacity="0.82"/><line x1="945" y1="732.3" x2="1263.5" y2="880.4" stroke="#108510" stroke-width="1.9" stroke-opacity="0.82"/><line x1="945" y1="615.1" x2="1263.5" y2="619.2" stroke="#6e6e6e" stroke-width="1.9" stroke-opacity="0.82"/><line x1="945" y1="636.3" x2="1263.5" y2="661.8" stroke="#6e6e6e" stroke-width="1.9" stroke-opacity="0.82"/><line x1="945" y1="669.4" x2="1263.5" y2="707.4" stroke="#6e6e6e" stroke-width="1.9" stroke-opacity="0.82"/><line x1="945" y1="696.6" x2="1263.5" y2="809" stroke="#6e6e6e" stroke-width="1.9" stroke-opacity="0.82"/><rect x="941.4" y="574" width="7.2" height="157.5" fill="#000"/><path d="M936.8 573.3L945 569L953.2 573.3L945 577.6Z" fill="#000" fill-opacity="0.95"/><path d="M936.8 594.1L945 589.8L953.2 594.1L945 598.4Z" fill="#000" fill-opacity="0.95"/><path d="M936.8 614.3L945 610L953.2 614.3L945 618.6Z" fill="#000" fill-opacity="0.95"/><path d="M936.8 620L945 615.7L953.2 620L945 624.3Z" fill="#000" fill-opacity="0.95"/><path d="M936.8 636L945 631.7L953.2 636L945 640.3Z" fill="#000" fill-opacity="0.95"/><path d="M936.8 667L945 662.7L953.2 667L945 671.3Z" fill="#000" fill-opacity="0.95"/><path d="M936.8 669.5L945 665.2L953.2 669.5L945 673.8Z" fill="#000" fill-opacity="0.95"/><path d="M936.8 672L945 667.7L953.2 672L945 676.3Z" fill="#000" fill-opacity="0.95"/><path d="M936.8 674.5L945 670.2L953.2 674.5L945 678.8Z" fill="#000" fill-opacity="0.95"/><path d="M936.8 676.6L945 672.3L953.2 676.6L945 680.9Z" fill="#000" fill-opacity="0.95"/><path d="M936.8 697.3L945 693L953.2 697.3L945 701.6Z" fill="#000" fill-opacity="0.95"/><path d="M936.8 714.8L945 710.5L953.2 714.8L945 719.1Z" fill="#000" fill-opacity="0.95"/><path d="M936.8 577.5L945 573.2L953.2 577.5L945 581.8Z" fill="#000" fill-opacity="0.5"/><path d="M936.8 600.8L945 596.5L953.2 600.8L945 605.1Z" fill="#000" fill-opacity="0.5"/><path d="M936.8 605.1L945 600.8L953.2 605.1L945 609.4Z" fill="#000" fill-opacity="0.5"/><path d="M936.8 617.8L945 613.5L953.2 617.8L945 622.1Z" fill="#000" fill-opacity="0.5"/><path d="M936.8 622.5L945 618.2L953.2 622.5L945 626.8Z" fill="#000" fill-opacity="0.5"/><path d="M936.8 625.2L945 620.9L953.2 625.2L945 629.5Z" fill="#000" fill-opacity="0.5"/><path d="M936.8 630.5L945 626.2L953.2 630.5L945 634.8Z" fill="#000" fill-opacity="0.5"/><path d="M936.8 633L945 628.7L953.2 633L945 637.3Z" fill="#000" fill-opacity="0.5"/><path d="M936.8 638L945 633.7L953.2 638L945 642.3Z" fill="#000" fill-opacity="0.5"/><path d="M936.8 640L945 635.7L953.2 640L945 644.3Z" fill="#000" fill-opacity="0.5"/><path d="M936.8 651.2L945 646.9L953.2 651.2L945 655.5Z" fill="#000" fill-opacity="0.5"/><path d="M936.8 662.3L945 658L953.2 662.3L945 666.6Z" fill="#000" fill-opacity="0.5"/><path d="M936.8 688.8L945 684.5L953.2 688.8L945 693.1Z" fill="#000" fill-opacity="0.5"/><path d="M936.8 706.9L945 702.6L953.2 706.9L945 711.2Z" fill="#000" fill-opacity="0.5"/><path d="M936.8 709.5L945 705.2L953.2 709.5L945 713.8Z" fill="#000" fill-opacity="0.5"/><path d="M936.8 723.3L945 719L953.2 723.3L945 727.6Z" fill="#000" fill-opacity="0.5"/><path d="M936.8 594.2L945 589.9L953.2 594.2L945 598.5Z" fill="#000" fill-opacity="0.6"/><path d="M936.8 614.7L945 610.4L953.2 614.7L945 619Z" fill="#000" fill-opacity="0.6"/><path d="M936.8 615.1L945 610.8L953.2 615.1L945 619.4Z" fill="#000" fill-opacity="0.6"/><path d="M936.8 633.5L945 629.2L953.2 633.5L945 637.8Z" fill="#000" fill-opacity="0.6"/><path d="M936.8 636.3L945 632L953.2 636.3L945 640.6Z" fill="#000" fill-opacity="0.6"/><path d="M936.8 639.3L945 635L953.2 639.3L945 643.6Z" fill="#000" fill-opacity="0.6"/><path d="M936.8 640.5L945 636.2L953.2 640.5L945 644.8Z" fill="#000" fill-opacity="0.6"/><path d="M936.8 669.4L945 665.1L953.2 669.4L945 673.7Z" fill="#000" fill-opacity="0.6"/><path d="M936.8 670L945 665.7L953.2 670L945 674.3Z" fill="#000" fill-opacity="0.6"/><path d="M936.8 670.8L945 666.5L953.2 670.8L945 675.1Z" fill="#000" fill-opacity="0.6"/><path d="M936.8 671.6L945 667.3L953.2 671.6L945 675.9Z" fill="#000" fill-opacity="0.6"/><path d="M936.8 672.4L945 668.1L953.2 672.4L945 676.7Z" fill="#000" fill-opacity="0.6"/><path d="M936.8 674.4L945 670.1L953.2 674.4L945 678.7Z" fill="#000" fill-opacity="0.6"/><path d="M936.8 689.1L945 684.8L953.2 689.1L945 693.4Z" fill="#000" fill-opacity="0.6"/><path d="M936.8 696.3L945 692L953.2 696.3L945 700.6Z" fill="#000" fill-opacity="0.6"/><path d="M936.8 696.6L945 692.3L953.2 696.6L945 700.9Z" fill="#000" fill-opacity="0.6"/><path d="M936.8 697L945 692.7L953.2 697L945 701.3Z" fill="#000" fill-opacity="0.6"/><path d="M936.8 697.7L945 693.4L953.2 697.7L945 702Z" fill="#000" fill-opacity="0.6"/><path d="M936.8 714.8L945 710.5L953.2 714.8L945 719.1Z" fill="#000" fill-opacity="0.6"/><path d="M936.8 723.3L945 719L953.2 723.3L945 727.6Z" fill="#000" fill-opacity="0.6"/><path d="M936.8 731.8L945 727.5L953.2 731.8L945 736.1Z" fill="#000" fill-opacity="0.6"/><path d="M936.8 732.3L945 728L953.2 732.3L945 736.6Z" fill="#000" fill-opacity="0.6"/><path d="M937 574L945 569.5L953 574L945 578.5ZM937 731.5L945 727L953 731.5L945 736Z" fill="#000" fill-opacity="0.42"/><rect x="1259.9" y="574.5" width="7.2" height="303" fill="#000"/><path d="M1255.3 573L1263.5 568.7L1271.7 573L1263.5 577.3Z" fill="#000" fill-opacity="0.95"/><path d="M1255.3 575.5L1263.5 571.2L1271.7 575.5L1263.5 579.8Z" fill="#000" fill-opacity="0.95"/><path d="M1255.3 606.1L1263.5 601.8L1271.7 606.1L1263.5 610.4Z" fill="#000" fill-opacity="0.95"/><path d="M1255.3 620L1263.5 615.7L1271.7 620L1263.5 624.3Z" fill="#000" fill-opacity="0.95"/><path d="M1255.3 641.1L1263.5 636.8L1271.7 641.1L1263.5 645.4Z" fill="#000" fill-opacity="0.95"/><path d="M1255.3 649L1263.5 644.7L1271.7 649L1263.5 653.3Z" fill="#000" fill-opacity="0.95"/><path d="M1255.3 651.5L1263.5 647.2L1271.7 651.5L1263.5 655.8Z" fill="#000" fill-opacity="0.95"/><path d="M1255.3 653.3L1263.5 649L1271.7 653.3L1263.5 657.6Z" fill="#000" fill-opacity="0.95"/><path d="M1255.3 668.7L1263.5 664.4L1271.7 668.7L1263.5 673Z" fill="#000" fill-opacity="0.95"/><path d="M1255.3 690L1263.5 685.7L1271.7 690L1263.5 694.3Z" fill="#000" fill-opacity="0.95"/><path d="M1255.3 706.9L1263.5 702.6L1271.7 706.9L1263.5 711.2Z" fill="#000" fill-opacity="0.95"/><path d="M1255.3 714L1263.5 709.7L1271.7 714L1263.5 718.3Z" fill="#000" fill-opacity="0.95"/><path d="M1255.3 716.5L1263.5 712.2L1271.7 716.5L1263.5 720.8Z" fill="#000" fill-opacity="0.95"/><path d="M1255.3 734.5L1263.5 730.2L1271.7 734.5L1263.5 738.8Z" fill="#000" fill-opacity="0.95"/><path d="M1255.3 755L1263.5 750.7L1271.7 755L1263.5 759.3Z" fill="#000" fill-opacity="0.95"/><path d="M1255.3 772.7L1263.5 768.4L1271.7 772.7L1263.5 777Z" fill="#000" fill-opacity="0.95"/><path d="M1255.3 777.5L1263.5 773.2L1271.7 777.5L1263.5 781.8Z" fill="#000" fill-opacity="0.95"/><path d="M1255.3 782.8L1263.5 778.5L1271.7 782.8L1263.5 787.1Z" fill="#000" fill-opacity="0.95"/><path d="M1255.3 795L1263.5 790.7L1271.7 795L1263.5 799.3Z" fill="#000" fill-opacity="0.95"/><path d="M1255.3 809L1263.5 804.7L1271.7 809L1263.5 813.3Z" fill="#000" fill-opacity="0.95"/><path d="M1255.3 812L1263.5 807.7L1271.7 812L1263.5 816.3Z" fill="#000" fill-opacity="0.95"/><path d="M1255.3 850.7L1263.5 846.4L1271.7 850.7L1263.5 855Z" fill="#000" fill-opacity="0.95"/><path d="M1255.3 873.5L1263.5 869.2L1271.7 873.5L1263.5 877.8Z" fill="#000" fill-opacity="0.95"/><path d="M1255.3 579.1L1263.5 574.8L1271.7 579.1L1263.5 583.4Z" fill="#000" fill-opacity="0.5"/><path d="M1255.3 597.6L1263.5 593.3L1271.7 597.6L1263.5 601.9Z" fill="#000" fill-opacity="0.5"/><path d="M1255.3 617.3L1263.5 613L1271.7 617.3L1263.5 621.6Z" fill="#000" fill-opacity="0.5"/><path d="M1255.3 622L1263.5 617.7L1271.7 622L1263.5 626.3Z" fill="#000" fill-opacity="0.5"/><path d="M1255.3 635.3L1263.5 631L1271.7 635.3L1263.5 639.6Z" fill="#000" fill-opacity="0.5"/><path d="M1255.3 661.8L1263.5 657.5L1271.7 661.8L1263.5 666.1Z" fill="#000" fill-opacity="0.5"/><path d="M1255.3 682L1263.5 677.7L1271.7 682L1263.5 686.3Z" fill="#000" fill-opacity="0.5"/><path d="M1255.3 687.3L1263.5 683L1271.7 687.3L1263.5 691.6Z" fill="#000" fill-opacity="0.5"/><path d="M1255.3 694.1L1263.5 689.8L1271.7 694.1L1263.5 698.4Z" fill="#000" fill-opacity="0.5"/><path d="M1255.3 701L1263.5 696.7L1271.7 701L1263.5 705.3Z" fill="#000" fill-opacity="0.5"/><path d="M1255.3 727.5L1263.5 723.2L1271.7 727.5L1263.5 731.8Z" fill="#000" fill-opacity="0.5"/><path d="M1255.3 728.2L1263.5 723.9L1271.7 728.2L1263.5 732.5Z" fill="#000" fill-opacity="0.5"/><path d="M1255.3 742.5L1263.5 738.2L1271.7 742.5L1263.5 746.8Z" fill="#000" fill-opacity="0.5"/><path d="M1255.3 750.5L1263.5 746.2L1271.7 750.5L1263.5 754.8Z" fill="#000" fill-opacity="0.5"/><path d="M1255.3 760L1263.5 755.7L1271.7 760L1263.5 764.3Z" fill="#000" fill-opacity="0.5"/><path d="M1255.3 766.4L1263.5 762.1L1271.7 766.4L1263.5 770.7Z" fill="#000" fill-opacity="0.5"/><path d="M1255.3 790.7L1263.5 786.4L1271.7 790.7L1263.5 795Z" fill="#000" fill-opacity="0.5"/><path d="M1255.3 799.2L1263.5 794.9L1271.7 799.2L1263.5 803.5Z" fill="#000" fill-opacity="0.5"/><path d="M1255.3 805.6L1263.5 801.3L1271.7 805.6L1263.5 809.9Z" fill="#000" fill-opacity="0.5"/><path d="M1255.3 816.2L1263.5 811.9L1271.7 816.2L1263.5 820.5Z" fill="#000" fill-opacity="0.5"/><path d="M1255.3 822L1263.5 817.7L1271.7 822L1263.5 826.3Z" fill="#000" fill-opacity="0.5"/><path d="M1255.3 828.9L1263.5 824.6L1271.7 828.9L1263.5 833.2Z" fill="#000" fill-opacity="0.5"/><path d="M1255.3 836.3L1263.5 832L1271.7 836.3L1263.5 840.6Z" fill="#000" fill-opacity="0.5"/><path d="M1255.3 863.4L1263.5 859.1L1271.7 863.4L1263.5 867.7Z" fill="#000" fill-opacity="0.5"/><path d="M1255.3 597.8L1263.5 593.5L1271.7 597.8L1263.5 602.1Z" fill="#000" fill-opacity="0.6"/><path d="M1255.3 616.5L1263.5 612.2L1271.7 616.5L1263.5 620.8Z" fill="#000" fill-opacity="0.6"/><path d="M1255.3 619.2L1263.5 614.9L1271.7 619.2L1263.5 623.5Z" fill="#000" fill-opacity="0.6"/><path d="M1255.3 641.5L1263.5 637.2L1271.7 641.5L1263.5 645.8Z" fill="#000" fill-opacity="0.6"/><path d="M1255.3 649.4L1263.5 645.1L1271.7 649.4L1263.5 653.7Z" fill="#000" fill-opacity="0.6"/><path d="M1255.3 654.7L1263.5 650.4L1271.7 654.7L1263.5 659Z" fill="#000" fill-opacity="0.6"/><path d="M1255.3 661.8L1263.5 657.5L1271.7 661.8L1263.5 666.1Z" fill="#000" fill-opacity="0.6"/><path d="M1255.3 707.4L1263.5 703.1L1271.7 707.4L1263.5 711.7Z" fill="#000" fill-opacity="0.6"/><path d="M1255.3 713.8L1263.5 709.5L1271.7 713.8L1263.5 718.1Z" fill="#000" fill-opacity="0.6"/><path d="M1255.3 714.8L1263.5 710.5L1271.7 714.8L1263.5 719.1Z" fill="#000" fill-opacity="0.6"/><path d="M1255.3 715.8L1263.5 711.5L1271.7 715.8L1263.5 720.1Z" fill="#000" fill-opacity="0.6"/><path d="M1255.3 716.8L1263.5 712.5L1271.7 716.8L1263.5 721.1Z" fill="#000" fill-opacity="0.6"/><path d="M1255.3 728.7L1263.5 724.4L1271.7 728.7L1263.5 733Z" fill="#000" fill-opacity="0.6"/><path d="M1255.3 759.7L1263.5 755.4L1271.7 759.7L1263.5 764Z" fill="#000" fill-opacity="0.6"/><path d="M1255.3 797L1263.5 792.7L1271.7 797L1263.5 801.3Z" fill="#000" fill-opacity="0.6"/><path d="M1255.3 803.6L1263.5 799.3L1271.7 803.6L1263.5 807.9Z" fill="#000" fill-opacity="0.6"/><path d="M1255.3 807.7L1263.5 803.4L1271.7 807.7L1263.5 812Z" fill="#000" fill-opacity="0.6"/><path d="M1255.3 809L1263.5 804.7L1271.7 809L1263.5 813.3Z" fill="#000" fill-opacity="0.6"/><path d="M1255.3 850.9L1263.5 846.6L1271.7 850.9L1263.5 855.2Z" fill="#000" fill-opacity="0.6"/><path d="M1255.3 864.6L1263.5 860.3L1271.7 864.6L1263.5 868.9Z" fill="#000" fill-opacity="0.6"/><path d="M1255.3 879.9L1263.5 875.6L1271.7 879.9L1263.5 884.2Z" fill="#000" fill-opacity="0.6"/><path d="M1255.3 880.4L1263.5 876.1L1271.7 880.4L1263.5 884.7Z" fill="#000" fill-opacity="0.6"/><path d="M1255.5 574.5L1263.5 570L1271.5 574.5L1263.5 579ZM1255.5 877.5L1263.5 873L1271.5 877.5L1263.5 882Z" fill="#000" fill-opacity="0.42"/></g>
<g><text x="51.8" y="963.7" font-size="34.7" fill="#000">LG-5</text><line x1="53.4" y1="988.2" x2="53.4" y2="1381.8" stroke="#8c8c8c" stroke-width="1.6"/><line x1="47.9" y1="1030.4" x2="53.4" y2="1030.4" stroke="#8c8c8c" stroke-width="1.6"/><text transform="translate(44.5,1036.6) scale(1.06,1)" font-size="16.4" fill="#8a8a8a" stroke="#8a8a8a" stroke-width="0.3" text-anchor="end">0</text><line x1="47.9" y1="1077.1" x2="53.4" y2="1077.1" stroke="#8c8c8c" stroke-width="1.6"/><text transform="translate(44.5,1083.3) scale(1.06,1)" font-size="16.4" fill="#8a8a8a" stroke="#8a8a8a" stroke-width="0.3" text-anchor="end">20</text><line x1="47.9" y1="1123.7" x2="53.4" y2="1123.7" stroke="#8c8c8c" stroke-width="1.6"/><text transform="translate(44.5,1129.9) scale(1.06,1)" font-size="16.4" fill="#8a8a8a" stroke="#8a8a8a" stroke-width="0.3" text-anchor="end">40</text><line x1="47.9" y1="1170.4" x2="53.4" y2="1170.4" stroke="#8c8c8c" stroke-width="1.6"/><text transform="translate(44.5,1176.6) scale(1.06,1)" font-size="16.4" fill="#8a8a8a" stroke="#8a8a8a" stroke-width="0.3" text-anchor="end">60</text><line x1="47.9" y1="1217.1" x2="53.4" y2="1217.1" stroke="#8c8c8c" stroke-width="1.6"/><text transform="translate(44.5,1223.3) scale(1.06,1)" font-size="16.4" fill="#8a8a8a" stroke="#8a8a8a" stroke-width="0.3" text-anchor="end">80</text><line x1="47.9" y1="1263.8" x2="53.4" y2="1263.8" stroke="#8c8c8c" stroke-width="1.6"/><text transform="translate(44.5,1270) scale(1.06,1)" font-size="16.4" fill="#8a8a8a" stroke="#8a8a8a" stroke-width="0.3" text-anchor="end">100</text><line x1="47.9" y1="1310.4" x2="53.4" y2="1310.4" stroke="#8c8c8c" stroke-width="1.6"/><text transform="translate(44.5,1316.6) scale(1.06,1)" font-size="16.4" fill="#8a8a8a" stroke="#8a8a8a" stroke-width="0.3" text-anchor="end">120</text><line x1="47.9" y1="1357.1" x2="53.4" y2="1357.1" stroke="#8c8c8c" stroke-width="1.6"/><text transform="translate(44.5,1363.3) scale(1.06,1)" font-size="16.4" fill="#8a8a8a" stroke="#8a8a8a" stroke-width="0.3" text-anchor="end">140</text><text transform="translate(13.6,1181.8) rotate(-90) scale(1.115,1)" font-size="15.5" fill="#8a8a8a" stroke="#8a8a8a" stroke-width="0.2" text-anchor="middle">Position</text><text x="212.5" y="1009" font-size="12.5" fill="#333" text-anchor="middle" textLength="127.5" lengthAdjust="spacingAndGlyphs">dcs9Xrg1139Map.csv</text><text x="530" y="1009" font-size="12.5" fill="#333" text-anchor="middle" textLength="111.5" lengthAdjust="spacingAndGlyphs">jc12X48-1Map.csv</text><line x1="212.5" y1="1030.4" x2="530" y2="1035.9" stroke="#108510" stroke-width="1.9" stroke-opacity="0.82"/><line x1="212.5" y1="1054" x2="530" y2="1085.1" stroke="#108510" stroke-width="1.9" stroke-opacity="0.82"/><line x1="212.5" y1="1069.9" x2="530" y2="1105.4" stroke="#108510" stroke-width="1.9" stroke-opacity="0.82"/><line x1="212.5" y1="1070.5" x2="530" y2="1106" stroke="#108510" stroke-width="1.9" stroke-opacity="0.82"/><line x1="212.5" y1="1098.7" x2="530" y2="1127.2" stroke="#108510" stroke-width="1.9" stroke-opacity="0.82"/><line x1="212.5" y1="1101.6" x2="530" y2="1131.6" stroke="#108510" stroke-width="1.9" stroke-opacity="0.82"/><line x1="212.5" y1="1146.4" x2="530" y2="1187" stroke="#108510" stroke-width="1.9" stroke-opacity="0.82"/><line x1="212.5" y1="1167.4" x2="530" y2="1230.9" stroke="#108510" stroke-width="1.9" stroke-opacity="0.82"/><line x1="212.5" y1="1171" x2="530" y2="1251" stroke="#108510" stroke-width="1.9" stroke-opacity="0.82"/><line x1="212.5" y1="1183.8" x2="530" y2="1275" stroke="#108510" stroke-width="1.9" stroke-opacity="0.82"/><line x1="212.5" y1="1190.5" x2="530" y2="1280.9" stroke="#108510" stroke-width="1.9" stroke-opacity="0.82"/><line x1="212.5" y1="1204.9" x2="530" y2="1293.3" stroke="#108510" stroke-width="1.9" stroke-opacity="0.82"/><line x1="212.5" y1="1212.8" x2="530" y2="1301.1" stroke="#108510" stroke-width="1.9" stroke-opacity="0.82"/><line x1="212.5" y1="1213.7" x2="530" y2="1303.3" stroke="#108510" stroke-width="1.9" stroke-opacity="0.82"/><line x1="212.5" y1="1214.7" x2="530" y2="1305.6" stroke="#108510" stroke-width="1.9" stroke-opacity="0.82"/><line x1="212.5" y1="1225.6" x2="530" y2="1329.7" stroke="#108510" stroke-width="1.9" stroke-opacity="0.82"/><line x1="212.5" y1="1226.1" x2="530" y2="1330.3" stroke="#108510" stroke-width="1.9" stroke-opacity="0.82"/><line x1="212.5" y1="1146" x2="530" y2="1204" stroke="#6e6e6e" stroke-width="1.9" stroke-opacity="0.82"/><line x1="212.5" y1="1165.2" x2="530" y2="1232.3" stroke="#6e6e6e" stroke-width="1.9" stroke-opacity="0.82"/><rect x="208.9" y="1030.9" width="7.2" height="195.6" fill="#000"/><path d="M204.3 1069.8L212.5 1065.5L220.7 1069.8L212.5 1074.1Z" fill="#000" fill-opacity="0.95"/><path d="M204.3 1087.3L212.5 1083L220.7 1087.3L212.5 1091.6Z" fill="#000" fill-opacity="0.95"/><path d="M204.3 1096L212.5 1091.7L220.7 1096L212.5 1100.3Z" fill="#000" fill-opacity="0.95"/><path d="M204.3 1125.5L212.5 1121.2L220.7 1125.5L212.5 1129.8Z" fill="#000" fill-opacity="0.95"/><path d="M204.3 1153.1L212.5 1148.8L220.7 1153.1L212.5 1157.4Z" fill="#000" fill-opacity="0.95"/><path d="M204.3 1165L212.5 1160.7L220.7 1165L212.5 1169.3Z" fill="#000" fill-opacity="0.95"/><path d="M204.3 1170L212.5 1165.7L220.7 1170L212.5 1174.3Z" fill="#000" fill-opacity="0.95"/><path d="M204.3 1215.1L212.5 1210.8L220.7 1215.1L212.5 1219.4Z" fill="#000" fill-opacity="0.95"/><path d="M204.3 1222L212.5 1217.7L220.7 1222L212.5 1226.3Z" fill="#000" fill-opacity="0.95"/><path d="M204.3 1226.3L212.5 1222L220.7 1226.3L212.5 1230.6Z" fill="#000" fill-opacity="0.95"/><path d="M204.3 1030L212.5 1025.7L220.7 1030L212.5 1034.3Z" fill="#000" fill-opacity="0.5"/><path d="M204.3 1039.1L212.5 1034.8L220.7 1039.1L212.5 1043.4Z" fill="#000" fill-opacity="0.5"/><path d="M204.3 1054.5L212.5 1050.2L220.7 1054.5L212.5 1058.8Z" fill="#000" fill-opacity="0.5"/><path d="M204.3 1077.8L212.5 1073.5L220.7 1077.8L212.5 1082.1Z" fill="#000" fill-opacity="0.5"/><path d="M204.3 1082L212.5 1077.7L220.7 1082L212.5 1086.3Z" fill="#000" fill-opacity="0.5"/><path d="M204.3 1091L212.5 1086.7L220.7 1091L212.5 1095.3Z" fill="#000" fill-opacity="0.5"/><path d="M204.3 1094L212.5 1089.7L220.7 1094L212.5 1098.3Z" fill="#000" fill-opacity="0.5"/><path d="M204.3 1099L212.5 1094.7L220.7 1099L212.5 1103.3Z" fill="#000" fill-opacity="0.5"/><path d="M204.3 1102.7L212.5 1098.4L220.7 1102.7L212.5 1107Z" fill="#000" fill-opacity="0.5"/><path d="M204.3 1111.2L212.5 1106.9L220.7 1111.2L212.5 1115.5Z" fill="#000" fill-opacity="0.5"/><path d="M204.3 1130.8L212.5 1126.5L220.7 1130.8L212.5 1135.1Z" fill="#000" fill-opacity="0.5"/><path d="M204.3 1134.5L212.5 1130.2L220.7 1134.5L212.5 1138.8Z" fill="#000" fill-opacity="0.5"/><path d="M204.3 1143L212.5 1138.7L220.7 1143L212.5 1147.3Z" fill="#000" fill-opacity="0.5"/><path d="M204.3 1155.7L212.5 1151.4L220.7 1155.7L212.5 1160Z" fill="#000" fill-opacity="0.5"/><path d="M204.3 1158.5L212.5 1154.2L220.7 1158.5L212.5 1162.8Z" fill="#000" fill-opacity="0.5"/><path d="M204.3 1161L212.5 1156.7L220.7 1161L212.5 1165.3Z" fill="#000" fill-opacity="0.5"/><path d="M204.3 1172.7L212.5 1168.4L220.7 1172.7L212.5 1177Z" fill="#000" fill-opacity="0.5"/><path d="M204.3 1183.3L212.5 1179L220.7 1183.3L212.5 1187.6Z" fill="#000" fill-opacity="0.5"/><path d="M204.3 1190.7L212.5 1186.4L220.7 1190.7L212.5 1195Z" fill="#000" fill-opacity="0.5"/><path d="M204.3 1201.3L212.5 1197L220.7 1201.3L212.5 1205.6Z" fill="#000" fill-opacity="0.5"/><path d="M204.3 1205L212.5 1200.7L220.7 1205L212.5 1209.3Z" fill="#000" fill-opacity="0.5"/><path d="M204.3 1208.8L212.5 1204.5L220.7 1208.8L212.5 1213.1Z" fill="#000" fill-opacity="0.5"/><path d="M204.3 1030.4L212.5 1026.1L220.7 1030.4L212.5 1034.7Z" fill="#000" fill-opacity="0.6"/><path d="M204.3 1054L212.5 1049.7L220.7 1054L212.5 1058.3Z" fill="#000" fill-opacity="0.6"/><path d="M204.3 1069.9L212.5 1065.6L220.7 1069.9L212.5 1074.2Z" fill="#000" fill-opacity="0.6"/><path d="M204.3 1070.5L212.5 1066.2L220.7 1070.5L212.5 1074.8Z" fill="#000" fill-opacity="0.6"/><path d="M204.3 1098.7L212.5 1094.4L220.7 1098.7L212.5 1103Z" fill="#000" fill-opacity="0.6"/><path d="M204.3 1101.6L212.5 1097.3L220.7 1101.6L212.5 1105.9Z" fill="#000" fill-opacity="0.6"/><path d="M204.3 1146L212.5 1141.7L220.7 1146L212.5 1150.3Z" fill="#000" fill-opacity="0.6"/><path d="M204.3 1146.4L212.5 1142.1L220.7 1146.4L212.5 1150.7Z" fill="#000" fill-opacity="0.6"/><path d="M204.3 1165.2L212.5 1160.9L220.7 1165.2L212.5 1169.5Z" fill="#000" fill-opacity="0.6"/><path d="M204.3 1167.4L212.5 1163.1L220.7 1167.4L212.5 1171.7Z" fill="#000" fill-opacity="0.6"/><path d="M204.3 1171L212.5 1166.7L220.7 1171L212.5 1175.3Z" fill="#000" fill-opacity="0.6"/><path d="M204.3 1183.8L212.5 1179.5L220.7 1183.8L212.5 1188.1Z" fill="#000" fill-opacity="0.6"/><path d="M204.3 1190.5L212.5 1186.2L220.7 1190.5L212.5 1194.8Z" fill="#000" fill-opacity="0.6"/><path d="M204.3 1204.9L212.5 1200.6L220.7 1204.9L212.5 1209.2Z" fill="#000" fill-opacity="0.6"/><path d="M204.3 1212.8L212.5 1208.5L220.7 1212.8L212.5 1217.1Z" fill="#000" fill-opacity="0.6"/><path d="M204.3 1213.7L212.5 1209.4L220.7 1213.7L212.5 1218Z" fill="#000" fill-opacity="0.6"/><path d="M204.3 1214.7L212.5 1210.4L220.7 1214.7L212.5 1219Z" fill="#000" fill-opacity="0.6"/><path d="M204.3 1225.6L212.5 1221.3L220.7 1225.6L212.5 1229.9Z" fill="#000" fill-opacity="0.6"/><path d="M204.3 1226.1L212.5 1221.8L220.7 1226.1L212.5 1230.4Z" fill="#000" fill-opacity="0.6"/><path d="M204.5 1030.9L212.5 1026.4L220.5 1030.9L212.5 1035.4ZM204.5 1226.5L212.5 1222L220.5 1226.5L212.5 1231Z" fill="#000" fill-opacity="0.42"/><rect x="526.4" y="1031.4" width="7.2" height="300.5" fill="#000"/><path d="M521.8 1030.1L530 1025.8L538.2 1030.1L530 1034.4Z" fill="#000" fill-opacity="0.95"/><path d="M521.8 1084.7L530 1080.4L538.2 1084.7L530 1089Z" fill="#000" fill-opacity="0.95"/><path d="M521.8 1096.4L530 1092.1L538.2 1096.4L530 1100.7Z" fill="#000" fill-opacity="0.95"/><path d="M521.8 1104.8L530 1100.5L538.2 1104.8L530 1109.1Z" fill="#000" fill-opacity="0.95"/><path d="M521.8 1127.1L530 1122.8L538.2 1127.1L530 1131.4Z" fill="#000" fill-opacity="0.95"/><path d="M521.8 1131.3L530 1127L538.2 1131.3L530 1135.6Z" fill="#000" fill-opacity="0.95"/><path d="M521.8 1153.1L530 1148.8L538.2 1153.1L530 1157.4Z" fill="#000" fill-opacity="0.95"/><path d="M521.8 1165.3L530 1161L538.2 1165.3L530 1169.6Z" fill="#000" fill-opacity="0.95"/><path d="M521.8 1230.9L530 1226.6L538.2 1230.9L530 1235.2Z" fill="#000" fill-opacity="0.95"/><path d="M521.8 1264.8L530 1260.5L538.2 1264.8L530 1269.1Z" fill="#000" fill-opacity="0.95"/><path d="M521.8 1273.8L530 1269.5L538.2 1273.8L530 1278.1Z" fill="#000" fill-opacity="0.95"/><path d="M521.8 1277.6L530 1273.3L538.2 1277.6L530 1281.9Z" fill="#000" fill-opacity="0.95"/><path d="M521.8 1290.3L530 1286L538.2 1290.3L530 1294.6Z" fill="#000" fill-opacity="0.95"/><path d="M521.8 1305.1L530 1300.8L538.2 1305.1L530 1309.4Z" fill="#000" fill-opacity="0.95"/><path d="M521.8 1312.6L530 1308.3L538.2 1312.6L530 1316.9Z" fill="#000" fill-opacity="0.95"/><path d="M521.8 1324.2L530 1319.9L538.2 1324.2L530 1328.5Z" fill="#000" fill-opacity="0.95"/><path d="M521.8 1329.5L530 1325.2L538.2 1329.5L530 1333.8Z" fill="#000" fill-opacity="0.95"/><path d="M521.8 1035.9L530 1031.6L538.2 1035.9L530 1040.2Z" fill="#000" fill-opacity="0.5"/><path d="M521.8 1055L530 1050.7L538.2 1055L530 1059.3Z" fill="#000" fill-opacity="0.5"/><path d="M521.8 1073L530 1068.7L538.2 1073L530 1077.3Z" fill="#000" fill-opacity="0.5"/><path d="M521.8 1081L530 1076.7L538.2 1081L530 1085.3Z" fill="#000" fill-opacity="0.5"/><path d="M521.8 1110.1L530 1105.8L538.2 1110.1L530 1114.4Z" fill="#000" fill-opacity="0.5"/><path d="M521.8 1122.9L530 1118.6L538.2 1122.9L530 1127.2Z" fill="#000" fill-opacity="0.5"/><path d="M521.8 1143.5L530 1139.2L538.2 1143.5L530 1147.8Z" fill="#000" fill-opacity="0.5"/><path d="M521.8 1186L530 1181.7L538.2 1186L530 1190.3Z" fill="#000" fill-opacity="0.5"/><path d="M521.8 1190L530 1185.7L538.2 1190L530 1194.3Z" fill="#000" fill-opacity="0.5"/><path d="M521.8 1197L530 1192.7L538.2 1197L530 1201.3Z" fill="#000" fill-opacity="0.5"/><path d="M521.8 1203.3L530 1199L538.2 1203.3L530 1207.6Z" fill="#000" fill-opacity="0.5"/><path d="M521.8 1210.8L530 1206.5L538.2 1210.8L530 1215.1Z" fill="#000" fill-opacity="0.5"/><path d="M521.8 1216.6L530 1212.3L538.2 1216.6L530 1220.9Z" fill="#000" fill-opacity="0.5"/><path d="M521.8 1239.4L530 1235.1L538.2 1239.4L530 1243.7Z" fill="#000" fill-opacity="0.5"/><path d="M521.8 1245.7L530 1241.4L538.2 1245.7L530 1250Z" fill="#000" fill-opacity="0.5"/><path d="M521.8 1250.5L530 1246.2L538.2 1250.5L530 1254.8Z" fill="#000" fill-opacity="0.5"/><path d="M521.8 1281.3L530 1277L538.2 1281.3L530 1285.6Z" fill="#000" fill-opacity="0.5"/><path d="M521.8 1285L530 1280.7L538.2 1285L530 1289.3Z" fill="#000" fill-opacity="0.5"/><path d="M521.8 1294L530 1289.7L538.2 1294L530 1298.3Z" fill="#000" fill-opacity="0.5"/><path d="M521.8 1298.2L530 1293.9L538.2 1298.2L530 1302.5Z" fill="#000" fill-opacity="0.5"/><path d="M521.8 1317.3L530 1313L538.2 1317.3L530 1321.6Z" fill="#000" fill-opacity="0.5"/><path d="M521.8 1321L530 1316.7L538.2 1321L530 1325.3Z" fill="#000" fill-opacity="0.5"/><path d="M521.8 1333.2L530 1328.9L538.2 1333.2L530 1337.5Z" fill="#000" fill-opacity="0.5"/><path d="M521.8 1035.9L530 1031.6L538.2 1035.9L530 1040.2Z" fill="#000" fill-opacity="0.6"/><path d="M521.8 1085.1L530 1080.8L538.2 1085.1L530 1089.4Z" fill="#000" fill-opacity="0.6"/><path d="M521.8 1105.4L530 1101.1L538.2 1105.4L530 1109.7Z" fill="#000" fill-opacity="0.6"/><path d="M521.8 1106L530 1101.7L538.2 1106L530 1110.3Z" fill="#000" fill-opacity="0.6"/><path d="M521.8 1127.2L530 1122.9L538.2 1127.2L530 1131.5Z" fill="#000" fill-opacity="0.6"/><path d="M521.8 1131.6L530 1127.3L538.2 1131.6L530 1135.9Z" fill="#000" fill-opacity="0.6"/><path d="M521.8 1187L530 1182.7L538.2 1187L530 1191.3Z" fill="#000" fill-opacity="0.6"/><path d="M521.8 1204L530 1199.7L538.2 1204L530 1208.3Z" fill="#000" fill-opacity="0.6"/><path d="M521.8 1230.9L530 1226.6L538.2 1230.9L530 1235.2Z" fill="#000" fill-opacity="0.6"/><path d="M521.8 1232.3L530 1228L538.2 1232.3L530 1236.6Z" fill="#000" fill-opacity="0.6"/><path d="M521.8 1251L530 1246.7L538.2 1251L530 1255.3Z" fill="#000" fill-opacity="0.6"/><path d="M521.8 1275L530 1270.7L538.2 1275L530 1279.3Z" fill="#000" fill-opacity="0.6"/><path d="M521.8 1280.9L530 1276.6L538.2 1280.9L530 1285.2Z" fill="#000" fill-opacity="0.6"/><path d="M521.8 1293.3L530 1289L538.2 1293.3L530 1297.6Z" fill="#000" fill-opacity="0.6"/><path d="M521.8 1301.1L530 1296.8L538.2 1301.1L530 1305.4Z" fill="#000" fill-opacity="0.6"/><path d="M521.8 1303.3L530 1299L538.2 1303.3L530 1307.6Z" fill="#000" fill-opacity="0.6"/><path d="M521.8 1305.6L530 1301.3L538.2 1305.6L530 1309.9Z" fill="#000" fill-opacity="0.6"/><path d="M521.8 1329.7L530 1325.4L538.2 1329.7L530 1334Z" fill="#000" fill-opacity="0.6"/><path d="M521.8 1330.3L530 1326L538.2 1330.3L530 1334.6Z" fill="#000" fill-opacity="0.6"/><path d="M522 1031.4L530 1026.9L538 1031.4L530 1035.9ZM522 1331.9L530 1327.4L538 1331.9L530 1336.4Z" fill="#000" fill-opacity="0.42"/></g>
<g><text x="781.9" y="969.8" font-size="34.7" fill="#000">LG-6</text><line x1="785.9" y1="986.2" x2="785.9" y2="1378.8" stroke="#8c8c8c" stroke-width="1.6"/><line x1="780.4" y1="1034.8" x2="785.9" y2="1034.8" stroke="#8c8c8c" stroke-width="1.6"/><text transform="translate(777.4,1041) scale(1.06,1)" font-size="16.4" fill="#8a8a8a" stroke="#8a8a8a" stroke-width="0.3" text-anchor="end">0</text><line x1="780.4" y1="1094.8" x2="785.9" y2="1094.8" stroke="#8c8c8c" stroke-width="1.6"/><text transform="translate(777.4,1101) scale(1.06,1)" font-size="16.4" fill="#8a8a8a" stroke="#8a8a8a" stroke-width="0.3" text-anchor="end">20</text><line x1="780.4" y1="1154.7" x2="785.9" y2="1154.7" stroke="#8c8c8c" stroke-width="1.6"/><text transform="translate(777.4,1160.9) scale(1.06,1)" font-size="16.4" fill="#8a8a8a" stroke="#8a8a8a" stroke-width="0.3" text-anchor="end">40</text><line x1="780.4" y1="1214.7" x2="785.9" y2="1214.7" stroke="#8c8c8c" stroke-width="1.6"/><text transform="translate(777.4,1220.9) scale(1.06,1)" font-size="16.4" fill="#8a8a8a" stroke="#8a8a8a" stroke-width="0.3" text-anchor="end">60</text><line x1="780.4" y1="1274.6" x2="785.9" y2="1274.6" stroke="#8c8c8c" stroke-width="1.6"/><text transform="translate(777.4,1280.8) scale(1.06,1)" font-size="16.4" fill="#8a8a8a" stroke="#8a8a8a" stroke-width="0.3" text-anchor="end">80</text><line x1="780.4" y1="1334.6" x2="785.9" y2="1334.6" stroke="#8c8c8c" stroke-width="1.6"/><text transform="translate(777.4,1340.8) scale(1.06,1)" font-size="16.4" fill="#8a8a8a" stroke="#8a8a8a" stroke-width="0.3" text-anchor="end">100</text><text transform="translate(746.3,1180) rotate(-90) scale(1.115,1)" font-size="15.5" fill="#8a8a8a" stroke="#8a8a8a" stroke-width="0.2" text-anchor="middle">Position</text><text x="945" y="1007.5" font-size="12.5" fill="#333" text-anchor="middle" textLength="127.5" lengthAdjust="spacingAndGlyphs">dcs9Xrg1139Map.csv</text><text x="1263" y="1007.5" font-size="12.5" fill="#333" text-anchor="middle" textLength="111.5" lengthAdjust="spacingAndGlyphs">jc12X48-1Map.csv</text><line x1="945" y1="1040.5" x2="1263" y2="1047.4" stroke="#108510" stroke-width="1.9" stroke-opacity="0.82"/><line x1="945" y1="1058.3" x2="1263" y2="1055.7" stroke="#108510" stroke-width="1.9" stroke-opacity="0.82"/><line x1="945" y1="1078.8" x2="1263" y2="1080.4" stroke="#108510" stroke-width="1.9" stroke-opacity="0.82"/><line x1="945" y1="1079.3" x2="1263" y2="1081.2" stroke="#108510" stroke-width="1.9" stroke-opacity="0.82"/><line x1="945" y1="1079.7" x2="1263" y2="1082.1" stroke="#108510" stroke-width="1.9" stroke-opacity="0.82"/><line x1="945" y1="1089.1" x2="1263" y2="1085.5" stroke="#108510" stroke-width="1.9" stroke-opacity="0.82"/><line x1="945" y1="1094.4" x2="1263" y2="1098.5" stroke="#108510" stroke-width="1.9" stroke-opacity="0.82"/><line x1="945" y1="1095.1" x2="1263" y2="1099.1" stroke="#108510" stroke-width="1.9" stroke-opacity="0.82"/><line x1="945" y1="1108.1" x2="1263" y2="1103.3" stroke="#108510" stroke-width="1.9" stroke-opacity="0.82"/><line x1="945" y1="1108.6" x2="1263" y2="1105.4" stroke="#108510" stroke-width="1.9" stroke-opacity="0.82"/><line x1="945" y1="1112.5" x2="1263" y2="1115.3" stroke="#108510" stroke-width="1.9" stroke-opacity="0.82"/><line x1="945" y1="1117" x2="1263" y2="1116" stroke="#108510" stroke-width="1.9" stroke-opacity="0.82"/><line x1="945" y1="1213" x2="1263" y2="1198.5" stroke="#108510" stroke-width="1.9" stroke-opacity="0.82"/><line x1="945" y1="1256.7" x2="1263" y2="1250.5" stroke="#108510" stroke-width="1.9" stroke-opacity="0.82"/><line x1="945" y1="1257.3" x2="1263" y2="1250.7" stroke="#108510" stroke-width="1.9" stroke-opacity="0.82"/><line x1="945" y1="1287.9" x2="1263" y2="1280.4" stroke="#108510" stroke-width="1.9" stroke-opacity="0.82"/><line x1="945" y1="1102.1" x2="1263" y2="1102.1" stroke="#6e6e6e" stroke-width="1.9" stroke-opacity="0.82"/><rect x="941.4" y="1035.3" width="7.2" height="278.7" fill="#000"/><path d="M936.8 1050.5L945 1046.2L953.2 1050.5L945 1054.8Z" fill="#000" fill-opacity="0.95"/><path d="M936.8 1053.1L945 1048.8L953.2 1053.1L945 1057.4Z" fill="#000" fill-opacity="0.95"/><path d="M936.8 1070.6L945 1066.3L953.2 1070.6L945 1074.9Z" fill="#000" fill-opacity="0.95"/><path d="M936.8 1079.6L945 1075.3L953.2 1079.6L945 1083.9Z" fill="#000" fill-opacity="0.95"/><path d="M936.8 1095.5L945 1091.2L953.2 1095.5L945 1099.8Z" fill="#000" fill-opacity="0.95"/><path d="M936.8 1108.8L945 1104.5L953.2 1108.8L945 1113.1Z" fill="#000" fill-opacity="0.95"/><path d="M936.8 1111L945 1106.7L953.2 1111L945 1115.3Z" fill="#000" fill-opacity="0.95"/><path d="M936.8 1113L945 1108.7L953.2 1113L945 1117.3Z" fill="#000" fill-opacity="0.95"/><path d="M936.8 1117.3L945 1113L953.2 1117.3L945 1121.6Z" fill="#000" fill-opacity="0.95"/><path d="M936.8 1146L945 1141.7L953.2 1146L945 1150.3Z" fill="#000" fill-opacity="0.95"/><path d="M936.8 1150L945 1145.7L953.2 1150L945 1154.3Z" fill="#000" fill-opacity="0.95"/><path d="M936.8 1202.9L945 1198.6L953.2 1202.9L945 1207.2Z" fill="#000" fill-opacity="0.95"/><path d="M936.8 1209.8L945 1205.5L953.2 1209.8L945 1214.1Z" fill="#000" fill-opacity="0.95"/><path d="M936.8 1211.9L945 1207.6L953.2 1211.9L945 1216.2Z" fill="#000" fill-opacity="0.95"/><path d="M936.8 1218.2L945 1213.9L953.2 1218.2L945 1222.5Z" fill="#000" fill-opacity="0.95"/><path d="M936.8 1245L945 1240.7L953.2 1245L945 1249.3Z" fill="#000" fill-opacity="0.95"/><path d="M936.8 1253.8L945 1249.5L953.2 1253.8L945 1258.1Z" fill="#000" fill-opacity="0.95"/><path d="M936.8 1257L945 1252.7L953.2 1257L945 1261.3Z" fill="#000" fill-opacity="0.95"/><path d="M936.8 1271L945 1266.7L953.2 1271L945 1275.3Z" fill="#000" fill-opacity="0.95"/><path d="M936.8 1315.3L945 1311L953.2 1315.3L945 1319.6Z" fill="#000" fill-opacity="0.95"/><path d="M936.8 1033.5L945 1029.2L953.2 1033.5L945 1037.8Z" fill="#000" fill-opacity="0.5"/><path d="M936.8 1036L945 1031.7L953.2 1036L945 1040.3Z" fill="#000" fill-opacity="0.5"/><path d="M936.8 1039L945 1034.7L953.2 1039L945 1043.3Z" fill="#000" fill-opacity="0.5"/><path d="M936.8 1041.5L945 1037.2L953.2 1041.5L945 1045.8Z" fill="#000" fill-opacity="0.5"/><path d="M936.8 1044.1L945 1039.8L953.2 1044.1L945 1048.4Z" fill="#000" fill-opacity="0.5"/><path d="M936.8 1057.9L945 1053.6L953.2 1057.9L945 1062.2Z" fill="#000" fill-opacity="0.5"/><path d="M936.8 1088.1L945 1083.8L953.2 1088.1L945 1092.4Z" fill="#000" fill-opacity="0.5"/><path d="M936.8 1101.9L945 1097.6L953.2 1101.9L945 1106.2Z" fill="#000" fill-opacity="0.5"/><path d="M936.8 1124.2L945 1119.9L953.2 1124.2L945 1128.5Z" fill="#000" fill-opacity="0.5"/><path d="M936.8 1129.5L945 1125.2L953.2 1129.5L945 1133.8Z" fill="#000" fill-opacity="0.5"/><path d="M936.8 1137.4L945 1133.1L953.2 1137.4L945 1141.7Z" fill="#000" fill-opacity="0.5"/><path d="M936.8 1144.3L945 1140L953.2 1144.3L945 1148.6Z" fill="#000" fill-opacity="0.5"/><path d="M936.8 1152.3L945 1148L953.2 1152.3L945 1156.6Z" fill="#000" fill-opacity="0.5"/><path d="M936.8 1165L945 1160.7L953.2 1165L945 1169.3Z" fill="#000" fill-opacity="0.5"/><path d="M936.8 1172.1L945 1167.8L953.2 1172.1L945 1176.4Z" fill="#000" fill-opacity="0.5"/><path d="M936.8 1188L945 1183.7L953.2 1188L945 1192.3Z" fill="#000" fill-opacity="0.5"/><path d="M936.8 1198.6L945 1194.3L953.2 1198.6L945 1202.9Z" fill="#000" fill-opacity="0.5"/><path d="M936.8 1222L945 1217.7L953.2 1222L945 1226.3Z" fill="#000" fill-opacity="0.5"/><path d="M936.8 1225.7L945 1221.4L953.2 1225.7L945 1230Z" fill="#000" fill-opacity="0.5"/><path d="M936.8 1242.1L945 1237.8L953.2 1242.1L945 1246.4Z" fill="#000" fill-opacity="0.5"/><path d="M936.8 1247.4L945 1243.1L953.2 1247.4L945 1251.7Z" fill="#000" fill-opacity="0.5"/><path d="M936.8 1264.4L945 1260.1L953.2 1264.4L945 1268.7Z" fill="#000" fill-opacity="0.5"/><path d="M936.8 1269.7L945 1265.4L953.2 1269.7L945 1274Z" fill="#000" fill-opacity="0.5"/><path d="M936.8 1273.9L945 1269.6L953.2 1273.9L945 1278.2Z" fill="#000" fill-opacity="0.5"/><path d="M936.8 1282.4L945 1278.1L953.2 1282.4L945 1286.7Z" fill="#000" fill-opacity="0.5"/><path d="M936.8 1287.7L945 1283.4L953.2 1287.7L945 1292Z" fill="#000" fill-opacity="0.5"/><path d="M936.8 1293L945 1288.7L953.2 1293L945 1297.3Z" fill="#000" fill-opacity="0.5"/><path d="M936.8 1311.6L945 1307.3L953.2 1311.6L945 1315.9Z" fill="#000" fill-opacity="0.5"/><path d="M936.8 1040.5L945 1036.2L953.2 1040.5L945 1044.8Z" fill="#000" fill-opacity="0.6"/><path d="M936.8 1058.3L945 1054L953.2 1058.3L945 1062.6Z" fill="#000" fill-opacity="0.6"/><path d="M936.8 1078.8L945 1074.5L953.2 1078.8L945 1083.1Z" fill="#000" fill-opacity="0.6"/><path d="M936.8 1079.3L945 1075L953.2 1079.3L945 1083.6Z" fill="#000" fill-opacity="0.6"/><path d="M936.8 1079.7L945 1075.4L953.2 1079.7L945 1084Z" fill="#000" fill-opacity="0.6"/><path d="M936.8 1089.1L945 1084.8L953.2 1089.1L945 1093.4Z" fill="#000" fill-opacity="0.6"/><path d="M936.8 1094.4L945 1090.1L953.2 1094.4L945 1098.7Z" fill="#000" fill-opacity="0.6"/><path d="M936.8 1095.1L945 1090.8L953.2 1095.1L945 1099.4Z" fill="#000" fill-opacity="0.6"/><path d="M936.8 1102.1L945 1097.8L953.2 1102.1L945 1106.4Z" fill="#000" fill-opacity="0.6"/><path d="M936.8 1108.1L945 1103.8L953.2 1108.1L945 1112.4Z" fill="#000" fill-opacity="0.6"/><path d="M936.8 1108.6L945 1104.3L953.2 1108.6L945 1112.9Z" fill="#000" fill-opacity="0.6"/><path d="M936.8 1112.5L945 1108.2L953.2 1112.5L945 1116.8Z" fill="#000" fill-opacity="0.6"/><path d="M936.8 1117L945 1112.7L953.2 1117L945 1121.3Z" fill="#000" fill-opacity="0.6"/><path d="M936.8 1213L945 1208.7L953.2 1213L945 1217.3Z" fill="#000" fill-opacity="0.6"/><path d="M936.8 1256.7L945 1252.4L953.2 1256.7L945 1261Z" fill="#000" fill-opacity="0.6"/><path d="M936.8 1257.3L945 1253L953.2 1257.3L945 1261.6Z" fill="#000" fill-opacity="0.6"/><path d="M936.8 1287.9L945 1283.6L953.2 1287.9L945 1292.2Z" fill="#000" fill-opacity="0.6"/><path d="M937 1035.3L945 1030.8L953 1035.3L945 1039.8ZM937 1314L945 1309.5L953 1314L945 1318.5Z" fill="#000" fill-opacity="0.42"/><rect x="1259.4" y="1035.3" width="7.2" height="287.9" fill="#000"/><path d="M1254.8 1060L1263 1055.7L1271.2 1060L1263 1064.3Z" fill="#000" fill-opacity="0.95"/><path d="M1254.8 1098.7L1263 1094.4L1271.2 1098.7L1263 1103Z" fill="#000" fill-opacity="0.95"/><path d="M1254.8 1104L1263 1099.7L1271.2 1104L1263 1108.3Z" fill="#000" fill-opacity="0.95"/><path d="M1254.8 1115.7L1263 1111.4L1271.2 1115.7L1263 1120Z" fill="#000" fill-opacity="0.95"/><path d="M1254.8 1138L1263 1133.7L1271.2 1138L1263 1142.3Z" fill="#000" fill-opacity="0.95"/><path d="M1254.8 1168.2L1263 1163.9L1271.2 1168.2L1263 1172.5Z" fill="#000" fill-opacity="0.95"/><path d="M1254.8 1184.5L1263 1180.2L1271.2 1184.5L1263 1188.8Z" fill="#000" fill-opacity="0.95"/><path d="M1254.8 1186.7L1263 1182.4L1271.2 1186.7L1263 1191Z" fill="#000" fill-opacity="0.95"/><path d="M1254.8 1193.6L1263 1189.3L1271.2 1193.6L1263 1197.9Z" fill="#000" fill-opacity="0.95"/><path d="M1254.8 1225L1263 1220.7L1271.2 1225L1263 1229.3Z" fill="#000" fill-opacity="0.95"/><path d="M1254.8 1258.2L1263 1253.9L1271.2 1258.2L1263 1262.5Z" fill="#000" fill-opacity="0.95"/><path d="M1254.8 1266.7L1263 1262.4L1271.2 1266.7L1263 1271Z" fill="#000" fill-opacity="0.95"/><path d="M1254.8 1034.5L1263 1030.2L1271.2 1034.5L1263 1038.8Z" fill="#000" fill-opacity="0.5"/><path d="M1254.8 1039.3L1263 1035L1271.2 1039.3L1263 1043.6Z" fill="#000" fill-opacity="0.5"/><path d="M1254.8 1046.7L1263 1042.4L1271.2 1046.7L1263 1051Z" fill="#000" fill-opacity="0.5"/><path d="M1254.8 1055.8L1263 1051.5L1271.2 1055.8L1263 1060.1Z" fill="#000" fill-opacity="0.5"/><path d="M1254.8 1071.7L1263 1067.4L1271.2 1071.7L1263 1076Z" fill="#000" fill-opacity="0.5"/><path d="M1254.8 1080.7L1263 1076.4L1271.2 1080.7L1263 1085Z" fill="#000" fill-opacity="0.5"/><path d="M1254.8 1085.4L1263 1081.1L1271.2 1085.4L1263 1089.7Z" fill="#000" fill-opacity="0.5"/><path d="M1254.8 1131.6L1263 1127.3L1271.2 1131.6L1263 1135.9Z" fill="#000" fill-opacity="0.5"/><path d="M1254.8 1141.6L1263 1137.3L1271.2 1141.6L1263 1145.9Z" fill="#000" fill-opacity="0.5"/><path d="M1254.8 1175L1263 1170.7L1271.2 1175L1263 1179.3Z" fill="#000" fill-opacity="0.5"/><path d="M1254.8 1175.5L1263 1171.2L1271.2 1175.5L1263 1179.8Z" fill="#000" fill-opacity="0.5"/><path d="M1254.8 1198.9L1263 1194.6L1271.2 1198.9L1263 1203.2Z" fill="#000" fill-opacity="0.5"/><path d="M1254.8 1201L1263 1196.7L1271.2 1201L1263 1205.3Z" fill="#000" fill-opacity="0.5"/><path d="M1254.8 1205.8L1263 1201.5L1271.2 1205.8L1263 1210.1Z" fill="#000" fill-opacity="0.5"/><path d="M1254.8 1210.5L1263 1206.2L1271.2 1210.5L1263 1214.8Z" fill="#000" fill-opacity="0.5"/><path d="M1254.8 1217.4L1263 1213.1L1271.2 1217.4L1263 1221.7Z" fill="#000" fill-opacity="0.5"/><path d="M1254.8 1223.8L1263 1219.5L1271.2 1223.8L1263 1228.1Z" fill="#000" fill-opacity="0.5"/><path d="M1254.8 1226.4L1263 1222.1L1271.2 1226.4L1263 1230.7Z" fill="#000" fill-opacity="0.5"/><path d="M1254.8 1237L1263 1232.7L1271.2 1237L1263 1241.3Z" fill="#000" fill-opacity="0.5"/><path d="M1254.8 1250.5L1263 1246.2L1271.2 1250.5L1263 1254.8Z" fill="#000" fill-opacity="0.5"/><path d="M1254.8 1281L1263 1276.7L1271.2 1281L1263 1285.3Z" fill="#000" fill-opacity="0.5"/><path d="M1254.8 1285.8L1263 1281.5L1271.2 1285.8L1263 1290.1Z" fill="#000" fill-opacity="0.5"/><path d="M1254.8 1292.7L1263 1288.4L1271.2 1292.7L1263 1297Z" fill="#000" fill-opacity="0.5"/><path d="M1254.8 1320.8L1263 1316.5L1271.2 1320.8L1263 1325.1Z" fill="#000" fill-opacity="0.5"/><path d="M1254.8 1324.5L1263 1320.2L1271.2 1324.5L1263 1328.8Z" fill="#000" fill-opacity="0.5"/><path d="M1254.8 1047.4L1263 1043.1L1271.2 1047.4L1263 1051.7Z" fill="#000" fill-opacity="0.6"/><path d="M1254.8 1055.7L1263 1051.4L1271.2 1055.7L1263 1060Z" fill="#000" fill-opacity="0.6"/><path d="M1254.8 1080.4L1263 1076.1L1271.2 1080.4L1263 1084.7Z" fill="#000" fill-opacity="0.6"/><path d="M1254.8 1081.2L1263 1076.9L1271.2 1081.2L1263 1085.5Z" fill="#000" fill-opacity="0.6"/><path d="M1254.8 1082.1L1263 1077.8L1271.2 1082.1L1263 1086.4Z" fill="#000" fill-opacity="0.6"/><path d="M1254.8 1085.5L1263 1081.2L1271.2 1085.5L1263 1089.8Z" fill="#000" fill-opacity="0.6"/><path d="M1254.8 1098.5L1263 1094.2L1271.2 1098.5L1263 1102.8Z" fill="#000" fill-opacity="0.6"/><path d="M1254.8 1099.1L1263 1094.8L1271.2 1099.1L1263 1103.4Z" fill="#000" fill-opacity="0.6"/><path d="M1254.8 1102.1L1263 1097.8L1271.2 1102.1L1263 1106.4Z" fill="#000" fill-opacity="0.6"/><path d="M1254.8 1103.3L1263 1099L1271.2 1103.3L1263 1107.6Z" fill="#000" fill-opacity="0.6"/><path d="M1254.8 1105.4L1263 1101.1L1271.2 1105.4L1263 1109.7Z" fill="#000" fill-opacity="0.6"/><path d="M1254.8 1115.3L1263 1111L1271.2 1115.3L1263 1119.6Z" fill="#000" fill-opacity="0.6"/><path d="M1254.8 1116L1263 1111.7L1271.2 1116L1263 1120.3Z" fill="#000" fill-opacity="0.6"/><path d="M1254.8 1198.5L1263 1194.2L1271.2 1198.5L1263 1202.8Z" fill="#000" fill-opacity="0.6"/><path d="M1254.8 1250.5L1263 1246.2L1271.2 1250.5L1263 1254.8Z" fill="#000" fill-opacity="0.6"/><path d="M1254.8 1250.7L1263 1246.4L1271.2 1250.7L1263 1255Z" fill="#000" fill-opacity="0.6"/><path d="M1254.8 1280.4L1263 1276.1L1271.2 1280.4L1263 1284.7Z" fill="#000" fill-opacity="0.6"/><path d="M1255 1035.3L1263 1030.8L1271 1035.3L1263 1039.8ZM1255 1323.2L1263 1318.7L1271 1323.2L1263 1327.7Z" fill="#000" fill-opacity="0.42"/></g>
<g><text x="49.8" y="1423.1" font-size="34.7" fill="#000">LG-7</text><line x1="52.6" y1="1440.2" x2="52.6" y2="1830.8" stroke="#8c8c8c" stroke-width="1.6"/><line x1="47.1" y1="1487" x2="52.6" y2="1487" stroke="#8c8c8c" stroke-width="1.6"/><text transform="translate(43.7,1493.2) scale(1.06,1)" font-size="16.4" fill="#8a8a8a" stroke="#8a8a8a" stroke-width="0.3" text-anchor="end">0</text><line x1="47.1" y1="1542.5" x2="52.6" y2="1542.5" stroke="#8c8c8c" stroke-width="1.6"/><text transform="translate(43.7,1548.7) scale(1.06,1)" font-size="16.4" fill="#8a8a8a" stroke="#8a8a8a" stroke-width="0.3" text-anchor="end">20</text><line x1="47.1" y1="1597.9" x2="52.6" y2="1597.9" stroke="#8c8c8c" stroke-width="1.6"/><text transform="translate(43.7,1604.1) scale(1.06,1)" font-size="16.4" fill="#8a8a8a" stroke="#8a8a8a" stroke-width="0.3" text-anchor="end">40</text><line x1="47.1" y1="1653.3" x2="52.6" y2="1653.3" stroke="#8c8c8c" stroke-width="1.6"/><text transform="translate(43.7,1659.5) scale(1.06,1)" font-size="16.4" fill="#8a8a8a" stroke="#8a8a8a" stroke-width="0.3" text-anchor="end">60</text><line x1="47.1" y1="1708.8" x2="52.6" y2="1708.8" stroke="#8c8c8c" stroke-width="1.6"/><text transform="translate(43.7,1715) scale(1.06,1)" font-size="16.4" fill="#8a8a8a" stroke="#8a8a8a" stroke-width="0.3" text-anchor="end">80</text><line x1="47.1" y1="1764.2" x2="52.6" y2="1764.2" stroke="#8c8c8c" stroke-width="1.6"/><text transform="translate(43.7,1770.5) scale(1.06,1)" font-size="16.4" fill="#8a8a8a" stroke="#8a8a8a" stroke-width="0.3" text-anchor="end">100</text><line x1="47.1" y1="1819.7" x2="52.6" y2="1819.7" stroke="#8c8c8c" stroke-width="1.6"/><text transform="translate(43.7,1825.9) scale(1.06,1)" font-size="16.4" fill="#8a8a8a" stroke="#8a8a8a" stroke-width="0.3" text-anchor="end">120</text><text transform="translate(12.8,1634) rotate(-90) scale(1.115,1)" font-size="15.5" fill="#8a8a8a" stroke="#8a8a8a" stroke-width="0.2" text-anchor="middle">Position</text><text x="212" y="1461.5" font-size="12.5" fill="#333" text-anchor="middle" textLength="127.5" lengthAdjust="spacingAndGlyphs">dcs9Xrg1139Map.csv</text><text x="529" y="1461.5" font-size="12.5" fill="#333" text-anchor="middle" textLength="111.5" lengthAdjust="spacingAndGlyphs">jc12X48-1Map.csv</text><line x1="212" y1="1497.8" x2="529" y2="1488.8" stroke="#108510" stroke-width="1.9" stroke-opacity="0.82"/><line x1="212" y1="1498.8" x2="529" y2="1489.4" stroke="#108510" stroke-width="1.9" stroke-opacity="0.82"/><line x1="212" y1="1504.3" x2="529" y2="1497.4" stroke="#108510" stroke-width="1.9" stroke-opacity="0.82"/><line x1="212" y1="1527" x2="529" y2="1501.4" stroke="#108510" stroke-width="1.9" stroke-opacity="0.82"/><line x1="212" y1="1540.3" x2="529" y2="1529.5" stroke="#108510" stroke-width="1.9" stroke-opacity="0.82"/><line x1="212" y1="1540.9" x2="529" y2="1530" stroke="#108510" stroke-width="1.9" stroke-opacity="0.82"/><line x1="212" y1="1560" x2="529" y2="1549.7" stroke="#108510" stroke-width="1.9" stroke-opacity="0.82"/><line x1="212" y1="1560.6" x2="529" y2="1550.3" stroke="#108510" stroke-width="1.9" stroke-opacity="0.82"/><line x1="212" y1="1572.7" x2="529" y2="1568.1" stroke="#108510" stroke-width="1.9" stroke-opacity="0.82"/><line x1="212" y1="1573.3" x2="529" y2="1568.7" stroke="#108510" stroke-width="1.9" stroke-opacity="0.82"/><line x1="212" y1="1596.5" x2="529" y2="1590.9" stroke="#108510" stroke-width="1.9" stroke-opacity="0.82"/><line x1="212" y1="1610.6" x2="529" y2="1602.3" stroke="#108510" stroke-width="1.9" stroke-opacity="0.82"/><line x1="212" y1="1615.6" x2="529" y2="1614" stroke="#108510" stroke-width="1.9" stroke-opacity="0.82"/><line x1="212" y1="1618.8" x2="529" y2="1616.9" stroke="#108510" stroke-width="1.9" stroke-opacity="0.82"/><line x1="212" y1="1636.3" x2="529" y2="1645.6" stroke="#108510" stroke-width="1.9" stroke-opacity="0.82"/><line x1="212" y1="1645.7" x2="529" y2="1666.3" stroke="#108510" stroke-width="1.9" stroke-opacity="0.82"/><line x1="212" y1="1646.3" x2="529" y2="1666.9" stroke="#108510" stroke-width="1.9" stroke-opacity="0.82"/><line x1="212" y1="1651.8" x2="529" y2="1688.9" stroke="#108510" stroke-width="1.9" stroke-opacity="0.82"/><line x1="212" y1="1657.6" x2="529" y2="1695.4" stroke="#108510" stroke-width="1.9" stroke-opacity="0.82"/><line x1="212" y1="1658.1" x2="529" y2="1695.9" stroke="#108510" stroke-width="1.9" stroke-opacity="0.82"/><line x1="212" y1="1659.4" x2="529" y2="1708.6" stroke="#108510" stroke-width="1.9" stroke-opacity="0.82"/><line x1="212" y1="1662.5" x2="529" y2="1713.1" stroke="#108510" stroke-width="1.9" stroke-opacity="0.82"/><line x1="212" y1="1718.4" x2="529" y2="1751.4" stroke="#108510" stroke-width="1.9" stroke-opacity="0.82"/><line x1="212" y1="1727.7" x2="529" y2="1757" stroke="#108510" stroke-width="1.9" stroke-opacity="0.82"/><line x1="212" y1="1728.3" x2="529" y2="1757.9" stroke="#108510" stroke-width="1.9" stroke-opacity="0.82"/><line x1="212" y1="1728.9" x2="529" y2="1758.7" stroke="#108510" stroke-width="1.9" stroke-opacity="0.82"/><line x1="212" y1="1729.5" x2="529" y2="1759.6" stroke="#108510" stroke-width="1.9" stroke-opacity="0.82"/><line x1="212" y1="1734.1" x2="529" y2="1767.1" stroke="#108510" stroke-width="1.9" stroke-opacity="0.82"/><line x1="212" y1="1741.8" x2="529" y2="1779.7" stroke="#108510" stroke-width="1.9" stroke-opacity="0.82"/><line x1="212" y1="1517.9" x2="529" y2="1511" stroke="#6e6e6e" stroke-width="1.9" stroke-opacity="0.82"/><line x1="212" y1="1633.6" x2="529" y2="1646.5" stroke="#6e6e6e" stroke-width="1.9" stroke-opacity="0.82"/><line x1="212" y1="1647.1" x2="529" y2="1663.6" stroke="#6e6e6e" stroke-width="1.9" stroke-opacity="0.82"/><line x1="212" y1="1655.6" x2="529" y2="1699.8" stroke="#6e6e6e" stroke-width="1.9" stroke-opacity="0.82"/><line x1="212" y1="1723.1" x2="529" y2="1756.6" stroke="#6e6e6e" stroke-width="1.9" stroke-opacity="0.82"/><rect x="208.4" y="1487" width="7.2" height="291.5" fill="#000"/><path d="M203.8 1487.5L212 1483.2L220.2 1487.5L212 1491.8Z" fill="#000" fill-opacity="0.95"/><path d="M203.8 1495.7L212 1491.4L220.2 1495.7L212 1500Z" fill="#000" fill-opacity="0.95"/><path d="M203.8 1532.5L212 1528.2L220.2 1532.5L212 1536.8Z" fill="#000" fill-opacity="0.95"/><path d="M203.8 1536L212 1531.7L220.2 1536L212 1540.3Z" fill="#000" fill-opacity="0.95"/><path d="M203.8 1540.6L212 1536.3L220.2 1540.6L212 1544.9Z" fill="#000" fill-opacity="0.95"/><path d="M203.8 1555.6L212 1551.3L220.2 1555.6L212 1559.9Z" fill="#000" fill-opacity="0.95"/><path d="M203.8 1566L212 1561.7L220.2 1566L212 1570.3Z" fill="#000" fill-opacity="0.95"/><path d="M203.8 1596.5L212 1592.2L220.2 1596.5L212 1600.8Z" fill="#000" fill-opacity="0.95"/><path d="M203.8 1618.3L212 1614L220.2 1618.3L212 1622.6Z" fill="#000" fill-opacity="0.95"/><path d="M203.8 1646.9L212 1642.6L220.2 1646.9L212 1651.2Z" fill="#000" fill-opacity="0.95"/><path d="M203.8 1689L212 1684.7L220.2 1689L212 1693.3Z" fill="#000" fill-opacity="0.95"/><path d="M203.8 1692L212 1687.7L220.2 1692L212 1696.3Z" fill="#000" fill-opacity="0.95"/><path d="M203.8 1695L212 1690.7L220.2 1695L212 1699.3Z" fill="#000" fill-opacity="0.95"/><path d="M203.8 1698.6L212 1694.3L220.2 1698.6L212 1702.9Z" fill="#000" fill-opacity="0.95"/><path d="M203.8 1708.1L212 1703.8L220.2 1708.1L212 1712.4Z" fill="#000" fill-opacity="0.95"/><path d="M203.8 1723.1L212 1718.8L220.2 1723.1L212 1727.4Z" fill="#000" fill-opacity="0.95"/><path d="M203.8 1725L212 1720.7L220.2 1725L212 1729.3Z" fill="#000" fill-opacity="0.95"/><path d="M203.8 1727.2L212 1722.9L220.2 1727.2L212 1731.5Z" fill="#000" fill-opacity="0.95"/><path d="M203.8 1510.7L212 1506.4L220.2 1510.7L212 1515Z" fill="#000" fill-opacity="0.5"/><path d="M203.8 1521.6L212 1517.3L220.2 1521.6L212 1525.9Z" fill="#000" fill-opacity="0.5"/><path d="M203.8 1562.4L212 1558.1L220.2 1562.4L212 1566.7Z" fill="#000" fill-opacity="0.5"/><path d="M203.8 1570.6L212 1566.3L220.2 1570.6L212 1574.9Z" fill="#000" fill-opacity="0.5"/><path d="M203.8 1580L212 1575.7L220.2 1580L212 1584.3Z" fill="#000" fill-opacity="0.5"/><path d="M203.8 1588L212 1583.7L220.2 1588L212 1592.3Z" fill="#000" fill-opacity="0.5"/><path d="M203.8 1606L212 1601.7L220.2 1606L212 1610.3Z" fill="#000" fill-opacity="0.5"/><path d="M203.8 1625L212 1620.7L220.2 1625L212 1629.3Z" fill="#000" fill-opacity="0.5"/><path d="M203.8 1634.6L212 1630.3L220.2 1634.6L212 1638.9Z" fill="#000" fill-opacity="0.5"/><path d="M203.8 1638.7L212 1634.4L220.2 1638.7L212 1643Z" fill="#000" fill-opacity="0.5"/><path d="M203.8 1655L212 1650.7L220.2 1655L212 1659.3Z" fill="#000" fill-opacity="0.5"/><path d="M203.8 1658L212 1653.7L220.2 1658L212 1662.3Z" fill="#000" fill-opacity="0.5"/><path d="M203.8 1661.9L212 1657.6L220.2 1661.9L212 1666.2Z" fill="#000" fill-opacity="0.5"/><path d="M203.8 1668L212 1663.7L220.2 1668L212 1672.3Z" fill="#000" fill-opacity="0.5"/><path d="M203.8 1675L212 1670.7L220.2 1675L212 1679.3Z" fill="#000" fill-opacity="0.5"/><path d="M203.8 1682L212 1677.7L220.2 1682L212 1686.3Z" fill="#000" fill-opacity="0.5"/><path d="M203.8 1715L212 1710.7L220.2 1715L212 1719.3Z" fill="#000" fill-opacity="0.5"/><path d="M203.8 1736.8L212 1732.5L220.2 1736.8L212 1741.1Z" fill="#000" fill-opacity="0.5"/><path d="M203.8 1745L212 1740.7L220.2 1745L212 1749.3Z" fill="#000" fill-opacity="0.5"/><path d="M203.8 1752L212 1747.7L220.2 1752L212 1756.3Z" fill="#000" fill-opacity="0.5"/><path d="M203.8 1760L212 1755.7L220.2 1760L212 1764.3Z" fill="#000" fill-opacity="0.5"/><path d="M203.8 1497.8L212 1493.5L220.2 1497.8L212 1502.1Z" fill="#000" fill-opacity="0.6"/><path d="M203.8 1498.8L212 1494.5L220.2 1498.8L212 1503.1Z" fill="#000" fill-opacity="0.6"/><path d="M203.8 1504.3L212 1500L220.2 1504.3L212 1508.6Z" fill="#000" fill-opacity="0.6"/><path d="M203.8 1517.9L212 1513.6L220.2 1517.9L212 1522.2Z" fill="#000" fill-opacity="0.6"/><path d="M203.8 1527L212 1522.7L220.2 1527L212 1531.3Z" fill="#000" fill-opacity="0.6"/><path d="M203.8 1540.3L212 1536L220.2 1540.3L212 1544.6Z" fill="#000" fill-opacity="0.6"/><path d="M203.8 1540.9L212 1536.6L220.2 1540.9L212 1545.2Z" fill="#000" fill-opacity="0.6"/><path d="M203.8 1560L212 1555.7L220.2 1560L212 1564.3Z" fill="#000" fill-opacity="0.6"/><path d="M203.8 1560.6L212 1556.3L220.2 1560.6L212 1564.9Z" fill="#000" fill-opacity="0.6"/><path d="M203.8 1572.7L212 1568.4L220.2 1572.7L212 1577Z" fill="#000" fill-opacity="0.6"/><path d="M203.8 1573.3L212 1569L220.2 1573.3L212 1577.6Z" fill="#000" fill-opacity="0.6"/><path d="M203.8 1596.5L212 1592.2L220.2 1596.5L212 1600.8Z" fill="#000" fill-opacity="0.6"/><path d="M203.8 1610.6L212 1606.3L220.2 1610.6L212 1614.9Z" fill="#000" fill-opacity="0.6"/><path d="M203.8 1615.6L212 1611.3L220.2 1615.6L212 1619.9Z" fill="#000" fill-opacity="0.6"/><path d="M203.8 1618.8L212 1614.5L220.2 1618.8L212 1623.1Z" fill="#000" fill-opacity="0.6"/><path d="M203.8 1633.6L212 1629.3L220.2 1633.6L212 1637.9Z" fill="#000" fill-opacity="0.6"/><path d="M203.8 1636.3L212 1632L220.2 1636.3L212 1640.6Z" fill="#000" fill-opacity="0.6"/><path d="M203.8 1645.7L212 1641.4L220.2 1645.7L212 1650Z" fill="#000" fill-opacity="0.6"/><path d="M203.8 1646.3L212 1642L220.2 1646.3L212 1650.6Z" fill="#000" fill-opacity="0.6"/><path d="M203.8 1647.1L212 1642.8L220.2 1647.1L212 1651.4Z" fill="#000" fill-opacity="0.6"/><path d="M203.8 1651.8L212 1647.5L220.2 1651.8L212 1656.1Z" fill="#000" fill-opacity="0.6"/><path d="M203.8 1655.6L212 1651.3L220.2 1655.6L212 1659.9Z" fill="#000" fill-opacity="0.6"/><path d="M203.8 1657.6L212 1653.3L220.2 1657.6L212 1661.9Z" fill="#000" fill-opacity="0.6"/><path d="M203.8 1658.1L212 1653.8L220.2 1658.1L212 1662.4Z" fill="#000" fill-opacity="0.6"/><path d="M203.8 1659.4L212 1655.1L220.2 1659.4L212 1663.7Z" fill="#000" fill-opacity="0.6"/><path d="M203.8 1662.5L212 1658.2L220.2 1662.5L212 1666.8Z" fill="#000" fill-opacity="0.6"/><path d="M203.8 1718.4L212 1714.1L220.2 1718.4L212 1722.7Z" fill="#000" fill-opacity="0.6"/><path d="M203.8 1723.1L212 1718.8L220.2 1723.1L212 1727.4Z" fill="#000" fill-opacity="0.6"/><path d="M203.8 1727.7L212 1723.4L220.2 1727.7L212 1732Z" fill="#000" fill-opacity="0.6"/><path d="M203.8 1728.3L212 1724L220.2 1728.3L212 1732.6Z" fill="#000" fill-opacity="0.6"/><path d="M203.8 1728.9L212 1724.6L220.2 1728.9L212 1733.2Z" fill="#000" fill-opacity="0.6"/><path d="M203.8 1729.5L212 1725.2L220.2 1729.5L212 1733.8Z" fill="#000" fill-opacity="0.6"/><path d="M203.8 1734.1L212 1729.8L220.2 1734.1L212 1738.4Z" fill="#000" fill-opacity="0.6"/><path d="M203.8 1741.8L212 1737.5L220.2 1741.8L212 1746.1Z" fill="#000" fill-opacity="0.6"/><path d="M204 1487L212 1482.5L220 1487L212 1491.5ZM204 1778.5L212 1774L220 1778.5L212 1783Z" fill="#000" fill-opacity="0.42"/><rect x="525.4" y="1487.3" width="7.2" height="291.4" fill="#000"/><path d="M520.8 1486.5L529 1482.2L537.2 1486.5L529 1490.8Z" fill="#000" fill-opacity="0.95"/><path d="M520.8 1497.6L529 1493.3L537.2 1497.6L529 1501.9Z" fill="#000" fill-opacity="0.95"/><path d="M520.8 1506.1L529 1501.8L537.2 1506.1L529 1510.4Z" fill="#000" fill-opacity="0.95"/><path d="M520.8 1529.4L529 1525.1L537.2 1529.4L529 1533.7Z" fill="#000" fill-opacity="0.95"/><path d="M520.8 1549.6L529 1545.3L537.2 1549.6L529 1553.9Z" fill="#000" fill-opacity="0.95"/><path d="M520.8 1552.8L529 1548.5L537.2 1552.8L529 1557.1Z" fill="#000" fill-opacity="0.95"/><path d="M520.8 1560.2L529 1555.9L537.2 1560.2L529 1564.5Z" fill="#000" fill-opacity="0.95"/><path d="M520.8 1568.1L529 1563.8L537.2 1568.1L529 1572.4Z" fill="#000" fill-opacity="0.95"/><path d="M520.8 1591.5L529 1587.2L537.2 1591.5L529 1595.8Z" fill="#000" fill-opacity="0.95"/><path d="M520.8 1597.3L529 1593L537.2 1597.3L529 1601.6Z" fill="#000" fill-opacity="0.95"/><path d="M520.8 1616.9L529 1612.6L537.2 1616.9L529 1621.2Z" fill="#000" fill-opacity="0.95"/><path d="M520.8 1638.1L529 1633.8L537.2 1638.1L529 1642.4Z" fill="#000" fill-opacity="0.95"/><path d="M520.8 1639L529 1634.7L537.2 1639L529 1643.3Z" fill="#000" fill-opacity="0.95"/><path d="M520.8 1655.5L529 1651.2L537.2 1655.5L529 1659.8Z" fill="#000" fill-opacity="0.95"/><path d="M520.8 1659.7L529 1655.4L537.2 1659.7L529 1664Z" fill="#000" fill-opacity="0.95"/><path d="M520.8 1668L529 1663.7L537.2 1668L529 1672.3Z" fill="#000" fill-opacity="0.95"/><path d="M520.8 1672L529 1667.7L537.2 1672L529 1676.3Z" fill="#000" fill-opacity="0.95"/><path d="M520.8 1696.3L529 1692L537.2 1696.3L529 1700.6Z" fill="#000" fill-opacity="0.95"/><path d="M520.8 1700L529 1695.7L537.2 1700L529 1704.3Z" fill="#000" fill-opacity="0.95"/><path d="M520.8 1757.3L529 1753L537.2 1757.3L529 1761.6Z" fill="#000" fill-opacity="0.95"/><path d="M520.8 1759.5L529 1755.2L537.2 1759.5L529 1763.8Z" fill="#000" fill-opacity="0.95"/><path d="M520.8 1761.5L529 1757.2L537.2 1761.5L529 1765.8Z" fill="#000" fill-opacity="0.95"/><path d="M520.8 1779.5L529 1775.2L537.2 1779.5L529 1783.8Z" fill="#000" fill-opacity="0.95"/><path d="M520.8 1490.7L529 1486.4L537.2 1490.7L529 1495Z" fill="#000" fill-opacity="0.5"/><path d="M520.8 1501.9L529 1497.6L537.2 1501.9L529 1506.2Z" fill="#000" fill-opacity="0.5"/><path d="M520.8 1509.8L529 1505.5L537.2 1509.8L529 1514.1Z" fill="#000" fill-opacity="0.5"/><path d="M520.8 1513L529 1508.7L537.2 1513L529 1517.3Z" fill="#000" fill-opacity="0.5"/><path d="M520.8 1517L529 1512.7L537.2 1517L529 1521.3Z" fill="#000" fill-opacity="0.5"/><path d="M520.8 1521L529 1516.7L537.2 1521L529 1525.3Z" fill="#000" fill-opacity="0.5"/><path d="M520.8 1525L529 1520.7L537.2 1525L529 1529.3Z" fill="#000" fill-opacity="0.5"/><path d="M520.8 1539L529 1534.7L537.2 1539L529 1543.3Z" fill="#000" fill-opacity="0.5"/><path d="M520.8 1544.8L529 1540.5L537.2 1544.8L529 1549.1Z" fill="#000" fill-opacity="0.5"/><path d="M520.8 1603.1L529 1598.8L537.2 1603.1L529 1607.4Z" fill="#000" fill-opacity="0.5"/><path d="M520.8 1613.2L529 1608.9L537.2 1613.2L529 1617.5Z" fill="#000" fill-opacity="0.5"/><path d="M520.8 1645.9L529 1641.6L537.2 1645.9L529 1650.2Z" fill="#000" fill-opacity="0.5"/><path d="M520.8 1651.2L529 1646.9L537.2 1651.2L529 1655.5Z" fill="#000" fill-opacity="0.5"/><path d="M520.8 1664L529 1659.7L537.2 1664L529 1668.3Z" fill="#000" fill-opacity="0.5"/><path d="M520.8 1674L529 1669.7L537.2 1674L529 1678.3Z" fill="#000" fill-opacity="0.5"/><path d="M520.8 1680.9L529 1676.6L537.2 1680.9L529 1685.2Z" fill="#000" fill-opacity="0.5"/><path d="M520.8 1688.9L529 1684.6L537.2 1688.9L529 1693.2Z" fill="#000" fill-opacity="0.5"/><path d="M520.8 1708.5L529 1704.2L537.2 1708.5L529 1712.8Z" fill="#000" fill-opacity="0.5"/><path d="M520.8 1712.7L529 1708.4L537.2 1712.7L529 1717Z" fill="#000" fill-opacity="0.5"/><path d="M520.8 1741.9L529 1737.6L537.2 1741.9L529 1746.2Z" fill="#000" fill-opacity="0.5"/><path d="M520.8 1746.1L529 1741.8L537.2 1746.1L529 1750.4Z" fill="#000" fill-opacity="0.5"/><path d="M520.8 1751.4L529 1747.1L537.2 1751.4L529 1755.7Z" fill="#000" fill-opacity="0.5"/><path d="M520.8 1767.3L529 1763L537.2 1767.3L529 1771.6Z" fill="#000" fill-opacity="0.5"/><path d="M520.8 1771.6L529 1767.3L537.2 1771.6L529 1775.9Z" fill="#000" fill-opacity="0.5"/><path d="M520.8 1488.8L529 1484.5L537.2 1488.8L529 1493.1Z" fill="#000" fill-opacity="0.6"/><path d="M520.8 1489.4L529 1485.1L537.2 1489.4L529 1493.7Z" fill="#000" fill-opacity="0.6"/><path d="M520.8 1497.4L529 1493.1L537.2 1497.4L529 1501.7Z" fill="#000" fill-opacity="0.6"/><path d="M520.8 1501.4L529 1497.1L537.2 1501.4L529 1505.7Z" fill="#000" fill-opacity="0.6"/><path d="M520.8 1511L529 1506.7L537.2 1511L529 1515.3Z" fill="#000" fill-opacity="0.6"/><path d="M520.8 1529.5L529 1525.2L537.2 1529.5L529 1533.8Z" fill="#000" fill-opacity="0.6"/><path d="M520.8 1530L529 1525.7L537.2 1530L529 1534.3Z" fill="#000" fill-opacity="0.6"/><path d="M520.8 1549.7L529 1545.4L537.2 1549.7L529 1554Z" fill="#000" fill-opacity="0.6"/><path d="M520.8 1550.3L529 1546L537.2 1550.3L529 1554.6Z" fill="#000" fill-opacity="0.6"/><path d="M520.8 1568.1L529 1563.8L537.2 1568.1L529 1572.4Z" fill="#000" fill-opacity="0.6"/><path d="M520.8 1568.7L529 1564.4L537.2 1568.7L529 1573Z" fill="#000" fill-opacity="0.6"/><path d="M520.8 1590.9L529 1586.6L537.2 1590.9L529 1595.2Z" fill="#000" fill-opacity="0.6"/><path d="M520.8 1602.3L529 1598L537.2 1602.3L529 1606.6Z" fill="#000" fill-opacity="0.6"/><path d="M520.8 1614L529 1609.7L537.2 1614L529 1618.3Z" fill="#000" fill-opacity="0.6"/><path d="M520.8 1616.9L529 1612.6L537.2 1616.9L529 1621.2Z" fill="#000" fill-opacity="0.6"/><path d="M520.8 1645.6L529 1641.3L537.2 1645.6L529 1649.9Z" fill="#000" fill-opacity="0.6"/><path d="M520.8 1646.5L529 1642.2L537.2 1646.5L529 1650.8Z" fill="#000" fill-opacity="0.6"/><path d="M520.8 1663.6L529 1659.3L537.2 1663.6L529 1667.9Z" fill="#000" fill-opacity="0.6"/><path d="M520.8 1666.3L529 1662L537.2 1666.3L529 1670.6Z" fill="#000" fill-opacity="0.6"/><path d="M520.8 1666.9L529 1662.6L537.2 1666.9L529 1671.2Z" fill="#000" fill-opacity="0.6"/><path d="M520.8 1688.9L529 1684.6L537.2 1688.9L529 1693.2Z" fill="#000" fill-opacity="0.6"/><path d="M520.8 1695.4L529 1691.1L537.2 1695.4L529 1699.7Z" fill="#000" fill-opacity="0.6"/><path d="M520.8 1695.9L529 1691.6L537.2 1695.9L529 1700.2Z" fill="#000" fill-opacity="0.6"/><path d="M520.8 1699.8L529 1695.5L537.2 1699.8L529 1704.1Z" fill="#000" fill-opacity="0.6"/><path d="M520.8 1708.6L529 1704.3L537.2 1708.6L529 1712.9Z" fill="#000" fill-opacity="0.6"/><path d="M520.8 1713.1L529 1708.8L537.2 1713.1L529 1717.4Z" fill="#000" fill-opacity="0.6"/><path d="M520.8 1751.4L529 1747.1L537.2 1751.4L529 1755.7Z" fill="#000" fill-opacity="0.6"/><path d="M520.8 1756.6L529 1752.3L537.2 1756.6L529 1760.9Z" fill="#000" fill-opacity="0.6"/><path d="M520.8 1757L529 1752.7L537.2 1757L529 1761.3Z" fill="#000" fill-opacity="0.6"/><path d="M520.8 1757.9L529 1753.6L537.2 1757.9L529 1762.2Z" fill="#000" fill-opacity="0.6"/><path d="M520.8 1758.7L529 1754.4L537.2 1758.7L529 1763Z" fill="#000" fill-opacity="0.6"/><path d="M520.8 1759.6L529 1755.3L537.2 1759.6L529 1763.9Z" fill="#000" fill-opacity="0.6"/><path d="M520.8 1767.1L529 1762.8L537.2 1767.1L529 1771.4Z" fill="#000" fill-opacity="0.6"/><path d="M520.8 1779.7L529 1775.4L537.2 1779.7L529 1784Z" fill="#000" fill-opacity="0.6"/><path d="M521 1487.3L529 1482.8L537 1487.3L529 1491.8ZM521 1778.7L529 1774.2L537 1778.7L529 1783.2Z" fill="#000" fill-opacity="0.42"/></g>
<g><text x="783.5" y="1425.7" font-size="34.7" fill="#000">LG-8</text><line x1="785.9" y1="1439.2" x2="785.9" y2="1820.7" stroke="#8c8c8c" stroke-width="1.6"/><line x1="780.4" y1="1490.4" x2="785.9" y2="1490.4" stroke="#8c8c8c" stroke-width="1.6"/><text transform="translate(777.4,1496.6) scale(1.06,1)" font-size="16.4" fill="#8a8a8a" stroke="#8a8a8a" stroke-width="0.3" text-anchor="end">0</text><line x1="780.4" y1="1554.3" x2="785.9" y2="1554.3" stroke="#8c8c8c" stroke-width="1.6"/><text transform="translate(777.4,1560.5) scale(1.06,1)" font-size="16.4" fill="#8a8a8a" stroke="#8a8a8a" stroke-width="0.3" text-anchor="end">20</text><line x1="780.4" y1="1618.3" x2="785.9" y2="1618.3" stroke="#8c8c8c" stroke-width="1.6"/><text transform="translate(777.4,1624.5) scale(1.06,1)" font-size="16.4" fill="#8a8a8a" stroke="#8a8a8a" stroke-width="0.3" text-anchor="end">40</text><line x1="780.4" y1="1682.2" x2="785.9" y2="1682.2" stroke="#8c8c8c" stroke-width="1.6"/><text transform="translate(777.4,1688.4) scale(1.06,1)" font-size="16.4" fill="#8a8a8a" stroke="#8a8a8a" stroke-width="0.3" text-anchor="end">60</text><line x1="780.4" y1="1746.2" x2="785.9" y2="1746.2" stroke="#8c8c8c" stroke-width="1.6"/><text transform="translate(777.4,1752.4) scale(1.06,1)" font-size="16.4" fill="#8a8a8a" stroke="#8a8a8a" stroke-width="0.3" text-anchor="end">80</text><line x1="780.4" y1="1810.1" x2="785.9" y2="1810.1" stroke="#8c8c8c" stroke-width="1.6"/><text transform="translate(777.4,1816.3) scale(1.06,1)" font-size="16.4" fill="#8a8a8a" stroke="#8a8a8a" stroke-width="0.3" text-anchor="end">100</text><text transform="translate(746.3,1633) rotate(-90) scale(1.115,1)" font-size="15.5" fill="#8a8a8a" stroke="#8a8a8a" stroke-width="0.2" text-anchor="middle">Position</text><text x="945" y="1460" font-size="12.5" fill="#333" text-anchor="middle" textLength="127.5" lengthAdjust="spacingAndGlyphs">dcs9Xrg1139Map.csv</text><text x="1263.5" y="1460" font-size="12.5" fill="#333" text-anchor="middle" textLength="111.5" lengthAdjust="spacingAndGlyphs">jc12X48-1Map.csv</text><line x1="945" y1="1514.1" x2="1263.5" y2="1490.4" stroke="#108510" stroke-width="1.9" stroke-opacity="0.82"/><line x1="945" y1="1519.2" x2="1263.5" y2="1497.3" stroke="#108510" stroke-width="1.9" stroke-opacity="0.82"/><line x1="945" y1="1519.7" x2="1263.5" y2="1497.8" stroke="#108510" stroke-width="1.9" stroke-opacity="0.82"/><line x1="945" y1="1524.5" x2="1263.5" y2="1499" stroke="#108510" stroke-width="1.9" stroke-opacity="0.82"/><line x1="945" y1="1552.8" x2="1263.5" y2="1529.1" stroke="#108510" stroke-width="1.9" stroke-opacity="0.82"/><line x1="945" y1="1553.2" x2="1263.5" y2="1531.1" stroke="#108510" stroke-width="1.9" stroke-opacity="0.82"/><line x1="945" y1="1553.7" x2="1263.5" y2="1533.1" stroke="#108510" stroke-width="1.9" stroke-opacity="0.82"/><line x1="945" y1="1565.2" x2="1263.5" y2="1552.4" stroke="#108510" stroke-width="1.9" stroke-opacity="0.82"/><line x1="945" y1="1565.7" x2="1263.5" y2="1552.9" stroke="#108510" stroke-width="1.9" stroke-opacity="0.82"/><line x1="945" y1="1586.9" x2="1263.5" y2="1598.4" stroke="#108510" stroke-width="1.9" stroke-opacity="0.82"/><line x1="945" y1="1587.7" x2="1263.5" y2="1599.1" stroke="#108510" stroke-width="1.9" stroke-opacity="0.82"/><line x1="945" y1="1589.6" x2="1263.5" y2="1602.5" stroke="#108510" stroke-width="1.9" stroke-opacity="0.82"/><line x1="945" y1="1596.8" x2="1263.5" y2="1606.3" stroke="#108510" stroke-width="1.9" stroke-opacity="0.82"/><line x1="945" y1="1618.1" x2="1263.5" y2="1630" stroke="#108510" stroke-width="1.9" stroke-opacity="0.82"/><line x1="945" y1="1625.6" x2="1263.5" y2="1654.4" stroke="#108510" stroke-width="1.9" stroke-opacity="0.82"/><line x1="945" y1="1633.1" x2="1263.5" y2="1655" stroke="#108510" stroke-width="1.9" stroke-opacity="0.82"/><line x1="945" y1="1658.5" x2="1263.5" y2="1682.5" stroke="#108510" stroke-width="1.9" stroke-opacity="0.82"/><line x1="945" y1="1659.3" x2="1263.5" y2="1688.6" stroke="#108510" stroke-width="1.9" stroke-opacity="0.82"/><line x1="945" y1="1666.1" x2="1263.5" y2="1705.8" stroke="#108510" stroke-width="1.9" stroke-opacity="0.82"/><line x1="945" y1="1682.2" x2="1263.5" y2="1737" stroke="#108510" stroke-width="1.9" stroke-opacity="0.82"/><line x1="945" y1="1702.3" x2="1263.5" y2="1758.5" stroke="#108510" stroke-width="1.9" stroke-opacity="0.82"/><line x1="945" y1="1717.1" x2="1263.5" y2="1774.8" stroke="#108510" stroke-width="1.9" stroke-opacity="0.82"/><line x1="945" y1="1516.9" x2="1263.5" y2="1504.5" stroke="#6e6e6e" stroke-width="1.9" stroke-opacity="0.82"/><line x1="945" y1="1522.2" x2="1263.5" y2="1507" stroke="#6e6e6e" stroke-width="1.9" stroke-opacity="0.82"/><line x1="945" y1="1565.3" x2="1263.5" y2="1552.6" stroke="#6e6e6e" stroke-width="1.9" stroke-opacity="0.82"/><line x1="945" y1="1610" x2="1263.5" y2="1643" stroke="#6e6e6e" stroke-width="1.9" stroke-opacity="0.82"/><line x1="945" y1="1655.6" x2="1263.5" y2="1694.8" stroke="#6e6e6e" stroke-width="1.9" stroke-opacity="0.82"/><line x1="945" y1="1656.3" x2="1263.5" y2="1686" stroke="#6e6e6e" stroke-width="1.9" stroke-opacity="0.82"/><line x1="945" y1="1703" x2="1263.5" y2="1760.7" stroke="#6e6e6e" stroke-width="1.9" stroke-opacity="0.82"/><rect x="941.4" y="1490.9" width="7.2" height="235.6" fill="#000"/><path d="M936.8 1503.9L945 1499.6L953.2 1503.9L945 1508.2Z" fill="#000" fill-opacity="0.95"/><path d="M936.8 1513L945 1508.7L953.2 1513L945 1517.3Z" fill="#000" fill-opacity="0.95"/><path d="M936.8 1517L945 1512.7L953.2 1517L945 1521.3Z" fill="#000" fill-opacity="0.95"/><path d="M936.8 1521L945 1516.7L953.2 1521L945 1525.3Z" fill="#000" fill-opacity="0.95"/><path d="M936.8 1525L945 1520.7L953.2 1525L945 1529.3Z" fill="#000" fill-opacity="0.95"/><path d="M936.8 1529L945 1524.7L953.2 1529L945 1533.3Z" fill="#000" fill-opacity="0.95"/><path d="M936.8 1535.7L945 1531.4L953.2 1535.7L945 1540Z" fill="#000" fill-opacity="0.95"/><path d="M936.8 1552L945 1547.7L953.2 1552L945 1556.3Z" fill="#000" fill-opacity="0.95"/><path d="M936.8 1562.7L945 1558.4L953.2 1562.7L945 1567Z" fill="#000" fill-opacity="0.95"/><path d="M936.8 1565L945 1560.7L953.2 1565L945 1569.3Z" fill="#000" fill-opacity="0.95"/><path d="M936.8 1568L945 1563.7L953.2 1568L945 1572.3Z" fill="#000" fill-opacity="0.95"/><path d="M936.8 1587.6L945 1583.3L953.2 1587.6L945 1591.9Z" fill="#000" fill-opacity="0.95"/><path d="M936.8 1594L945 1589.7L953.2 1594L945 1598.3Z" fill="#000" fill-opacity="0.95"/><path d="M936.8 1646.7L945 1642.4L953.2 1646.7L945 1651Z" fill="#000" fill-opacity="0.95"/><path d="M936.8 1654.7L945 1650.4L953.2 1654.7L945 1659Z" fill="#000" fill-opacity="0.95"/><path d="M936.8 1657.9L945 1653.6L953.2 1657.9L945 1662.2Z" fill="#000" fill-opacity="0.95"/><path d="M936.8 1674.3L945 1670L953.2 1674.3L945 1678.6Z" fill="#000" fill-opacity="0.95"/><path d="M936.8 1676.7L945 1672.4L953.2 1676.7L945 1681Z" fill="#000" fill-opacity="0.95"/><path d="M936.8 1679.1L945 1674.8L953.2 1679.1L945 1683.4Z" fill="#000" fill-opacity="0.95"/><path d="M936.8 1705L945 1700.7L953.2 1705L945 1709.3Z" fill="#000" fill-opacity="0.95"/><path d="M936.8 1720L945 1715.7L953.2 1720L945 1724.3Z" fill="#000" fill-opacity="0.95"/><path d="M936.8 1724.7L945 1720.4L953.2 1724.7L945 1729Z" fill="#000" fill-opacity="0.95"/><path d="M936.8 1490.1L945 1485.8L953.2 1490.1L945 1494.4Z" fill="#000" fill-opacity="0.5"/><path d="M936.8 1499.1L945 1494.8L953.2 1499.1L945 1503.4Z" fill="#000" fill-opacity="0.5"/><path d="M936.8 1508.6L945 1504.3L953.2 1508.6L945 1512.9Z" fill="#000" fill-opacity="0.5"/><path d="M936.8 1511.8L945 1507.5L953.2 1511.8L945 1516.1Z" fill="#000" fill-opacity="0.5"/><path d="M936.8 1530.9L945 1526.6L953.2 1530.9L945 1535.2Z" fill="#000" fill-opacity="0.5"/><path d="M936.8 1538.9L945 1534.6L953.2 1538.9L945 1543.2Z" fill="#000" fill-opacity="0.5"/><path d="M936.8 1546.8L945 1542.5L953.2 1546.8L945 1551.1Z" fill="#000" fill-opacity="0.5"/><path d="M936.8 1549L945 1544.7L953.2 1549L945 1553.3Z" fill="#000" fill-opacity="0.5"/><path d="M936.8 1555L945 1550.7L953.2 1555L945 1559.3Z" fill="#000" fill-opacity="0.5"/><path d="M936.8 1558.5L945 1554.2L953.2 1558.5L945 1562.8Z" fill="#000" fill-opacity="0.5"/><path d="M936.8 1570.1L945 1565.8L953.2 1570.1L945 1574.4Z" fill="#000" fill-opacity="0.5"/><path d="M936.8 1577L945 1572.7L953.2 1577L945 1581.3Z" fill="#000" fill-opacity="0.5"/><path d="M936.8 1592.4L945 1588.1L953.2 1592.4L945 1596.7Z" fill="#000" fill-opacity="0.5"/><path d="M936.8 1595.6L945 1591.3L953.2 1595.6L945 1599.9Z" fill="#000" fill-opacity="0.5"/><path d="M936.8 1604.1L945 1599.8L953.2 1604.1L945 1608.4Z" fill="#000" fill-opacity="0.5"/><path d="M936.8 1610.4L945 1606.1L953.2 1610.4L945 1614.7Z" fill="#000" fill-opacity="0.5"/><path d="M936.8 1617.9L945 1613.6L953.2 1617.9L945 1622.2Z" fill="#000" fill-opacity="0.5"/><path d="M936.8 1625.3L945 1621L953.2 1625.3L945 1629.6Z" fill="#000" fill-opacity="0.5"/><path d="M936.8 1629.5L945 1625.2L953.2 1629.5L945 1633.8Z" fill="#000" fill-opacity="0.5"/><path d="M936.8 1633.2L945 1628.9L953.2 1633.2L945 1637.5Z" fill="#000" fill-opacity="0.5"/><path d="M936.8 1638L945 1633.7L953.2 1638L945 1642.3Z" fill="#000" fill-opacity="0.5"/><path d="M936.8 1642L945 1637.7L953.2 1642L945 1646.3Z" fill="#000" fill-opacity="0.5"/><path d="M936.8 1663.7L945 1659.4L953.2 1663.7L945 1668Z" fill="#000" fill-opacity="0.5"/><path d="M936.8 1670.6L945 1666.3L953.2 1670.6L945 1674.9Z" fill="#000" fill-opacity="0.5"/><path d="M936.8 1682.8L945 1678.5L953.2 1682.8L945 1687.1Z" fill="#000" fill-opacity="0.5"/><path d="M936.8 1688.6L945 1684.3L953.2 1688.6L945 1692.9Z" fill="#000" fill-opacity="0.5"/><path d="M936.8 1692.9L945 1688.6L953.2 1692.9L945 1697.2Z" fill="#000" fill-opacity="0.5"/><path d="M936.8 1698.2L945 1693.9L953.2 1698.2L945 1702.5Z" fill="#000" fill-opacity="0.5"/><path d="M936.8 1702.9L945 1698.6L953.2 1702.9L945 1707.2Z" fill="#000" fill-opacity="0.5"/><path d="M936.8 1707.2L945 1702.9L953.2 1707.2L945 1711.5Z" fill="#000" fill-opacity="0.5"/><path d="M936.8 1712L945 1707.7L953.2 1712L945 1716.3Z" fill="#000" fill-opacity="0.5"/><path d="M936.8 1717.3L945 1713L953.2 1717.3L945 1721.6Z" fill="#000" fill-opacity="0.5"/><path d="M936.8 1727.3L945 1723L953.2 1727.3L945 1731.6Z" fill="#000" fill-opacity="0.5"/><path d="M936.8 1514.1L945 1509.8L953.2 1514.1L945 1518.4Z" fill="#000" fill-opacity="0.6"/><path d="M936.8 1516.9L945 1512.6L953.2 1516.9L945 1521.2Z" fill="#000" fill-opacity="0.6"/><path d="M936.8 1519.2L945 1514.9L953.2 1519.2L945 1523.5Z" fill="#000" fill-opacity="0.6"/><path d="M936.8 1519.7L945 1515.4L953.2 1519.7L945 1524Z" fill="#000" fill-opacity="0.6"/><path d="M936.8 1522.2L945 1517.9L953.2 1522.2L945 1526.5Z" fill="#000" fill-opacity="0.6"/><path d="M936.8 1524.5L945 1520.2L953.2 1524.5L945 1528.8Z" fill="#000" fill-opacity="0.6"/><path d="M936.8 1552.8L945 1548.5L953.2 1552.8L945 1557.1Z" fill="#000" fill-opacity="0.6"/><path d="M936.8 1553.2L945 1548.9L953.2 1553.2L945 1557.5Z" fill="#000" fill-opacity="0.6"/><path d="M936.8 1553.7L945 1549.4L953.2 1553.7L945 1558Z" fill="#000" fill-opacity="0.6"/><path d="M936.8 1565.2L945 1560.9L953.2 1565.2L945 1569.5Z" fill="#000" fill-opacity="0.6"/><path d="M936.8 1565.3L945 1561L953.2 1565.3L945 1569.6Z" fill="#000" fill-opacity="0.6"/><path d="M936.8 1565.7L945 1561.4L953.2 1565.7L945 1570Z" fill="#000" fill-opacity="0.6"/><path d="M936.8 1586.9L945 1582.6L953.2 1586.9L945 1591.2Z" fill="#000" fill-opacity="0.6"/><path d="M936.8 1587.7L945 1583.4L953.2 1587.7L945 1592Z" fill="#000" fill-opacity="0.6"/><path d="M936.8 1589.6L945 1585.3L953.2 1589.6L945 1593.9Z" fill="#000" fill-opacity="0.6"/><path d="M936.8 1596.8L945 1592.5L953.2 1596.8L945 1601.1Z" fill="#000" fill-opacity="0.6"/><path d="M936.8 1610L945 1605.7L953.2 1610L945 1614.3Z" fill="#000" fill-opacity="0.6"/><path d="M936.8 1618.1L945 1613.8L953.2 1618.1L945 1622.4Z" fill="#000" fill-opacity="0.6"/><path d="M936.8 1625.6L945 1621.3L953.2 1625.6L945 1629.9Z" fill="#000" fill-opacity="0.6"/><path d="M936.8 1633.1L945 1628.8L953.2 1633.1L945 1637.4Z" fill="#000" fill-opacity="0.6"/><path d="M936.8 1655.6L945 1651.3L953.2 1655.6L945 1659.9Z" fill="#000" fill-opacity="0.6"/><path d="M936.8 1656.3L945 1652L953.2 1656.3L945 1660.6Z" fill="#000" fill-opacity="0.6"/><path d="M936.8 1658.5L945 1654.2L953.2 1658.5L945 1662.8Z" fill="#000" fill-opacity="0.6"/><path d="M936.8 1659.3L945 1655L953.2 1659.3L945 1663.6Z" fill="#000" fill-opacity="0.6"/><path d="M936.8 1666.1L945 1661.8L953.2 1666.1L945 1670.4Z" fill="#000" fill-opacity="0.6"/><path d="M936.8 1682.2L945 1677.9L953.2 1682.2L945 1686.5Z" fill="#000" fill-opacity="0.6"/><path d="M936.8 1702.3L945 1698L953.2 1702.3L945 1706.6Z" fill="#000" fill-opacity="0.6"/><path d="M936.8 1703L945 1698.7L953.2 1703L945 1707.3Z" fill="#000" fill-opacity="0.6"/><path d="M936.8 1717.1L945 1712.8L953.2 1717.1L945 1721.4Z" fill="#000" fill-opacity="0.6"/><path d="M937 1490.9L945 1486.4L953 1490.9L945 1495.4ZM937 1726.5L945 1722L953 1726.5L945 1731Z" fill="#000" fill-opacity="0.42"/><rect x="1259.9" y="1490.9" width="7.2" height="283.9" fill="#000"/><path d="M1255.3 1497.5L1263.5 1493.2L1271.7 1497.5L1263.5 1501.8Z" fill="#000" fill-opacity="0.95"/><path d="M1255.3 1499.6L1263.5 1495.3L1271.7 1499.6L1263.5 1503.9Z" fill="#000" fill-opacity="0.95"/><path d="M1255.3 1529.8L1263.5 1525.5L1271.7 1529.8L1263.5 1534.1Z" fill="#000" fill-opacity="0.95"/><path d="M1255.3 1531.5L1263.5 1527.2L1271.7 1531.5L1263.5 1535.8Z" fill="#000" fill-opacity="0.95"/><path d="M1255.3 1533L1263.5 1528.7L1271.7 1533L1263.5 1537.3Z" fill="#000" fill-opacity="0.95"/><path d="M1255.3 1541.5L1263.5 1537.2L1271.7 1541.5L1263.5 1545.8Z" fill="#000" fill-opacity="0.95"/><path d="M1255.3 1552.6L1263.5 1548.3L1271.7 1552.6L1263.5 1556.9Z" fill="#000" fill-opacity="0.95"/><path d="M1255.3 1590.3L1263.5 1586L1271.7 1590.3L1263.5 1594.6Z" fill="#000" fill-opacity="0.95"/><path d="M1255.3 1599.3L1263.5 1595L1271.7 1599.3L1263.5 1603.6Z" fill="#000" fill-opacity="0.95"/><path d="M1255.3 1622.6L1263.5 1618.3L1271.7 1622.6L1263.5 1626.9Z" fill="#000" fill-opacity="0.95"/><path d="M1255.3 1655L1263.5 1650.7L1271.7 1655L1263.5 1659.3Z" fill="#000" fill-opacity="0.95"/><path d="M1255.3 1685L1263.5 1680.7L1271.7 1685L1263.5 1689.3Z" fill="#000" fill-opacity="0.95"/><path d="M1255.3 1694.7L1263.5 1690.4L1271.7 1694.7L1263.5 1699Z" fill="#000" fill-opacity="0.95"/><path d="M1255.3 1705.3L1263.5 1701L1271.7 1705.3L1263.5 1709.6Z" fill="#000" fill-opacity="0.95"/><path d="M1255.3 1750.4L1263.5 1746.1L1271.7 1750.4L1263.5 1754.7Z" fill="#000" fill-opacity="0.95"/><path d="M1255.3 1756L1263.5 1751.7L1271.7 1756L1263.5 1760.3Z" fill="#000" fill-opacity="0.95"/><path d="M1255.3 1761L1263.5 1756.7L1271.7 1761L1263.5 1765.3Z" fill="#000" fill-opacity="0.95"/><path d="M1255.3 1765L1263.5 1760.7L1271.7 1765L1263.5 1769.3Z" fill="#000" fill-opacity="0.95"/><path d="M1255.3 1489.5L1263.5 1485.2L1271.7 1489.5L1263.5 1493.8Z" fill="#000" fill-opacity="0.5"/><path d="M1255.3 1504.9L1263.5 1500.6L1271.7 1504.9L1263.5 1509.2Z" fill="#000" fill-opacity="0.5"/><path d="M1255.3 1507.6L1263.5 1503.3L1271.7 1507.6L1263.5 1511.9Z" fill="#000" fill-opacity="0.5"/><path d="M1255.3 1560.6L1263.5 1556.3L1271.7 1560.6L1263.5 1564.9Z" fill="#000" fill-opacity="0.5"/><path d="M1255.3 1568.5L1263.5 1564.2L1271.7 1568.5L1263.5 1572.8Z" fill="#000" fill-opacity="0.5"/><path d="M1255.3 1576L1263.5 1571.7L1271.7 1576L1263.5 1580.3Z" fill="#000" fill-opacity="0.5"/><path d="M1255.3 1581.3L1263.5 1577L1271.7 1581.3L1263.5 1585.6Z" fill="#000" fill-opacity="0.5"/><path d="M1255.3 1585.5L1263.5 1581.2L1271.7 1585.5L1263.5 1589.8Z" fill="#000" fill-opacity="0.5"/><path d="M1255.3 1602L1263.5 1597.7L1271.7 1602L1263.5 1606.3Z" fill="#000" fill-opacity="0.5"/><path d="M1255.3 1606.2L1263.5 1601.9L1271.7 1606.2L1263.5 1610.5Z" fill="#000" fill-opacity="0.5"/><path d="M1255.3 1630L1263.5 1625.7L1271.7 1630L1263.5 1634.3Z" fill="#000" fill-opacity="0.5"/><path d="M1255.3 1638.5L1263.5 1634.2L1271.7 1638.5L1263.5 1642.8Z" fill="#000" fill-opacity="0.5"/><path d="M1255.3 1642.7L1263.5 1638.4L1271.7 1642.7L1263.5 1647Z" fill="#000" fill-opacity="0.5"/><path d="M1255.3 1653.9L1263.5 1649.6L1271.7 1653.9L1263.5 1658.2Z" fill="#000" fill-opacity="0.5"/><path d="M1255.3 1657.6L1263.5 1653.3L1271.7 1657.6L1263.5 1661.9Z" fill="#000" fill-opacity="0.5"/><path d="M1255.3 1661.8L1263.5 1657.5L1271.7 1661.8L1263.5 1666.1Z" fill="#000" fill-opacity="0.5"/><path d="M1255.3 1675.6L1263.5 1671.3L1271.7 1675.6L1263.5 1679.9Z" fill="#000" fill-opacity="0.5"/><path d="M1255.3 1682L1263.5 1677.7L1271.7 1682L1263.5 1686.3Z" fill="#000" fill-opacity="0.5"/><path d="M1255.3 1687.8L1263.5 1683.5L1271.7 1687.8L1263.5 1692.1Z" fill="#000" fill-opacity="0.5"/><path d="M1255.3 1723.3L1263.5 1719L1271.7 1723.3L1263.5 1727.6Z" fill="#000" fill-opacity="0.5"/><path d="M1255.3 1728.1L1263.5 1723.8L1271.7 1728.1L1263.5 1732.4Z" fill="#000" fill-opacity="0.5"/><path d="M1255.3 1736.6L1263.5 1732.3L1271.7 1736.6L1263.5 1740.9Z" fill="#000" fill-opacity="0.5"/><path d="M1255.3 1754L1263.5 1749.7L1271.7 1754L1263.5 1758.3Z" fill="#000" fill-opacity="0.5"/><path d="M1255.3 1758.5L1263.5 1754.2L1271.7 1758.5L1263.5 1762.8Z" fill="#000" fill-opacity="0.5"/><path d="M1255.3 1763L1263.5 1758.7L1271.7 1763L1263.5 1767.3Z" fill="#000" fill-opacity="0.5"/><path d="M1255.3 1767.9L1263.5 1763.6L1271.7 1767.9L1263.5 1772.2Z" fill="#000" fill-opacity="0.5"/><path d="M1255.3 1772.1L1263.5 1767.8L1271.7 1772.1L1263.5 1776.4Z" fill="#000" fill-opacity="0.5"/><path d="M1255.3 1776.9L1263.5 1772.6L1271.7 1776.9L1263.5 1781.2Z" fill="#000" fill-opacity="0.5"/><path d="M1255.3 1490.4L1263.5 1486.1L1271.7 1490.4L1263.5 1494.7Z" fill="#000" fill-opacity="0.6"/><path d="M1255.3 1497.3L1263.5 1493L1271.7 1497.3L1263.5 1501.6Z" fill="#000" fill-opacity="0.6"/><path d="M1255.3 1497.8L1263.5 1493.5L1271.7 1497.8L1263.5 1502.1Z" fill="#000" fill-opacity="0.6"/><path d="M1255.3 1499L1263.5 1494.7L1271.7 1499L1263.5 1503.3Z" fill="#000" fill-opacity="0.6"/><path d="M1255.3 1504.5L1263.5 1500.2L1271.7 1504.5L1263.5 1508.8Z" fill="#000" fill-opacity="0.6"/><path d="M1255.3 1507L1263.5 1502.7L1271.7 1507L1263.5 1511.3Z" fill="#000" fill-opacity="0.6"/><path d="M1255.3 1529.1L1263.5 1524.8L1271.7 1529.1L1263.5 1533.4Z" fill="#000" fill-opacity="0.6"/><path d="M1255.3 1531.1L1263.5 1526.8L1271.7 1531.1L1263.5 1535.4Z" fill="#000" fill-opacity="0.6"/><path d="M1255.3 1533.1L1263.5 1528.8L1271.7 1533.1L1263.5 1537.4Z" fill="#000" fill-opacity="0.6"/><path d="M1255.3 1552.4L1263.5 1548.1L1271.7 1552.4L1263.5 1556.7Z" fill="#000" fill-opacity="0.6"/><path d="M1255.3 1552.6L1263.5 1548.3L1271.7 1552.6L1263.5 1556.9Z" fill="#000" fill-opacity="0.6"/><path d="M1255.3 1552.9L1263.5 1548.6L1271.7 1552.9L1263.5 1557.2Z" fill="#000" fill-opacity="0.6"/><path d="M1255.3 1598.4L1263.5 1594.1L1271.7 1598.4L1263.5 1602.7Z" fill="#000" fill-opacity="0.6"/><path d="M1255.3 1599.1L1263.5 1594.8L1271.7 1599.1L1263.5 1603.4Z" fill="#000" fill-opacity="0.6"/><path d="M1255.3 1602.5L1263.5 1598.2L1271.7 1602.5L1263.5 1606.8Z" fill="#000" fill-opacity="0.6"/><path d="M1255.3 1606.3L1263.5 1602L1271.7 1606.3L1263.5 1610.6Z" fill="#000" fill-opacity="0.6"/><path d="M1255.3 1630L1263.5 1625.7L1271.7 1630L1263.5 1634.3Z" fill="#000" fill-opacity="0.6"/><path d="M1255.3 1643L1263.5 1638.7L1271.7 1643L1263.5 1647.3Z" fill="#000" fill-opacity="0.6"/><path d="M1255.3 1654.4L1263.5 1650.1L1271.7 1654.4L1263.5 1658.7Z" fill="#000" fill-opacity="0.6"/><path d="M1255.3 1655L1263.5 1650.7L1271.7 1655L1263.5 1659.3Z" fill="#000" fill-opacity="0.6"/><path d="M1255.3 1682.5L1263.5 1678.2L1271.7 1682.5L1263.5 1686.8Z" fill="#000" fill-opacity="0.6"/><path d="M1255.3 1686L1263.5 1681.7L1271.7 1686L1263.5 1690.3Z" fill="#000" fill-opacity="0.6"/><path d="M1255.3 1688.6L1263.5 1684.3L1271.7 1688.6L1263.5 1692.9Z" fill="#000" fill-opacity="0.6"/><path d="M1255.3 1694.8L1263.5 1690.5L1271.7 1694.8L1263.5 1699.1Z" fill="#000" fill-opacity="0.6"/><path d="M1255.3 1705.8L1263.5 1701.5L1271.7 1705.8L1263.5 1710.1Z" fill="#000" fill-opacity="0.6"/><path d="M1255.3 1737L1263.5 1732.7L1271.7 1737L1263.5 1741.3Z" fill="#000" fill-opacity="0.6"/><path d="M1255.3 1758.5L1263.5 1754.2L1271.7 1758.5L1263.5 1762.8Z" fill="#000" fill-opacity="0.6"/><path d="M1255.3 1760.7L1263.5 1756.4L1271.7 1760.7L1263.5 1765Z" fill="#000" fill-opacity="0.6"/><path d="M1255.3 1774.8L1263.5 1770.5L1271.7 1774.8L1263.5 1779.1Z" fill="#000" fill-opacity="0.6"/><path d="M1255.5 1490.9L1263.5 1486.4L1271.5 1490.9L1263.5 1495.4ZM1255.5 1774.8L1263.5 1770.3L1271.5 1774.8L1263.5 1779.3Z" fill="#000" fill-opacity="0.42"/></g>
<g><text x="50" y="1886.9" font-size="34.7" fill="#000">LG-9</text><line x1="52.4" y1="1898.7" x2="52.4" y2="2285.3" stroke="#8c8c8c" stroke-width="1.6"/><line x1="46.9" y1="1943.3" x2="52.4" y2="1943.3" stroke="#8c8c8c" stroke-width="1.6"/><text transform="translate(43,1949.5) scale(1.06,1)" font-size="16.4" fill="#8a8a8a" stroke="#8a8a8a" stroke-width="0.3" text-anchor="end">0</text><line x1="46.9" y1="1995" x2="52.4" y2="1995" stroke="#8c8c8c" stroke-width="1.6"/><text transform="translate(43,2001.2) scale(1.06,1)" font-size="16.4" fill="#8a8a8a" stroke="#8a8a8a" stroke-width="0.3" text-anchor="end">20</text><line x1="46.9" y1="2046.7" x2="52.4" y2="2046.7" stroke="#8c8c8c" stroke-width="1.6"/><text transform="translate(43,2052.9) scale(1.06,1)" font-size="16.4" fill="#8a8a8a" stroke="#8a8a8a" stroke-width="0.3" text-anchor="end">40</text><line x1="46.9" y1="2098.3" x2="52.4" y2="2098.3" stroke="#8c8c8c" stroke-width="1.6"/><text transform="translate(43,2104.5) scale(1.06,1)" font-size="16.4" fill="#8a8a8a" stroke="#8a8a8a" stroke-width="0.3" text-anchor="end">60</text><line x1="46.9" y1="2150" x2="52.4" y2="2150" stroke="#8c8c8c" stroke-width="1.6"/><text transform="translate(43,2156.2) scale(1.06,1)" font-size="16.4" fill="#8a8a8a" stroke="#8a8a8a" stroke-width="0.3" text-anchor="end">80</text><line x1="46.9" y1="2201.7" x2="52.4" y2="2201.7" stroke="#8c8c8c" stroke-width="1.6"/><text transform="translate(43,2207.9) scale(1.06,1)" font-size="16.4" fill="#8a8a8a" stroke="#8a8a8a" stroke-width="0.3" text-anchor="end">100</text><line x1="46.9" y1="2253.4" x2="52.4" y2="2253.4" stroke="#8c8c8c" stroke-width="1.6"/><text transform="translate(43,2259.6) scale(1.06,1)" font-size="16.4" fill="#8a8a8a" stroke="#8a8a8a" stroke-width="0.3" text-anchor="end">120</text><text transform="translate(13.2,2092.5) rotate(-90) scale(1.115,1)" font-size="15.5" fill="#8a8a8a" stroke="#8a8a8a" stroke-width="0.2" text-anchor="middle">Position</text><text x="212" y="1920" font-size="12.5" fill="#333" text-anchor="middle" textLength="127.5" lengthAdjust="spacingAndGlyphs">dcs9Xrg1139Map.csv</text><text x="529" y="1920" font-size="12.5" fill="#333" text-anchor="middle" textLength="111.5" lengthAdjust="spacingAndGlyphs">jc12X48-1Map.csv</text><line x1="212" y1="2012.4" x2="529" y2="1943.9" stroke="#108510" stroke-width="1.9" stroke-opacity="0.82"/><line x1="212" y1="2020.6" x2="529" y2="1960.3" stroke="#108510" stroke-width="1.9" stroke-opacity="0.82"/><line x1="212" y1="2021.2" x2="529" y2="1960.9" stroke="#108510" stroke-width="1.9" stroke-opacity="0.82"/><line x1="212" y1="2025.2" x2="529" y2="1969" stroke="#108510" stroke-width="1.9" stroke-opacity="0.82"/><line x1="212" y1="2027.8" x2="529" y2="1972.4" stroke="#108510" stroke-width="1.9" stroke-opacity="0.82"/><line x1="212" y1="2037.5" x2="529" y2="1992.7" stroke="#108510" stroke-width="1.9" stroke-opacity="0.82"/><line x1="212" y1="2038.1" x2="529" y2="1993.3" stroke="#108510" stroke-width="1.9" stroke-opacity="0.82"/><line x1="212" y1="2049" x2="529" y2="2005.1" stroke="#108510" stroke-width="1.9" stroke-opacity="0.82"/><line x1="212" y1="2057" x2="529" y2="2019.1" stroke="#108510" stroke-width="1.9" stroke-opacity="0.82"/><line x1="212" y1="2059.6" x2="529" y2="2027" stroke="#108510" stroke-width="1.9" stroke-opacity="0.82"/><line x1="212" y1="2060.2" x2="529" y2="2027.6" stroke="#108510" stroke-width="1.9" stroke-opacity="0.82"/><line x1="212" y1="2086.2" x2="529" y2="2052.7" stroke="#108510" stroke-width="1.9" stroke-opacity="0.82"/><line x1="212" y1="2086.8" x2="529" y2="2053.3" stroke="#108510" stroke-width="1.9" stroke-opacity="0.82"/><line x1="212" y1="2089.4" x2="529" y2="2062.1" stroke="#108510" stroke-width="1.9" stroke-opacity="0.82"/><line x1="212" y1="2101.3" x2="529" y2="2073.7" stroke="#108510" stroke-width="1.9" stroke-opacity="0.82"/><line x1="212" y1="2129.8" x2="529" y2="2088.5" stroke="#108510" stroke-width="1.9" stroke-opacity="0.82"/><line x1="212" y1="2133" x2="529" y2="2097.2" stroke="#108510" stroke-width="1.9" stroke-opacity="0.82"/><line x1="212" y1="2136.9" x2="529" y2="2103.1" stroke="#108510" stroke-width="1.9" stroke-opacity="0.82"/><line x1="212" y1="2152.4" x2="529" y2="2104.9" stroke="#108510" stroke-width="1.9" stroke-opacity="0.82"/><line x1="212" y1="2158" x2="529" y2="2113.9" stroke="#108510" stroke-width="1.9" stroke-opacity="0.82"/><line x1="212" y1="2166.5" x2="529" y2="2121.2" stroke="#108510" stroke-width="1.9" stroke-opacity="0.82"/><line x1="212" y1="2213.9" x2="529" y2="2190" stroke="#108510" stroke-width="1.9" stroke-opacity="0.82"/><line x1="212" y1="2010.2" x2="529" y2="1946.6" stroke="#6e6e6e" stroke-width="1.9" stroke-opacity="0.82"/><line x1="212" y1="2126.5" x2="529" y2="2094.5" stroke="#6e6e6e" stroke-width="1.9" stroke-opacity="0.82"/><line x1="212" y1="2135.8" x2="529" y2="2095" stroke="#6e6e6e" stroke-width="1.9" stroke-opacity="0.82"/><line x1="212" y1="2149" x2="529" y2="2101.7" stroke="#6e6e6e" stroke-width="1.9" stroke-opacity="0.82"/><line x1="212" y1="2150.2" x2="529" y2="2107.1" stroke="#6e6e6e" stroke-width="1.9" stroke-opacity="0.82"/><rect x="208.4" y="1944.3" width="7.2" height="295.2" fill="#000"/><path d="M203.8 1943.5L212 1939.2L220.2 1943.5L212 1947.8Z" fill="#000" fill-opacity="0.95"/><path d="M203.8 1995L212 1990.7L220.2 1995L212 1999.3Z" fill="#000" fill-opacity="0.95"/><path d="M203.8 2000L212 1995.7L220.2 2000L212 2004.3Z" fill="#000" fill-opacity="0.95"/><path d="M203.8 2005L212 2000.7L220.2 2005L212 2009.3Z" fill="#000" fill-opacity="0.95"/><path d="M203.8 2010.8L212 2006.5L220.2 2010.8L212 2015.1Z" fill="#000" fill-opacity="0.95"/><path d="M203.8 2019.8L212 2015.5L220.2 2019.8L212 2024.1Z" fill="#000" fill-opacity="0.95"/><path d="M203.8 2055.9L212 2051.6L220.2 2055.9L212 2060.2Z" fill="#000" fill-opacity="0.95"/><path d="M203.8 2062L212 2057.7L220.2 2062L212 2066.3Z" fill="#000" fill-opacity="0.95"/><path d="M203.8 2066L212 2061.7L220.2 2066L212 2070.3Z" fill="#000" fill-opacity="0.95"/><path d="M203.8 2086L212 2081.7L220.2 2086L212 2090.3Z" fill="#000" fill-opacity="0.95"/><path d="M203.8 2089L212 2084.7L220.2 2089L212 2093.3Z" fill="#000" fill-opacity="0.95"/><path d="M203.8 2092L212 2087.7L220.2 2092L212 2096.3Z" fill="#000" fill-opacity="0.95"/><path d="M203.8 2095L212 2090.7L220.2 2095L212 2099.3Z" fill="#000" fill-opacity="0.95"/><path d="M203.8 2112.6L212 2108.3L220.2 2112.6L212 2116.9Z" fill="#000" fill-opacity="0.95"/><path d="M203.8 2133L212 2128.7L220.2 2133L212 2137.3Z" fill="#000" fill-opacity="0.95"/><path d="M203.8 2138L212 2133.7L220.2 2138L212 2142.3Z" fill="#000" fill-opacity="0.95"/><path d="M203.8 2148L212 2143.7L220.2 2148L212 2152.3Z" fill="#000" fill-opacity="0.95"/><path d="M203.8 2152L212 2147.7L220.2 2152L212 2156.3Z" fill="#000" fill-opacity="0.95"/><path d="M203.8 2156L212 2151.7L220.2 2156L212 2160.3Z" fill="#000" fill-opacity="0.95"/><path d="M203.8 2159.2L212 2154.9L220.2 2159.2L212 2163.5Z" fill="#000" fill-opacity="0.95"/><path d="M203.8 2165L212 2160.7L220.2 2165L212 2169.3Z" fill="#000" fill-opacity="0.95"/><path d="M203.8 2198.5L212 2194.2L220.2 2198.5L212 2202.8Z" fill="#000" fill-opacity="0.95"/><path d="M203.8 2203.2L212 2198.9L220.2 2203.2L212 2207.5Z" fill="#000" fill-opacity="0.95"/><path d="M203.8 2209.1L212 2204.8L220.2 2209.1L212 2213.4Z" fill="#000" fill-opacity="0.95"/><path d="M203.8 2238L212 2233.7L220.2 2238L212 2242.3Z" fill="#000" fill-opacity="0.95"/><path d="M203.8 2240.5L212 2236.2L220.2 2240.5L212 2244.8Z" fill="#000" fill-opacity="0.95"/><path d="M203.8 1950.4L212 1946.1L220.2 1950.4L212 1954.7Z" fill="#000" fill-opacity="0.5"/><path d="M203.8 1957.3L212 1953L220.2 1957.3L212 1961.6Z" fill="#000" fill-opacity="0.5"/><path d="M203.8 1960.5L212 1956.2L220.2 1960.5L212 1964.8Z" fill="#000" fill-opacity="0.5"/><path d="M203.8 1965.8L212 1961.5L220.2 1965.8L212 1970.1Z" fill="#000" fill-opacity="0.5"/><path d="M203.8 1970L212 1965.7L220.2 1970L212 1974.3Z" fill="#000" fill-opacity="0.5"/><path d="M203.8 1974.2L212 1969.9L220.2 1974.2L212 1978.5Z" fill="#000" fill-opacity="0.5"/><path d="M203.8 1979.5L212 1975.2L220.2 1979.5L212 1983.8Z" fill="#000" fill-opacity="0.5"/><path d="M203.8 1983.8L212 1979.5L220.2 1983.8L212 1988.1Z" fill="#000" fill-opacity="0.5"/><path d="M203.8 2025.1L212 2020.8L220.2 2025.1L212 2029.4Z" fill="#000" fill-opacity="0.5"/><path d="M203.8 2028.3L212 2024L220.2 2028.3L212 2032.6Z" fill="#000" fill-opacity="0.5"/><path d="M203.8 2032.6L212 2028.3L220.2 2032.6L212 2036.9Z" fill="#000" fill-opacity="0.5"/><path d="M203.8 2035L212 2030.7L220.2 2035L212 2039.3Z" fill="#000" fill-opacity="0.5"/><path d="M203.8 2037.9L212 2033.6L220.2 2037.9L212 2042.2Z" fill="#000" fill-opacity="0.5"/><path d="M203.8 2046.3L212 2042L220.2 2046.3L212 2050.6Z" fill="#000" fill-opacity="0.5"/><path d="M203.8 2049.5L212 2045.2L220.2 2049.5L212 2053.8Z" fill="#000" fill-opacity="0.5"/><path d="M203.8 2059.1L212 2054.8L220.2 2059.1L212 2063.4Z" fill="#000" fill-opacity="0.5"/><path d="M203.8 2070.7L212 2066.4L220.2 2070.7L212 2075Z" fill="#000" fill-opacity="0.5"/><path d="M203.8 2072.9L212 2068.6L220.2 2072.9L212 2077.2Z" fill="#000" fill-opacity="0.5"/><path d="M203.8 2077.1L212 2072.8L220.2 2077.1L212 2081.4Z" fill="#000" fill-opacity="0.5"/><path d="M203.8 2081.3L212 2077L220.2 2081.3L212 2085.6Z" fill="#000" fill-opacity="0.5"/><path d="M203.8 2102.5L212 2098.2L220.2 2102.5L212 2106.8Z" fill="#000" fill-opacity="0.5"/><path d="M203.8 2118.4L212 2114.1L220.2 2118.4L212 2122.7Z" fill="#000" fill-opacity="0.5"/><path d="M203.8 2125.3L212 2121L220.2 2125.3L212 2129.6Z" fill="#000" fill-opacity="0.5"/><path d="M203.8 2128L212 2123.7L220.2 2128L212 2132.3Z" fill="#000" fill-opacity="0.5"/><path d="M203.8 2130.5L212 2126.2L220.2 2130.5L212 2134.8Z" fill="#000" fill-opacity="0.5"/><path d="M203.8 2140.1L212 2135.8L220.2 2140.1L212 2144.4Z" fill="#000" fill-opacity="0.5"/><path d="M203.8 2162.4L212 2158.1L220.2 2162.4L212 2166.7Z" fill="#000" fill-opacity="0.5"/><path d="M203.8 2168.8L212 2164.5L220.2 2168.8L212 2173.1Z" fill="#000" fill-opacity="0.5"/><path d="M203.8 2182L212 2177.7L220.2 2182L212 2186.3Z" fill="#000" fill-opacity="0.5"/><path d="M203.8 2187.3L212 2183L220.2 2187.3L212 2191.6Z" fill="#000" fill-opacity="0.5"/><path d="M203.8 2214.4L212 2210.1L220.2 2214.4L212 2218.7Z" fill="#000" fill-opacity="0.5"/><path d="M203.8 2219.7L212 2215.4L220.2 2219.7L212 2224Z" fill="#000" fill-opacity="0.5"/><path d="M203.8 2223.9L212 2219.6L220.2 2223.9L212 2228.2Z" fill="#000" fill-opacity="0.5"/><path d="M203.8 2227.6L212 2223.3L220.2 2227.6L212 2231.9Z" fill="#000" fill-opacity="0.5"/><path d="M203.8 2232.4L212 2228.1L220.2 2232.4L212 2236.7Z" fill="#000" fill-opacity="0.5"/><path d="M203.8 2010.2L212 2005.9L220.2 2010.2L212 2014.5Z" fill="#000" fill-opacity="0.6"/><path d="M203.8 2012.4L212 2008.1L220.2 2012.4L212 2016.7Z" fill="#000" fill-opacity="0.6"/><path d="M203.8 2020.6L212 2016.3L220.2 2020.6L212 2024.9Z" fill="#000" fill-opacity="0.6"/><path d="M203.8 2021.2L212 2016.9L220.2 2021.2L212 2025.5Z" fill="#000" fill-opacity="0.6"/><path d="M203.8 2025.2L212 2020.9L220.2 2025.2L212 2029.5Z" fill="#000" fill-opacity="0.6"/><path d="M203.8 2027.8L212 2023.5L220.2 2027.8L212 2032.1Z" fill="#000" fill-opacity="0.6"/><path d="M203.8 2037.5L212 2033.2L220.2 2037.5L212 2041.8Z" fill="#000" fill-opacity="0.6"/><path d="M203.8 2038.1L212 2033.8L220.2 2038.1L212 2042.4Z" fill="#000" fill-opacity="0.6"/><path d="M203.8 2049L212 2044.7L220.2 2049L212 2053.3Z" fill="#000" fill-opacity="0.6"/><path d="M203.8 2057L212 2052.7L220.2 2057L212 2061.3Z" fill="#000" fill-opacity="0.6"/><path d="M203.8 2059.6L212 2055.3L220.2 2059.6L212 2063.9Z" fill="#000" fill-opacity="0.6"/><path d="M203.8 2060.2L212 2055.9L220.2 2060.2L212 2064.5Z" fill="#000" fill-opacity="0.6"/><path d="M203.8 2086.2L212 2081.9L220.2 2086.2L212 2090.5Z" fill="#000" fill-opacity="0.6"/><path d="M203.8 2086.8L212 2082.5L220.2 2086.8L212 2091.1Z" fill="#000" fill-opacity="0.6"/><path d="M203.8 2089.4L212 2085.1L220.2 2089.4L212 2093.7Z" fill="#000" fill-opacity="0.6"/><path d="M203.8 2101.3L212 2097L220.2 2101.3L212 2105.6Z" fill="#000" fill-opacity="0.6"/><path d="M203.8 2126.5L212 2122.2L220.2 2126.5L212 2130.8Z" fill="#000" fill-opacity="0.6"/><path d="M203.8 2129.8L212 2125.5L220.2 2129.8L212 2134.1Z" fill="#000" fill-opacity="0.6"/><path d="M203.8 2133L212 2128.7L220.2 2133L212 2137.3Z" fill="#000" fill-opacity="0.6"/><path d="M203.8 2135.8L212 2131.5L220.2 2135.8L212 2140.1Z" fill="#000" fill-opacity="0.6"/><path d="M203.8 2136.9L212 2132.6L220.2 2136.9L212 2141.2Z" fill="#000" fill-opacity="0.6"/><path d="M203.8 2149L212 2144.7L220.2 2149L212 2153.3Z" fill="#000" fill-opacity="0.6"/><path d="M203.8 2150.2L212 2145.9L220.2 2150.2L212 2154.5Z" fill="#000" fill-opacity="0.6"/><path d="M203.8 2152.4L212 2148.1L220.2 2152.4L212 2156.7Z" fill="#000" fill-opacity="0.6"/><path d="M203.8 2158L212 2153.7L220.2 2158L212 2162.3Z" fill="#000" fill-opacity="0.6"/><path d="M203.8 2166.5L212 2162.2L220.2 2166.5L212 2170.8Z" fill="#000" fill-opacity="0.6"/><path d="M203.8 2213.9L212 2209.6L220.2 2213.9L212 2218.2Z" fill="#000" fill-opacity="0.6"/><path d="M204 1944.3L212 1939.8L220 1944.3L212 1948.8ZM204 2239.5L212 2235L220 2239.5L212 2244Z" fill="#000" fill-opacity="0.42"/><rect x="525.4" y="1944.3" width="7.2" height="245.2" fill="#000"/><path d="M520.8 1944L529 1939.7L537.2 1944L529 1948.3Z" fill="#000" fill-opacity="0.95"/><path d="M520.8 1959.4L529 1955.1L537.2 1959.4L529 1963.7Z" fill="#000" fill-opacity="0.95"/><path d="M520.8 1962.6L529 1958.3L537.2 1962.6L529 1966.9Z" fill="#000" fill-opacity="0.95"/><path d="M520.8 1984.3L529 1980L537.2 1984.3L529 1988.6Z" fill="#000" fill-opacity="0.95"/><path d="M520.8 1992L529 1987.7L537.2 1992L529 1996.3Z" fill="#000" fill-opacity="0.95"/><path d="M520.8 1996L529 1991.7L537.2 1996L529 2000.3Z" fill="#000" fill-opacity="0.95"/><path d="M520.8 2006.6L529 2002.3L537.2 2006.6L529 2010.9Z" fill="#000" fill-opacity="0.95"/><path d="M520.8 2028.3L529 2024L537.2 2028.3L529 2032.6Z" fill="#000" fill-opacity="0.95"/><path d="M520.8 2045.8L529 2041.5L537.2 2045.8L529 2050.1Z" fill="#000" fill-opacity="0.95"/><path d="M520.8 2052.2L529 2047.9L537.2 2052.2L529 2056.5Z" fill="#000" fill-opacity="0.95"/><path d="M520.8 2083.5L529 2079.2L537.2 2083.5L529 2087.8Z" fill="#000" fill-opacity="0.95"/><path d="M520.8 2095L529 2090.7L537.2 2095L529 2099.3Z" fill="#000" fill-opacity="0.95"/><path d="M520.8 2097L529 2092.7L537.2 2097L529 2101.3Z" fill="#000" fill-opacity="0.95"/><path d="M520.8 2103L529 2098.7L537.2 2103L529 2107.3Z" fill="#000" fill-opacity="0.95"/><path d="M520.8 2106L529 2101.7L537.2 2106L529 2110.3Z" fill="#000" fill-opacity="0.95"/><path d="M520.8 2114.5L529 2110.2L537.2 2114.5L529 2118.8Z" fill="#000" fill-opacity="0.95"/><path d="M520.8 2120L529 2115.7L537.2 2120L529 2124.3Z" fill="#000" fill-opacity="0.95"/><path d="M520.8 2136.7L529 2132.4L537.2 2136.7L529 2141Z" fill="#000" fill-opacity="0.95"/><path d="M520.8 2185.5L529 2181.2L537.2 2185.5L529 2189.8Z" fill="#000" fill-opacity="0.95"/><path d="M520.8 1970L529 1965.7L537.2 1970L529 1974.3Z" fill="#000" fill-opacity="0.5"/><path d="M520.8 1973.2L529 1968.9L537.2 1973.2L529 1977.5Z" fill="#000" fill-opacity="0.5"/><path d="M520.8 1976.4L529 1972.1L537.2 1976.4L529 1980.7Z" fill="#000" fill-opacity="0.5"/><path d="M520.8 1979L529 1974.7L537.2 1979L529 1983.3Z" fill="#000" fill-opacity="0.5"/><path d="M520.8 1981.7L529 1977.4L537.2 1981.7L529 1986Z" fill="#000" fill-opacity="0.5"/><path d="M520.8 1988L529 1983.7L537.2 1988L529 1992.3Z" fill="#000" fill-opacity="0.5"/><path d="M520.8 2000.7L529 1996.4L537.2 2000.7L529 2005Z" fill="#000" fill-opacity="0.5"/><path d="M520.8 2018.8L529 2014.5L537.2 2018.8L529 2023.1Z" fill="#000" fill-opacity="0.5"/><path d="M520.8 2022L529 2017.7L537.2 2022L529 2026.3Z" fill="#000" fill-opacity="0.5"/><path d="M520.8 2036.3L529 2032L537.2 2036.3L529 2040.6Z" fill="#000" fill-opacity="0.5"/><path d="M520.8 2062.3L529 2058L537.2 2062.3L529 2066.6Z" fill="#000" fill-opacity="0.5"/><path d="M520.8 2068.1L529 2063.8L537.2 2068.1L529 2072.4Z" fill="#000" fill-opacity="0.5"/><path d="M520.8 2073.9L529 2069.6L537.2 2073.9L529 2078.2Z" fill="#000" fill-opacity="0.5"/><path d="M520.8 2088.8L529 2084.5L537.2 2088.8L529 2093.1Z" fill="#000" fill-opacity="0.5"/><path d="M520.8 2089L529 2084.7L537.2 2089L529 2093.3Z" fill="#000" fill-opacity="0.5"/><path d="M520.8 2093.8L529 2089.5L537.2 2093.8L529 2098.1Z" fill="#000" fill-opacity="0.5"/><path d="M520.8 2101.2L529 2096.9L537.2 2101.2L529 2105.5Z" fill="#000" fill-opacity="0.5"/><path d="M520.8 2107.6L529 2103.3L537.2 2107.6L529 2111.9Z" fill="#000" fill-opacity="0.5"/><path d="M520.8 2118.2L529 2113.9L537.2 2118.2L529 2122.5Z" fill="#000" fill-opacity="0.5"/><path d="M520.8 2122.4L529 2118.1L537.2 2122.4L529 2126.7Z" fill="#000" fill-opacity="0.5"/><path d="M520.8 2127.7L529 2123.4L537.2 2127.7L529 2132Z" fill="#000" fill-opacity="0.5"/><path d="M520.8 2141.5L529 2137.2L537.2 2141.5L529 2145.8Z" fill="#000" fill-opacity="0.5"/><path d="M520.8 2145L529 2140.7L537.2 2145L529 2149.3Z" fill="#000" fill-opacity="0.5"/><path d="M520.8 2148L529 2143.7L537.2 2148L529 2152.3Z" fill="#000" fill-opacity="0.5"/><path d="M520.8 2151L529 2146.7L537.2 2151L529 2155.3Z" fill="#000" fill-opacity="0.5"/><path d="M520.8 2154.2L529 2149.9L537.2 2154.2L529 2158.5Z" fill="#000" fill-opacity="0.5"/><path d="M520.8 2190.8L529 2186.5L537.2 2190.8L529 2195.1Z" fill="#000" fill-opacity="0.5"/><path d="M520.8 1943.9L529 1939.6L537.2 1943.9L529 1948.2Z" fill="#000" fill-opacity="0.6"/><path d="M520.8 1946.6L529 1942.3L537.2 1946.6L529 1950.9Z" fill="#000" fill-opacity="0.6"/><path d="M520.8 1960.3L529 1956L537.2 1960.3L529 1964.6Z" fill="#000" fill-opacity="0.6"/><path d="M520.8 1960.9L529 1956.6L537.2 1960.9L529 1965.2Z" fill="#000" fill-opacity="0.6"/><path d="M520.8 1969L529 1964.7L537.2 1969L529 1973.3Z" fill="#000" fill-opacity="0.6"/><path d="M520.8 1972.4L529 1968.1L537.2 1972.4L529 1976.7Z" fill="#000" fill-opacity="0.6"/><path d="M520.8 1992.7L529 1988.4L537.2 1992.7L529 1997Z" fill="#000" fill-opacity="0.6"/><path d="M520.8 1993.3L529 1989L537.2 1993.3L529 1997.6Z" fill="#000" fill-opacity="0.6"/><path d="M520.8 2005.1L529 2000.8L537.2 2005.1L529 2009.4Z" fill="#000" fill-opacity="0.6"/><path d="M520.8 2019.1L529 2014.8L537.2 2019.1L529 2023.4Z" fill="#000" fill-opacity="0.6"/><path d="M520.8 2027L529 2022.7L537.2 2027L529 2031.3Z" fill="#000" fill-opacity="0.6"/><path d="M520.8 2027.6L529 2023.3L537.2 2027.6L529 2031.9Z" fill="#000" fill-opacity="0.6"/><path d="M520.8 2052.7L529 2048.4L537.2 2052.7L529 2057Z" fill="#000" fill-opacity="0.6"/><path d="M520.8 2053.3L529 2049L537.2 2053.3L529 2057.6Z" fill="#000" fill-opacity="0.6"/><path d="M520.8 2062.1L529 2057.8L537.2 2062.1L529 2066.4Z" fill="#000" fill-opacity="0.6"/><path d="M520.8 2073.7L529 2069.4L537.2 2073.7L529 2078Z" fill="#000" fill-opacity="0.6"/><path d="M520.8 2088.5L529 2084.2L537.2 2088.5L529 2092.8Z" fill="#000" fill-opacity="0.6"/><path d="M520.8 2094.5L529 2090.2L537.2 2094.5L529 2098.8Z" fill="#000" fill-opacity="0.6"/><path d="M520.8 2095L529 2090.7L537.2 2095L529 2099.3Z" fill="#000" fill-opacity="0.6"/><path d="M520.8 2097.2L529 2092.9L537.2 2097.2L529 2101.5Z" fill="#000" fill-opacity="0.6"/><path d="M520.8 2101.7L529 2097.4L537.2 2101.7L529 2106Z" fill="#000" fill-opacity="0.6"/><path d="M520.8 2103.1L529 2098.8L537.2 2103.1L529 2107.4Z" fill="#000" fill-opacity="0.6"/><path d="M520.8 2104.9L529 2100.6L537.2 2104.9L529 2109.2Z" fill="#000" fill-opacity="0.6"/><path d="M520.8 2107.1L529 2102.8L537.2 2107.1L529 2111.4Z" fill="#000" fill-opacity="0.6"/><path d="M520.8 2113.9L529 2109.6L537.2 2113.9L529 2118.2Z" fill="#000" fill-opacity="0.6"/><path d="M520.8 2121.2L529 2116.9L537.2 2121.2L529 2125.5Z" fill="#000" fill-opacity="0.6"/><path d="M520.8 2190L529 2185.7L537.2 2190L529 2194.3Z" fill="#000" fill-opacity="0.6"/><path d="M521 1944.3L529 1939.8L537 1944.3L529 1948.8ZM521 2189.5L529 2185L537 2189.5L529 2194Z" fill="#000" fill-opacity="0.42"/></g>
<g><text x="785.4" y="1894.1" font-size="34.7" fill="#000">LG-</text><path d="M852.3 1894.1L852.3 1875L846.2 1879.3L846.2 1875.9Q849.7 1873.7 852.9 1870.1L855.8 1870.1L855.8 1894.1Z" fill="#000"/><text x="861.15" y="1894.1" font-size="34.7" fill="#000">0</text><line x1="786.6" y1="1903" x2="786.6" y2="2290" stroke="#8c8c8c" stroke-width="1.6"/><line x1="781.1" y1="1954.2" x2="786.6" y2="1954.2" stroke="#8c8c8c" stroke-width="1.6"/><text transform="translate(777.9,1960.4) scale(1.06,1)" font-size="16.4" fill="#8a8a8a" stroke="#8a8a8a" stroke-width="0.3" text-anchor="end">0</text><line x1="781.1" y1="2019" x2="786.6" y2="2019" stroke="#8c8c8c" stroke-width="1.6"/><text transform="translate(777.9,2025.2) scale(1.06,1)" font-size="16.4" fill="#8a8a8a" stroke="#8a8a8a" stroke-width="0.3" text-anchor="end">20</text><line x1="781.1" y1="2083.7" x2="786.6" y2="2083.7" stroke="#8c8c8c" stroke-width="1.6"/><text transform="translate(777.9,2089.9) scale(1.06,1)" font-size="16.4" fill="#8a8a8a" stroke="#8a8a8a" stroke-width="0.3" text-anchor="end">40</text><line x1="781.1" y1="2148.5" x2="786.6" y2="2148.5" stroke="#8c8c8c" stroke-width="1.6"/><text transform="translate(777.9,2154.7) scale(1.06,1)" font-size="16.4" fill="#8a8a8a" stroke="#8a8a8a" stroke-width="0.3" text-anchor="end">60</text><line x1="781.1" y1="2213.2" x2="786.6" y2="2213.2" stroke="#8c8c8c" stroke-width="1.6"/><text transform="translate(777.9,2219.4) scale(1.06,1)" font-size="16.4" fill="#8a8a8a" stroke="#8a8a8a" stroke-width="0.3" text-anchor="end">80</text><line x1="781.1" y1="2278" x2="786.6" y2="2278" stroke="#8c8c8c" stroke-width="1.6"/><text transform="translate(777.9,2284.2) scale(1.06,1)" font-size="16.4" fill="#8a8a8a" stroke="#8a8a8a" stroke-width="0.3" text-anchor="end">100</text><text transform="translate(747,2096.4) rotate(-90) scale(1.115,1)" font-size="15.5" fill="#8a8a8a" stroke="#8a8a8a" stroke-width="0.2" text-anchor="middle">Position</text><text x="946" y="1923.5" font-size="12.5" fill="#333" text-anchor="middle" textLength="127.5" lengthAdjust="spacingAndGlyphs">dcs9Xrg1139Map.csv</text><text x="1264" y="1923.5" font-size="12.5" fill="#333" text-anchor="middle" textLength="111.5" lengthAdjust="spacingAndGlyphs">jc12X48-1Map.csv</text><line x1="946" y1="1959.5" x2="1264" y2="1954.8" stroke="#108510" stroke-width="1.9" stroke-opacity="0.82"/><line x1="946" y1="1997.4" x2="1264" y2="2013.4" stroke="#108510" stroke-width="1.9" stroke-opacity="0.82"/><line x1="946" y1="2038.6" x2="1264" y2="2079.8" stroke="#108510" stroke-width="1.9" stroke-opacity="0.82"/><line x1="946" y1="2045.9" x2="1264" y2="2090.3" stroke="#108510" stroke-width="1.9" stroke-opacity="0.82"/><line x1="946" y1="2079" x2="1264" y2="2140.8" stroke="#108510" stroke-width="1.9" stroke-opacity="0.82"/><line x1="946" y1="2103.9" x2="1264" y2="2215.8" stroke="#108510" stroke-width="1.9" stroke-opacity="0.82"/><line x1="946" y1="2104.4" x2="1264" y2="2216.3" stroke="#108510" stroke-width="1.9" stroke-opacity="0.82"/><line x1="946" y1="1954.9" x2="1264" y2="1955.5" stroke="#6e6e6e" stroke-width="1.9" stroke-opacity="0.82"/><line x1="946" y1="1955.9" x2="1264" y2="1958.7" stroke="#6e6e6e" stroke-width="1.9" stroke-opacity="0.82"/><rect x="942.4" y="1954.5" width="7.2" height="150.2" fill="#000"/><path d="M937.8 1959L946 1954.7L954.2 1959L946 1963.3Z" fill="#000" fill-opacity="0.95"/><path d="M937.8 1960.5L946 1956.2L954.2 1960.5L946 1964.8Z" fill="#000" fill-opacity="0.95"/><path d="M937.8 1962L946 1957.7L954.2 1962L946 1966.3Z" fill="#000" fill-opacity="0.95"/><path d="M937.8 1963.5L946 1959.2L954.2 1963.5L946 1967.8Z" fill="#000" fill-opacity="0.95"/><path d="M937.8 2015.5L946 2011.2L954.2 2015.5L946 2019.8Z" fill="#000" fill-opacity="0.95"/><path d="M937.8 2049L946 2044.7L954.2 2049L946 2053.3Z" fill="#000" fill-opacity="0.95"/><path d="M937.8 1966L946 1961.7L954.2 1966L946 1970.3Z" fill="#000" fill-opacity="0.5"/><path d="M937.8 1972L946 1967.7L954.2 1972L946 1976.3Z" fill="#000" fill-opacity="0.5"/><path d="M937.8 1977L946 1972.7L954.2 1977L946 1981.3Z" fill="#000" fill-opacity="0.5"/><path d="M937.8 1988L946 1983.7L954.2 1988L946 1992.3Z" fill="#000" fill-opacity="0.5"/><path d="M937.8 1998L946 1993.7L954.2 1998L946 2002.3Z" fill="#000" fill-opacity="0.5"/><path d="M937.8 2008L946 2003.7L954.2 2008L946 2012.3Z" fill="#000" fill-opacity="0.5"/><path d="M937.8 2019L946 2014.7L954.2 2019L946 2023.3Z" fill="#000" fill-opacity="0.5"/><path d="M937.8 2039.5L946 2035.2L954.2 2039.5L946 2043.8Z" fill="#000" fill-opacity="0.5"/><path d="M937.8 2056L946 2051.7L954.2 2056L946 2060.3Z" fill="#000" fill-opacity="0.5"/><path d="M937.8 2068L946 2063.7L954.2 2068L946 2072.3Z" fill="#000" fill-opacity="0.5"/><path d="M937.8 2078L946 2073.7L954.2 2078L946 2082.3Z" fill="#000" fill-opacity="0.5"/><path d="M937.8 2083L946 2078.7L954.2 2083L946 2087.3Z" fill="#000" fill-opacity="0.5"/><path d="M937.8 1954.9L946 1950.6L954.2 1954.9L946 1959.2Z" fill="#000" fill-opacity="0.6"/><path d="M937.8 1955.9L946 1951.6L954.2 1955.9L946 1960.2Z" fill="#000" fill-opacity="0.6"/><path d="M937.8 1959.5L946 1955.2L954.2 1959.5L946 1963.8Z" fill="#000" fill-opacity="0.6"/><path d="M937.8 1997.4L946 1993.1L954.2 1997.4L946 2001.7Z" fill="#000" fill-opacity="0.6"/><path d="M937.8 2038.6L946 2034.3L954.2 2038.6L946 2042.9Z" fill="#000" fill-opacity="0.6"/><path d="M937.8 2045.9L946 2041.6L954.2 2045.9L946 2050.2Z" fill="#000" fill-opacity="0.6"/><path d="M937.8 2079L946 2074.7L954.2 2079L946 2083.3Z" fill="#000" fill-opacity="0.6"/><path d="M937.8 2103.9L946 2099.6L954.2 2103.9L946 2108.2Z" fill="#000" fill-opacity="0.6"/><path d="M937.8 2104.4L946 2100.1L954.2 2104.4L946 2108.7Z" fill="#000" fill-opacity="0.6"/><path d="M938 1954.5L946 1950L954 1954.5L946 1959ZM938 2104.7L946 2100.2L954 2104.7L946 2109.2Z" fill="#000" fill-opacity="0.42"/><rect x="1260.4" y="1954.8" width="7.2" height="283.1" fill="#000"/><path d="M1255.8 1955.5L1264 1951.2L1272.2 1955.5L1264 1959.8Z" fill="#000" fill-opacity="0.95"/><path d="M1255.8 1997L1264 1992.7L1272.2 1997L1264 2001.3Z" fill="#000" fill-opacity="0.95"/><path d="M1255.8 2019.5L1264 2015.2L1272.2 2019.5L1264 2023.8Z" fill="#000" fill-opacity="0.95"/><path d="M1255.8 2056.3L1264 2052L1272.2 2056.3L1264 2060.6Z" fill="#000" fill-opacity="0.95"/><path d="M1255.8 2058L1264 2053.7L1272.2 2058L1264 2062.3Z" fill="#000" fill-opacity="0.95"/><path d="M1255.8 2059.5L1264 2055.2L1272.2 2059.5L1264 2063.8Z" fill="#000" fill-opacity="0.95"/><path d="M1255.8 2070L1264 2065.7L1272.2 2070L1264 2074.3Z" fill="#000" fill-opacity="0.95"/><path d="M1255.8 2078L1264 2073.7L1272.2 2078L1264 2082.3Z" fill="#000" fill-opacity="0.95"/><path d="M1255.8 2090.3L1264 2086L1272.2 2090.3L1264 2094.6Z" fill="#000" fill-opacity="0.95"/><path d="M1255.8 2096.1L1264 2091.8L1272.2 2096.1L1264 2100.4Z" fill="#000" fill-opacity="0.95"/><path d="M1255.8 2104.5L1264 2100.2L1272.2 2104.5L1264 2108.8Z" fill="#000" fill-opacity="0.95"/><path d="M1255.8 2150.7L1264 2146.4L1272.2 2150.7L1264 2155Z" fill="#000" fill-opacity="0.95"/><path d="M1255.8 2165L1264 2160.7L1272.2 2165L1264 2169.3Z" fill="#000" fill-opacity="0.95"/><path d="M1255.8 2187.8L1264 2183.5L1272.2 2187.8L1264 2192.1Z" fill="#000" fill-opacity="0.95"/><path d="M1255.8 2225L1264 2220.7L1272.2 2225L1264 2229.3Z" fill="#000" fill-opacity="0.95"/><path d="M1255.8 2238.7L1264 2234.4L1272.2 2238.7L1264 2243Z" fill="#000" fill-opacity="0.95"/><path d="M1255.8 1953L1264 1948.7L1272.2 1953L1264 1957.3Z" fill="#000" fill-opacity="0.5"/><path d="M1255.8 1958.8L1264 1954.5L1272.2 1958.8L1264 1963.1Z" fill="#000" fill-opacity="0.5"/><path d="M1255.8 2012.3L1264 2008L1272.2 2012.3L1264 2016.6Z" fill="#000" fill-opacity="0.5"/><path d="M1255.8 2018.2L1264 2013.9L1272.2 2018.2L1264 2022.5Z" fill="#000" fill-opacity="0.5"/><path d="M1255.8 2021.4L1264 2017.1L1272.2 2021.4L1264 2025.7Z" fill="#000" fill-opacity="0.5"/><path d="M1255.8 2027.7L1264 2023.4L1272.2 2027.7L1264 2032Z" fill="#000" fill-opacity="0.5"/><path d="M1255.8 2068L1264 2063.7L1272.2 2068L1264 2072.3Z" fill="#000" fill-opacity="0.5"/><path d="M1255.8 2074L1264 2069.7L1272.2 2074L1264 2078.3Z" fill="#000" fill-opacity="0.5"/><path d="M1255.8 2081.8L1264 2077.5L1272.2 2081.8L1264 2086.1Z" fill="#000" fill-opacity="0.5"/><path d="M1255.8 2095.6L1264 2091.3L1272.2 2095.6L1264 2099.9Z" fill="#000" fill-opacity="0.5"/><path d="M1255.8 2102L1264 2097.7L1272.2 2102L1264 2106.3Z" fill="#000" fill-opacity="0.5"/><path d="M1255.8 2139.5L1264 2135.2L1272.2 2139.5L1264 2143.8Z" fill="#000" fill-opacity="0.5"/><path d="M1255.8 2163.4L1264 2159.1L1272.2 2163.4L1264 2167.7Z" fill="#000" fill-opacity="0.5"/><path d="M1255.8 2167.6L1264 2163.3L1272.2 2167.6L1264 2171.9Z" fill="#000" fill-opacity="0.5"/><path d="M1255.8 2207.4L1264 2203.1L1272.2 2207.4L1264 2211.7Z" fill="#000" fill-opacity="0.5"/><path d="M1255.8 2210L1264 2205.7L1272.2 2210L1264 2214.3Z" fill="#000" fill-opacity="0.5"/><path d="M1255.8 2212.7L1264 2208.4L1272.2 2212.7L1264 2217Z" fill="#000" fill-opacity="0.5"/><path d="M1255.8 2220.1L1264 2215.8L1272.2 2220.1L1264 2224.4Z" fill="#000" fill-opacity="0.5"/><path d="M1255.8 2229L1264 2224.7L1272.2 2229L1264 2233.3Z" fill="#000" fill-opacity="0.5"/><path d="M1255.8 2232.9L1264 2228.6L1272.2 2232.9L1264 2237.2Z" fill="#000" fill-opacity="0.5"/><path d="M1255.8 1954.8L1264 1950.5L1272.2 1954.8L1264 1959.1Z" fill="#000" fill-opacity="0.6"/><path d="M1255.8 1955.5L1264 1951.2L1272.2 1955.5L1264 1959.8Z" fill="#000" fill-opacity="0.6"/><path d="M1255.8 1958.7L1264 1954.4L1272.2 1958.7L1264 1963Z" fill="#000" fill-opacity="0.6"/><path d="M1255.8 2013.4L1264 2009.1L1272.2 2013.4L1264 2017.7Z" fill="#000" fill-opacity="0.6"/><path d="M1255.8 2079.8L1264 2075.5L1272.2 2079.8L1264 2084.1Z" fill="#000" fill-opacity="0.6"/><path d="M1255.8 2090.3L1264 2086L1272.2 2090.3L1264 2094.6Z" fill="#000" fill-opacity="0.6"/><path d="M1255.8 2140.8L1264 2136.5L1272.2 2140.8L1264 2145.1Z" fill="#000" fill-opacity="0.6"/><path d="M1255.8 2215.8L1264 2211.5L1272.2 2215.8L1264 2220.1Z" fill="#000" fill-opacity="0.6"/><path d="M1255.8 2216.3L1264 2212L1272.2 2216.3L1264 2220.6Z" fill="#000" fill-opacity="0.6"/><path d="M1256 1954.8L1264 1950.3L1272 1954.8L1264 1959.3ZM1256 2237.9L1264 2233.4L1272 2237.9L1264 2242.4Z" fill="#000" fill-opacity="0.42"/></g>
</svg></body></html>
